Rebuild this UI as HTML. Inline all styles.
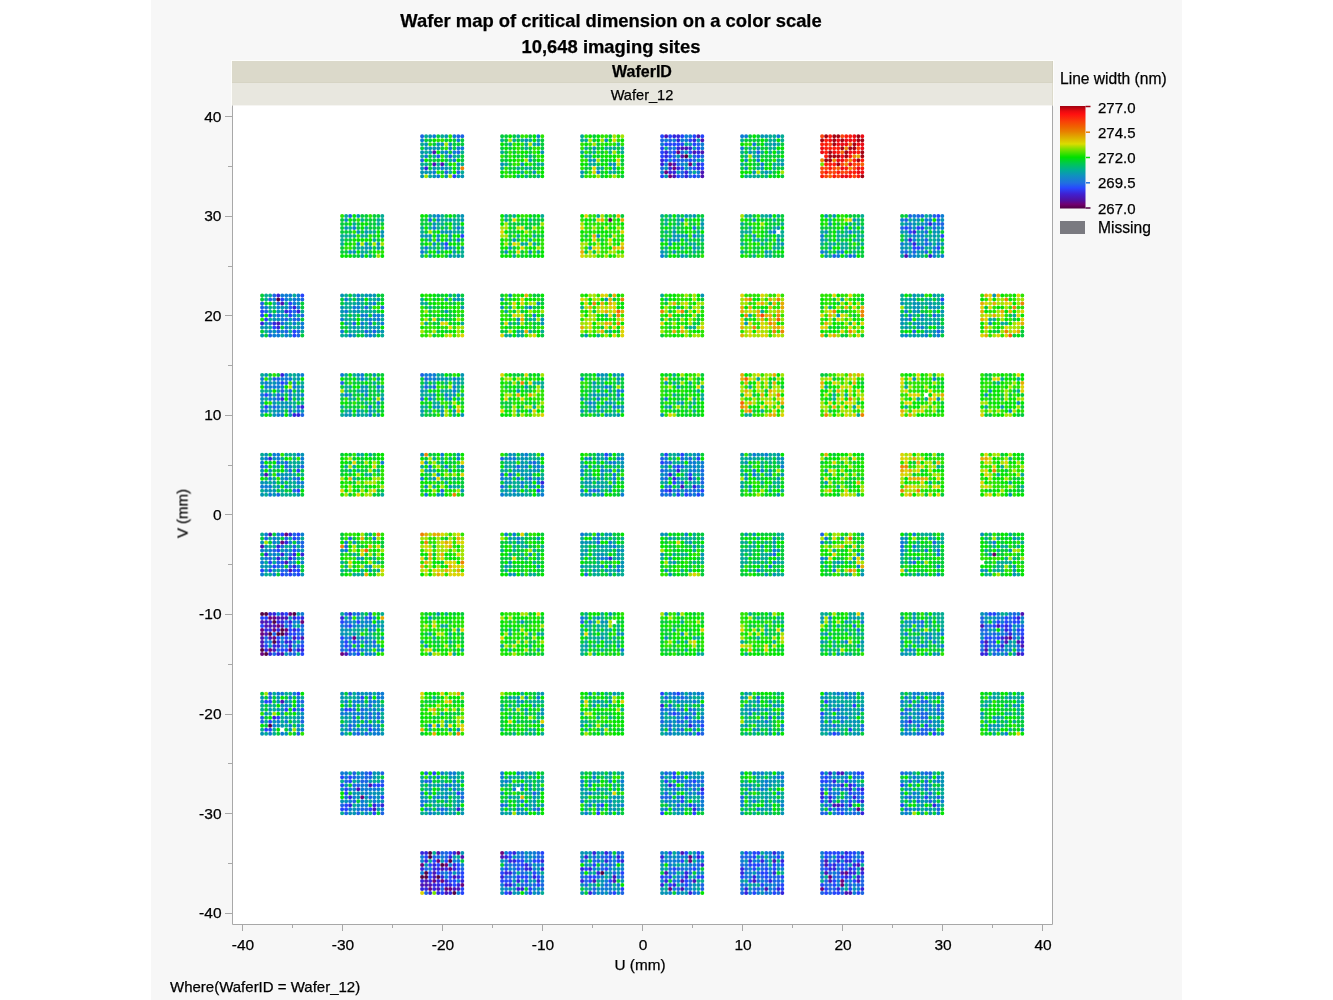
<!DOCTYPE html>
<html><head><meta charset="utf-8"><style>
html,body{margin:0;padding:0;background:#fff;}
body{width:1333px;height:1000px;position:relative;overflow:hidden;font-family:"Liberation Sans",sans-serif;color:#000;-webkit-text-stroke:0.25px #000;}
.panel{position:absolute;left:151px;top:0;width:1031px;height:1000px;background:#f7f7f7;}
.t{position:absolute;white-space:nowrap;will-change:transform;}
.title{left:300px;width:622px;text-align:center;font-weight:bold;font-size:18.4px;}
.hdr{position:absolute;left:232px;width:820.5px;}
.xl{will-change:transform;position:absolute;top:935.5px;width:60px;text-align:center;font-size:15.5px;}
.yl{will-change:transform;position:absolute;left:160px;width:61.5px;text-align:right;font-size:15.5px;}
svg{position:absolute;left:0;top:0;}
</style></head><body>
<div class="panel"></div>
<div class="t title" style="top:10px">Wafer map of critical dimension on a color scale</div>
<div class="t title" style="top:35.8px">10,648 imaging sites</div>
<div style="position:absolute;left:231px;top:59.5px;width:822.5px;height:47px;background:#fdfdfb"></div>
<div class="hdr" style="top:60.5px;height:22px;background:#dbd9ca;box-shadow:inset -1px 0 0 #d3d1c0,inset 0 -1px 0 #d6d4c4"></div>
<div class="hdr" style="top:82.5px;height:23.5px;background:#e8e7df;box-shadow:inset -1px 0 0 #dcdacb,inset 0 -1px 0 #d8d6c8"></div>
<div class="t" style="left:232px;width:820px;top:63.3px;text-align:center;font-weight:bold;font-size:16px">WaferID</div>
<div class="t" style="left:232px;width:820px;top:86.8px;text-align:center;font-size:14.6px">Wafer_12</div>
<svg width="1333" height="1000" viewBox="0 0 1333 1000">
<rect x="232" y="105.5" width="820.5" height="418.5" fill="#fff"/>
<rect x="232" y="105.5" width="820.5" height="818.5" fill="#fff"/>
<path d="M232.5 105.5V924.5H1052.5V105.5" fill="none" stroke="#a8a8a8" stroke-width="1"/>
<path d="M242.5 924v7M232 913.5h-7M292.5 924v4M232 863.5h-4M342.5 924v7M232 813.5h-7M392.5 924v4M232 763.5h-4M442.5 924v7M232 714.5h-7M492.5 924v4M232 664.5h-4M542.5 924v7M232 614.5h-7M592.5 924v4M232 564.5h-4M642.5 924v7M232 514.5h-7M692.5 924v4M232 465.5h-4M742.5 924v7M232 415.5h-7M792.5 924v4M232 365.5h-4M842.5 924v7M232 315.5h-7M892.5 924v4M232 266.5h-4M942.5 924v7M232 216.5h-7M992.5 924v4M232 166.5h-4M1042.5 924v7M232 116.5h-7" stroke="#a8a8a8" stroke-width="1" fill="none"/>
<g stroke-width="4" stroke-linecap="round" fill="none" style="filter:blur(0.5px)">
<path stroke="#1c64e4" d="M422.1 136.2h0M458.3 136.2h0M462.3 136.2h0M458.3 152.2h0M438.2 156.2h0M450.2 156.2h0M422.1 160.2h0M446.2 172.2h0M458.3 172.2h0M662.1 140.2h0M670.1 140.2h0M698.3 144.2h0M670.1 148.2h0M670.1 152.2h0M682.2 152.2h0M674.2 156.2h0M694.3 156.2h0M702.3 156.2h0M678.2 160.2h0M682.2 160.2h0M686.2 160.2h0M694.3 160.2h0M678.2 164.2h0M662.1 168.2h0M690.2 168.2h0M682.2 172.2h0M682.2 176.2h0M690.2 176.2h0M698.3 176.2h0M758.2 152.2h0M350.1 215.9h0M430.1 219.9h0M446.2 247.9h0M834.2 255.9h0M850.2 255.9h0M910.1 215.9h0M918.2 215.9h0M922.2 215.9h0M934.3 215.9h0M906.1 219.9h0M938.3 219.9h0M938.3 223.9h0M942.3 223.9h0M902.1 227.9h0M910.1 227.9h0M934.3 227.9h0M926.2 231.9h0M926.2 239.9h0M926.2 243.9h0M922.2 247.9h0M906.1 251.9h0M914.2 251.9h0M926.2 251.9h0M274.2 295.5h0M270.1 299.5h0M302.3 299.5h0M262.1 303.5h0M278.2 303.5h0M262.1 307.5h0M290.2 307.5h0M266.1 311.5h0M294.3 311.5h0M278.2 315.5h0M302.3 315.5h0M286.2 319.5h0M294.3 319.5h0M298.3 319.5h0M270.1 323.5h0M282.2 323.5h0M278.2 331.5h0M286.2 331.5h0M298.3 331.5h0M270.1 335.5h0M298.3 335.5h0M366.2 307.5h0M382.3 307.5h0M354.2 323.5h0M370.2 323.5h0M366.2 331.5h0M374.3 331.5h0M934.3 315.5h0M910.1 319.5h0M914.2 331.5h0M938.3 331.5h0M274.2 379.1h0M278.2 379.1h0M286.2 383.1h0M282.2 391.1h0M290.2 391.1h0M278.2 395.1h0M278.2 399.1h0M290.2 399.1h0M274.2 407.1h0M298.3 407.1h0M290.2 411.1h0M302.3 415.1h0M342.1 383.1h0M422.1 375.1h0M426.1 379.1h0M426.1 387.1h0M434.2 387.1h0M422.1 399.1h0M278.2 462.8h0M286.2 462.8h0M262.1 466.8h0M286.2 466.8h0M302.3 466.8h0M290.2 470.8h0M298.3 478.8h0M294.3 490.8h0M278.2 494.8h0M442.2 490.8h0M502.1 458.8h0M534.3 462.8h0M518.2 466.8h0M502.1 474.8h0M510.1 474.8h0M530.2 478.8h0M502.1 486.8h0M542.3 486.8h0M594.2 490.8h0M662.1 458.8h0M682.2 458.8h0M690.2 458.8h0M666.1 462.8h0M670.1 462.8h0M674.2 466.8h0M682.2 466.8h0M662.1 470.8h0M702.3 470.8h0M666.1 478.8h0M702.3 478.8h0M682.2 482.8h0M702.3 482.8h0M670.1 486.8h0M698.3 486.8h0M662.1 490.8h0M678.2 490.8h0M686.2 490.8h0M694.3 490.8h0M662.1 494.8h0M670.1 494.8h0M690.2 494.8h0M294.3 534.4h0M266.1 538.4h0M286.2 538.4h0M298.3 538.4h0M302.3 542.4h0M282.2 546.4h0M294.3 546.4h0M302.3 546.4h0M274.2 550.4h0M290.2 554.4h0M270.1 558.4h0M294.3 558.4h0M278.2 562.4h0M278.2 566.4h0M290.2 566.4h0M282.2 570.4h0M286.2 570.4h0M286.2 574.4h0M294.3 574.4h0M350.1 538.4h0M346.1 546.4h0M598.2 542.4h0M586.1 574.4h0M774.3 554.4h0M822.1 534.4h0M934.3 542.4h0M902.1 546.4h0M914.2 562.4h0M286.2 622.1h0M302.3 626.1h0M274.2 634.1h0M298.3 634.1h0M302.3 634.1h0M266.1 638.1h0M266.1 642.1h0M294.3 642.1h0M302.3 642.1h0M282.2 646.1h0M298.3 646.1h0M278.2 650.1h0M294.3 650.1h0M274.2 654.1h0M290.2 654.1h0M294.3 654.1h0M346.1 614.1h0M358.2 614.1h0M370.2 614.1h0M350.1 618.1h0M366.2 618.1h0M346.1 622.1h0M346.1 626.1h0M350.1 638.1h0M362.2 638.1h0M358.2 642.1h0M366.2 642.1h0M374.3 642.1h0M350.1 646.1h0M358.2 646.1h0M342.1 650.1h0M358.2 650.1h0M350.1 654.1h0M582.1 622.1h0M922.2 622.1h0M1014.3 614.1h0M982.1 618.1h0M1010.2 618.1h0M982.1 622.1h0M1010.2 622.1h0M986.1 626.1h0M990.1 626.1h0M1022.3 626.1h0M982.1 630.1h0M986.1 630.1h0M986.1 634.1h0M994.2 634.1h0M1006.2 634.1h0M1018.3 634.1h0M994.2 638.1h0M1014.3 638.1h0M990.1 642.1h0M1002.2 642.1h0M990.1 646.1h0M994.2 646.1h0M1018.3 646.1h0M982.1 650.1h0M1002.2 650.1h0M1018.3 650.1h0M1022.3 650.1h0M994.2 654.1h0M1006.2 654.1h0M270.1 693.7h0M270.1 697.7h0M302.3 701.7h0M262.1 717.7h0M262.1 721.7h0M302.3 721.7h0M298.3 733.7h0M350.1 693.7h0M370.2 697.7h0M370.2 705.7h0M354.2 709.7h0M362.2 709.7h0M370.2 713.7h0M378.3 713.7h0M354.2 717.7h0M362.2 717.7h0M370.2 717.7h0M378.3 717.7h0M350.1 725.7h0M370.2 725.7h0M350.1 729.7h0M358.2 733.7h0M366.2 733.7h0M674.2 693.7h0M666.1 697.7h0M682.2 697.7h0M670.1 705.7h0M662.1 709.7h0M682.2 709.7h0M690.2 709.7h0M670.1 713.7h0M678.2 713.7h0M694.3 713.7h0M662.1 721.7h0M678.2 721.7h0M682.2 721.7h0M690.2 721.7h0M698.3 721.7h0M702.3 721.7h0M670.1 725.7h0M694.3 725.7h0M670.1 729.7h0M682.2 729.7h0M690.2 733.7h0M702.3 733.7h0M758.2 697.7h0M770.2 717.7h0M846.2 693.7h0M834.2 709.7h0M838.2 709.7h0M834.2 725.7h0M862.3 725.7h0M838.2 733.7h0M942.3 693.7h0M910.1 701.7h0M922.2 701.7h0M926.2 701.7h0M918.2 705.7h0M938.3 705.7h0M906.1 709.7h0M910.1 709.7h0M938.3 709.7h0M902.1 713.7h0M922.2 713.7h0M926.2 713.7h0M910.1 717.7h0M922.2 717.7h0M926.2 717.7h0M906.1 721.7h0M930.2 721.7h0M906.1 725.7h0M918.2 725.7h0M922.2 729.7h0M926.2 729.7h0M930.2 729.7h0M918.2 733.7h0M922.2 733.7h0M926.2 733.7h0M942.3 733.7h0M354.2 773.3h0M366.2 773.3h0M382.3 773.3h0M354.2 777.3h0M366.2 777.3h0M370.2 777.3h0M346.1 781.3h0M362.2 781.3h0M366.2 781.3h0M382.3 781.3h0M354.2 785.3h0M358.2 785.3h0M370.2 797.3h0M354.2 801.3h0M342.1 805.3h0M378.3 805.3h0M362.2 809.3h0M366.2 809.3h0M346.1 813.3h0M358.2 813.3h0M382.3 813.3h0M426.1 773.3h0M426.1 781.3h0M430.1 781.3h0M446.2 785.3h0M462.3 797.3h0M422.1 805.3h0M442.2 809.3h0M534.3 793.3h0M502.1 805.3h0M538.3 809.3h0M666.1 773.3h0M662.1 777.3h0M682.2 777.3h0M678.2 781.3h0M690.2 781.3h0M702.3 781.3h0M674.2 785.3h0M686.2 785.3h0M690.2 785.3h0M698.3 785.3h0M674.2 789.3h0M694.3 789.3h0M666.1 793.3h0M698.3 793.3h0M662.1 797.3h0M666.1 797.3h0M670.1 797.3h0M702.3 797.3h0M678.2 805.3h0M694.3 805.3h0M782.3 777.3h0M742.1 797.3h0M854.3 773.3h0M822.1 777.3h0M830.1 777.3h0M854.3 777.3h0M862.3 777.3h0M830.1 781.3h0M830.1 785.3h0M834.2 785.3h0M838.2 785.3h0M842.2 789.3h0M846.2 789.3h0M830.1 793.3h0M854.3 793.3h0M858.3 793.3h0M834.2 797.3h0M858.3 797.3h0M842.2 801.3h0M826.1 805.3h0M842.2 809.3h0M822.1 813.3h0M826.1 813.3h0M838.2 813.3h0M854.3 813.3h0M902.1 773.3h0M926.2 773.3h0M930.2 773.3h0M910.1 781.3h0M926.2 781.3h0M926.2 785.3h0M926.2 789.3h0M930.2 793.3h0M910.1 797.3h0M938.3 797.3h0M918.2 801.3h0M930.2 801.3h0M906.1 809.3h0M938.3 809.3h0M442.2 853.0h0M446.2 853.0h0M434.2 857.0h0M438.2 857.0h0M446.2 857.0h0M426.1 869.0h0M462.3 869.0h0M442.2 873.0h0M458.3 873.0h0M442.2 889.0h0M426.1 893.0h0M522.2 853.0h0M538.3 853.0h0M522.2 857.0h0M538.3 857.0h0M542.3 857.0h0M506.1 865.0h0M514.2 865.0h0M518.2 865.0h0M530.2 865.0h0M522.2 869.0h0M514.2 873.0h0M522.2 873.0h0M506.1 877.0h0M510.1 877.0h0M514.2 885.0h0M522.2 885.0h0M526.2 885.0h0M534.3 885.0h0M542.3 885.0h0M610.2 853.0h0M618.3 853.0h0M622.3 853.0h0M594.2 857.0h0M602.2 857.0h0M606.2 857.0h0M582.1 861.0h0M594.2 861.0h0M598.2 861.0h0M610.2 861.0h0M602.2 865.0h0M610.2 865.0h0M602.2 869.0h0M614.3 873.0h0M582.1 877.0h0M586.1 877.0h0M598.2 877.0h0M622.3 877.0h0M586.1 881.0h0M586.1 885.0h0M606.2 885.0h0M594.2 889.0h0M594.2 893.0h0M610.2 893.0h0M622.3 893.0h0M662.1 861.0h0M698.3 865.0h0M670.1 869.0h0M678.2 869.0h0M682.2 869.0h0M690.2 869.0h0M674.2 873.0h0M690.2 873.0h0M666.1 877.0h0M682.2 877.0h0M674.2 881.0h0M690.2 881.0h0M702.3 885.0h0M678.2 889.0h0M702.3 889.0h0M694.3 893.0h0M778.3 853.0h0M742.1 857.0h0M746.1 857.0h0M750.1 857.0h0M762.2 857.0h0M742.1 865.0h0M762.2 865.0h0M766.2 865.0h0M746.1 869.0h0M762.2 869.0h0M758.2 873.0h0M746.1 877.0h0M762.2 877.0h0M770.2 877.0h0M774.3 877.0h0M778.3 877.0h0M758.2 881.0h0M766.2 881.0h0M774.3 881.0h0M778.3 881.0h0M742.1 885.0h0M778.3 885.0h0M754.2 889.0h0M758.2 889.0h0M774.3 889.0h0M742.1 893.0h0M766.2 893.0h0M778.3 893.0h0M830.1 857.0h0M854.3 857.0h0M862.3 857.0h0M822.1 861.0h0M834.2 861.0h0M822.1 865.0h0M838.2 865.0h0M846.2 865.0h0M822.1 869.0h0M846.2 869.0h0M830.1 873.0h0M838.2 873.0h0M834.2 877.0h0M838.2 877.0h0M862.3 877.0h0M826.1 881.0h0M846.2 881.0h0M862.3 881.0h0M826.1 885.0h0M830.1 885.0h0M850.2 885.0h0M858.3 885.0h0M862.3 885.0h0M830.1 889.0h0M834.2 889.0h0M822.1 893.0h0M830.1 893.0h0M842.2 893.0h0M862.3 893.0h0"/>
<path stroke="#04ac94" d="M426.1 136.2h0M442.2 136.2h0M422.1 144.2h0M426.1 152.2h0M462.3 152.2h0M422.1 156.2h0M434.2 156.2h0M446.2 156.2h0M454.3 156.2h0M458.3 156.2h0M450.2 160.2h0M422.1 164.2h0M426.1 164.2h0M438.2 164.2h0M446.2 164.2h0M462.3 164.2h0M438.2 168.2h0M450.2 168.2h0M458.3 168.2h0M450.2 172.2h0M462.3 172.2h0M430.1 176.2h0M518.2 136.2h0M502.1 140.2h0M514.2 140.2h0M522.2 140.2h0M530.2 140.2h0M538.3 140.2h0M510.1 144.2h0M526.2 144.2h0M534.3 144.2h0M526.2 148.2h0M502.1 152.2h0M530.2 156.2h0M506.1 164.2h0M538.3 164.2h0M542.3 164.2h0M502.1 168.2h0M518.2 168.2h0M526.2 168.2h0M530.2 168.2h0M522.2 172.2h0M518.2 176.2h0M526.2 176.2h0M538.3 176.2h0M582.1 136.2h0M582.1 140.2h0M586.1 140.2h0M618.3 144.2h0M586.1 148.2h0M606.2 148.2h0M610.2 148.2h0M614.3 148.2h0M622.3 148.2h0M582.1 152.2h0M594.2 152.2h0M610.2 152.2h0M622.3 152.2h0M586.1 156.2h0M590.1 156.2h0M590.1 164.2h0M594.2 164.2h0M598.2 168.2h0M602.2 168.2h0M610.2 172.2h0M614.3 172.2h0M582.1 176.2h0M686.2 144.2h0M666.1 148.2h0M690.2 156.2h0M694.3 172.2h0M770.2 136.2h0M774.3 136.2h0M782.3 136.2h0M742.1 140.2h0M770.2 140.2h0M774.3 140.2h0M782.3 140.2h0M766.2 144.2h0M770.2 144.2h0M778.3 144.2h0M750.1 148.2h0M770.2 148.2h0M774.3 148.2h0M742.1 152.2h0M754.2 152.2h0M762.2 152.2h0M770.2 152.2h0M778.3 152.2h0M746.1 156.2h0M754.2 156.2h0M778.3 160.2h0M782.3 160.2h0M742.1 164.2h0M774.3 164.2h0M778.3 164.2h0M758.2 168.2h0M774.3 168.2h0M762.2 172.2h0M770.2 172.2h0M746.1 176.2h0M750.1 176.2h0M754.2 176.2h0M758.2 176.2h0M766.2 176.2h0M346.1 215.9h0M382.3 215.9h0M362.2 219.9h0M378.3 219.9h0M382.3 219.9h0M354.2 223.9h0M378.3 223.9h0M350.1 227.9h0M366.2 227.9h0M370.2 231.9h0M374.3 231.9h0M342.1 235.9h0M346.1 235.9h0M350.1 235.9h0M354.2 235.9h0M362.2 235.9h0M366.2 235.9h0M342.1 239.9h0M374.3 239.9h0M342.1 243.9h0M358.2 247.9h0M362.2 247.9h0M362.2 251.9h0M366.2 251.9h0M370.2 255.9h0M430.1 215.9h0M442.2 215.9h0M458.3 215.9h0M442.2 219.9h0M446.2 219.9h0M454.3 219.9h0M458.3 219.9h0M438.2 223.9h0M442.2 223.9h0M454.3 223.9h0M458.3 223.9h0M422.1 227.9h0M430.1 227.9h0M438.2 227.9h0M446.2 227.9h0M454.3 227.9h0M462.3 227.9h0M422.1 231.9h0M454.3 231.9h0M458.3 231.9h0M462.3 231.9h0M422.1 247.9h0M430.1 247.9h0M434.2 247.9h0M442.2 247.9h0M454.3 247.9h0M426.1 251.9h0M462.3 251.9h0M422.1 255.9h0M430.1 255.9h0M454.3 255.9h0M462.3 255.9h0M506.1 215.9h0M514.2 215.9h0M542.3 215.9h0M506.1 219.9h0M530.2 219.9h0M518.2 235.9h0M534.3 235.9h0M530.2 239.9h0M522.2 243.9h0M526.2 243.9h0M534.3 243.9h0M538.3 251.9h0M514.2 255.9h0M598.2 215.9h0M662.1 215.9h0M670.1 215.9h0M678.2 215.9h0M690.2 215.9h0M666.1 219.9h0M678.2 219.9h0M702.3 219.9h0M666.1 223.9h0M678.2 223.9h0M674.2 227.9h0M702.3 227.9h0M666.1 231.9h0M698.3 231.9h0M698.3 235.9h0M702.3 235.9h0M686.2 239.9h0M702.3 239.9h0M690.2 243.9h0M694.3 243.9h0M666.1 247.9h0M682.2 247.9h0M698.3 247.9h0M666.1 251.9h0M694.3 251.9h0M666.1 255.9h0M686.2 255.9h0M746.1 215.9h0M750.1 215.9h0M762.2 215.9h0M766.2 215.9h0M778.3 215.9h0M774.3 219.9h0M742.1 223.9h0M782.3 223.9h0M750.1 227.9h0M774.3 227.9h0M742.1 231.9h0M746.1 231.9h0M750.1 231.9h0M782.3 231.9h0M742.1 235.9h0M778.3 235.9h0M782.3 235.9h0M754.2 239.9h0M758.2 239.9h0M766.2 239.9h0M742.1 243.9h0M762.2 243.9h0M778.3 243.9h0M774.3 247.9h0M778.3 247.9h0M742.1 251.9h0M770.2 251.9h0M754.2 255.9h0M766.2 255.9h0M770.2 255.9h0M862.3 215.9h0M830.1 219.9h0M858.3 219.9h0M850.2 223.9h0M858.3 223.9h0M854.3 227.9h0M862.3 227.9h0M822.1 231.9h0M838.2 231.9h0M846.2 231.9h0M854.3 231.9h0M858.3 231.9h0M838.2 235.9h0M842.2 235.9h0M846.2 235.9h0M858.3 235.9h0M862.3 235.9h0M826.1 239.9h0M838.2 239.9h0M854.3 239.9h0M858.3 239.9h0M822.1 243.9h0M830.1 243.9h0M834.2 243.9h0M842.2 243.9h0M846.2 243.9h0M862.3 243.9h0M842.2 247.9h0M846.2 247.9h0M858.3 247.9h0M854.3 251.9h0M830.1 255.9h0M846.2 255.9h0M926.2 215.9h0M910.1 219.9h0M902.1 223.9h0M918.2 223.9h0M926.2 227.9h0M930.2 227.9h0M918.2 231.9h0M906.1 235.9h0M926.2 235.9h0M930.2 235.9h0M938.3 235.9h0M918.2 239.9h0M930.2 239.9h0M934.3 239.9h0M934.3 243.9h0M910.1 247.9h0M926.2 247.9h0M930.2 247.9h0M902.1 255.9h0M922.2 255.9h0M938.3 255.9h0M266.1 295.5h0M270.1 295.5h0M294.3 295.5h0M266.1 299.5h0M274.2 303.5h0M286.2 303.5h0M270.1 307.5h0M274.2 307.5h0M270.1 311.5h0M302.3 311.5h0M286.2 315.5h0M298.3 315.5h0M270.1 319.5h0M290.2 323.5h0M298.3 323.5h0M270.1 327.5h0M294.3 327.5h0M266.1 331.5h0M290.2 331.5h0M302.3 331.5h0M282.2 335.5h0M346.1 295.5h0M354.2 295.5h0M362.2 295.5h0M350.1 299.5h0M370.2 299.5h0M374.3 299.5h0M346.1 303.5h0M350.1 303.5h0M354.2 303.5h0M362.2 303.5h0M346.1 307.5h0M350.1 307.5h0M362.2 307.5h0M370.2 307.5h0M350.1 311.5h0M362.2 311.5h0M366.2 311.5h0M370.2 311.5h0M374.3 311.5h0M342.1 315.5h0M346.1 315.5h0M354.2 315.5h0M346.1 319.5h0M350.1 319.5h0M354.2 319.5h0M362.2 319.5h0M382.3 319.5h0M350.1 323.5h0M366.2 323.5h0M378.3 323.5h0M350.1 327.5h0M358.2 327.5h0M366.2 327.5h0M350.1 331.5h0M354.2 331.5h0M358.2 331.5h0M362.2 331.5h0M342.1 335.5h0M346.1 335.5h0M382.3 335.5h0M450.2 295.5h0M422.1 299.5h0M462.3 299.5h0M422.1 303.5h0M426.1 303.5h0M430.1 307.5h0M442.2 319.5h0M426.1 323.5h0M462.3 323.5h0M510.1 307.5h0M526.2 307.5h0M506.1 311.5h0M530.2 319.5h0M534.3 319.5h0M510.1 323.5h0M518.2 323.5h0M518.2 331.5h0M522.2 331.5h0M530.2 331.5h0M542.3 331.5h0M506.1 335.5h0M510.1 335.5h0M518.2 335.5h0M522.2 335.5h0M582.1 307.5h0M606.2 315.5h0M610.2 331.5h0M598.2 335.5h0M662.1 295.5h0M666.1 299.5h0M678.2 307.5h0M690.2 327.5h0M694.3 327.5h0M762.2 311.5h0M750.1 315.5h0M842.2 299.5h0M830.1 307.5h0M902.1 295.5h0M918.2 295.5h0M938.3 295.5h0M942.3 295.5h0M902.1 299.5h0M906.1 299.5h0M926.2 299.5h0M930.2 299.5h0M938.3 299.5h0M906.1 303.5h0M910.1 303.5h0M922.2 303.5h0M926.2 303.5h0M934.3 303.5h0M938.3 303.5h0M906.1 307.5h0M910.1 307.5h0M922.2 307.5h0M934.3 311.5h0M914.2 315.5h0M926.2 315.5h0M942.3 315.5h0M918.2 319.5h0M926.2 319.5h0M930.2 319.5h0M934.3 319.5h0M938.3 319.5h0M906.1 323.5h0M922.2 323.5h0M926.2 323.5h0M934.3 323.5h0M902.1 327.5h0M910.1 327.5h0M926.2 327.5h0M938.3 327.5h0M942.3 327.5h0M930.2 331.5h0M910.1 335.5h0M918.2 335.5h0M1014.3 315.5h0M990.1 319.5h0M994.2 319.5h0M1002.2 323.5h0M1006.2 323.5h0M262.1 375.1h0M290.2 375.1h0M294.3 375.1h0M270.1 379.1h0M294.3 379.1h0M302.3 383.1h0M262.1 391.1h0M266.1 391.1h0M270.1 391.1h0M278.2 391.1h0M286.2 391.1h0M274.2 395.1h0M294.3 395.1h0M266.1 399.1h0M278.2 403.1h0M290.2 403.1h0M294.3 403.1h0M302.3 403.1h0M262.1 407.1h0M294.3 407.1h0M270.1 411.1h0M294.3 411.1h0M262.1 415.1h0M346.1 375.1h0M354.2 375.1h0M358.2 379.1h0M366.2 379.1h0M374.3 383.1h0M346.1 387.1h0M350.1 387.1h0M382.3 387.1h0M346.1 391.1h0M358.2 391.1h0M378.3 391.1h0M342.1 395.1h0M382.3 395.1h0M350.1 399.1h0M354.2 399.1h0M362.2 399.1h0M374.3 399.1h0M366.2 403.1h0M342.1 407.1h0M378.3 407.1h0M346.1 411.1h0M362.2 411.1h0M374.3 411.1h0M342.1 415.1h0M362.2 415.1h0M366.2 415.1h0M438.2 375.1h0M442.2 375.1h0M450.2 379.1h0M462.3 379.1h0M434.2 383.1h0M446.2 383.1h0M454.3 383.1h0M462.3 383.1h0M422.1 387.1h0M458.3 387.1h0M426.1 391.1h0M442.2 391.1h0M446.2 391.1h0M450.2 391.1h0M458.3 391.1h0M422.1 395.1h0M426.1 395.1h0M430.1 395.1h0M450.2 395.1h0M462.3 395.1h0M434.2 399.1h0M446.2 399.1h0M458.3 399.1h0M434.2 403.1h0M438.2 403.1h0M422.1 407.1h0M426.1 407.1h0M442.2 407.1h0M430.1 411.1h0M422.1 415.1h0M454.3 415.1h0M534.3 383.1h0M538.3 383.1h0M542.3 383.1h0M542.3 387.1h0M534.3 407.1h0M518.2 411.1h0M530.2 411.1h0M618.3 375.1h0M602.2 379.1h0M606.2 379.1h0M602.2 383.1h0M618.3 383.1h0M594.2 387.1h0M598.2 387.1h0M602.2 387.1h0M594.2 391.1h0M602.2 391.1h0M590.1 395.1h0M598.2 395.1h0M590.1 399.1h0M610.2 399.1h0M618.3 399.1h0M622.3 399.1h0M586.1 403.1h0M614.3 403.1h0M590.1 407.1h0M602.2 407.1h0M606.2 407.1h0M594.2 411.1h0M614.3 411.1h0M622.3 411.1h0M598.2 415.1h0M610.2 415.1h0M614.3 415.1h0M674.2 375.1h0M674.2 383.1h0M690.2 383.1h0M702.3 387.1h0M698.3 391.1h0M674.2 395.1h0M702.3 395.1h0M694.3 399.1h0M702.3 399.1h0M678.2 403.1h0M694.3 403.1h0M666.1 407.1h0M690.2 407.1h0M694.3 411.1h0M758.2 379.1h0M750.1 387.1h0M762.2 411.1h0M746.1 415.1h0M750.1 415.1h0M826.1 387.1h0M834.2 395.1h0M846.2 395.1h0M834.2 399.1h0M854.3 407.1h0M858.3 415.1h0M906.1 387.1h0M918.2 399.1h0M926.2 399.1h0M906.1 407.1h0M1002.2 379.1h0M1018.3 379.1h0M998.2 383.1h0M1018.3 391.1h0M986.1 407.1h0M262.1 454.8h0M286.2 454.8h0M290.2 454.8h0M294.3 454.8h0M282.2 458.8h0M294.3 458.8h0M290.2 462.8h0M294.3 462.8h0M298.3 462.8h0M274.2 466.8h0M294.3 466.8h0M286.2 470.8h0M270.1 474.8h0M294.3 474.8h0M302.3 474.8h0M274.2 478.8h0M290.2 478.8h0M270.1 482.8h0M290.2 482.8h0M294.3 482.8h0M274.2 486.8h0M290.2 486.8h0M294.3 486.8h0M298.3 486.8h0M262.1 490.8h0M282.2 490.8h0M266.1 494.8h0M282.2 494.8h0M286.2 494.8h0M290.2 494.8h0M294.3 494.8h0M358.2 454.8h0M362.2 454.8h0M370.2 454.8h0M346.1 466.8h0M354.2 466.8h0M350.1 470.8h0M358.2 470.8h0M378.3 470.8h0M366.2 474.8h0M370.2 474.8h0M354.2 478.8h0M382.3 494.8h0M434.2 458.8h0M442.2 458.8h0M450.2 458.8h0M442.2 462.8h0M422.1 466.8h0M458.3 466.8h0M426.1 470.8h0M434.2 470.8h0M430.1 478.8h0M442.2 478.8h0M454.3 478.8h0M446.2 482.8h0M434.2 486.8h0M454.3 486.8h0M458.3 486.8h0M530.2 454.8h0M534.3 454.8h0M518.2 458.8h0M530.2 458.8h0M534.3 458.8h0M538.3 458.8h0M506.1 462.8h0M510.1 462.8h0M514.2 462.8h0M526.2 462.8h0M510.1 466.8h0M502.1 470.8h0M506.1 470.8h0M526.2 470.8h0M542.3 474.8h0M534.3 478.8h0M542.3 478.8h0M514.2 482.8h0M518.2 482.8h0M526.2 482.8h0M514.2 486.8h0M518.2 486.8h0M502.1 490.8h0M510.1 490.8h0M518.2 490.8h0M526.2 490.8h0M526.2 494.8h0M530.2 494.8h0M538.3 494.8h0M602.2 454.8h0M618.3 454.8h0M602.2 458.8h0M582.1 462.8h0M598.2 462.8h0M606.2 462.8h0M618.3 462.8h0M582.1 466.8h0M594.2 466.8h0M614.3 466.8h0M590.1 470.8h0M606.2 470.8h0M590.1 474.8h0M586.1 478.8h0M594.2 478.8h0M610.2 478.8h0M582.1 482.8h0M602.2 482.8h0M606.2 482.8h0M586.1 486.8h0M590.1 486.8h0M594.2 486.8h0M598.2 486.8h0M606.2 486.8h0M602.2 490.8h0M622.3 490.8h0M582.1 494.8h0M598.2 494.8h0M662.1 454.8h0M670.1 454.8h0M674.2 454.8h0M690.2 454.8h0M674.2 458.8h0M694.3 458.8h0M674.2 462.8h0M678.2 462.8h0M662.1 466.8h0M682.2 470.8h0M686.2 470.8h0M694.3 474.8h0M698.3 474.8h0M682.2 478.8h0M686.2 478.8h0M662.1 482.8h0M690.2 482.8h0M698.3 482.8h0M678.2 486.8h0M686.2 486.8h0M690.2 486.8h0M674.2 494.8h0M682.2 494.8h0M750.1 454.8h0M770.2 454.8h0M774.3 454.8h0M742.1 458.8h0M746.1 458.8h0M754.2 458.8h0M758.2 458.8h0M766.2 458.8h0M770.2 458.8h0M742.1 462.8h0M762.2 462.8h0M770.2 462.8h0M778.3 462.8h0M750.1 466.8h0M762.2 466.8h0M742.1 470.8h0M758.2 474.8h0M766.2 474.8h0M758.2 478.8h0M742.1 482.8h0M762.2 482.8h0M774.3 482.8h0M778.3 482.8h0M770.2 486.8h0M778.3 486.8h0M750.1 490.8h0M770.2 490.8h0M782.3 490.8h0M826.1 470.8h0M838.2 486.8h0M858.3 494.8h0M938.3 466.8h0M930.2 482.8h0M1010.2 458.8h0M1002.2 466.8h0M998.2 474.8h0M1022.3 474.8h0M1010.2 482.8h0M1022.3 486.8h0M262.1 534.4h0M270.1 538.4h0M290.2 538.4h0M302.3 538.4h0M270.1 546.4h0M274.2 546.4h0M286.2 546.4h0M290.2 546.4h0M298.3 546.4h0M286.2 558.4h0M298.3 558.4h0M302.3 558.4h0M266.1 562.4h0M274.2 562.4h0M278.2 570.4h0M266.1 574.4h0M270.1 574.4h0M370.2 534.4h0M354.2 554.4h0M374.3 558.4h0M342.1 562.4h0M378.3 562.4h0M346.1 566.4h0M366.2 566.4h0M342.1 570.4h0M350.1 570.4h0M362.2 570.4h0M378.3 570.4h0M354.2 574.4h0M358.2 574.4h0M362.2 574.4h0M526.2 534.4h0M514.2 538.4h0M522.2 538.4h0M510.1 542.4h0M522.2 542.4h0M514.2 546.4h0M522.2 546.4h0M542.3 546.4h0M502.1 550.4h0M514.2 550.4h0M534.3 550.4h0M510.1 554.4h0M522.2 554.4h0M538.3 554.4h0M526.2 558.4h0M538.3 558.4h0M534.3 562.4h0M510.1 566.4h0M506.1 570.4h0M522.2 574.4h0M530.2 574.4h0M534.3 574.4h0M590.1 534.4h0M582.1 538.4h0M602.2 538.4h0M606.2 538.4h0M614.3 538.4h0M622.3 538.4h0M594.2 542.4h0M614.3 542.4h0M582.1 546.4h0M586.1 546.4h0M598.2 546.4h0M606.2 546.4h0M618.3 546.4h0M622.3 546.4h0M582.1 550.4h0M594.2 550.4h0M598.2 550.4h0M602.2 550.4h0M606.2 550.4h0M610.2 550.4h0M586.1 554.4h0M594.2 554.4h0M606.2 554.4h0M622.3 554.4h0M582.1 558.4h0M590.1 558.4h0M614.3 558.4h0M622.3 558.4h0M598.2 562.4h0M586.1 566.4h0M590.1 566.4h0M594.2 566.4h0M598.2 566.4h0M586.1 570.4h0M598.2 570.4h0M610.2 570.4h0M614.3 570.4h0M622.3 570.4h0M594.2 574.4h0M598.2 574.4h0M618.3 574.4h0M622.3 574.4h0M694.3 534.4h0M674.2 538.4h0M682.2 538.4h0M686.2 538.4h0M690.2 538.4h0M694.3 538.4h0M702.3 538.4h0M686.2 542.4h0M702.3 546.4h0M694.3 550.4h0M674.2 554.4h0M682.2 554.4h0M686.2 554.4h0M662.1 558.4h0M702.3 558.4h0M670.1 562.4h0M694.3 562.4h0M702.3 562.4h0M682.2 570.4h0M690.2 570.4h0M778.3 534.4h0M782.3 534.4h0M758.2 538.4h0M782.3 538.4h0M742.1 542.4h0M746.1 542.4h0M754.2 542.4h0M766.2 542.4h0M750.1 546.4h0M754.2 546.4h0M774.3 546.4h0M742.1 550.4h0M746.1 550.4h0M750.1 550.4h0M762.2 550.4h0M742.1 554.4h0M750.1 554.4h0M762.2 554.4h0M766.2 554.4h0M742.1 558.4h0M746.1 558.4h0M762.2 558.4h0M766.2 558.4h0M778.3 558.4h0M742.1 562.4h0M746.1 562.4h0M754.2 562.4h0M758.2 562.4h0M766.2 562.4h0M778.3 562.4h0M782.3 562.4h0M742.1 566.4h0M762.2 566.4h0M750.1 570.4h0M762.2 570.4h0M778.3 570.4h0M778.3 574.4h0M782.3 574.4h0M830.1 542.4h0M834.2 550.4h0M862.3 550.4h0M862.3 558.4h0M822.1 562.4h0M834.2 562.4h0M842.2 562.4h0M850.2 562.4h0M826.1 566.4h0M834.2 566.4h0M862.3 570.4h0M842.2 574.4h0M850.2 574.4h0M906.1 534.4h0M922.2 534.4h0M926.2 534.4h0M930.2 534.4h0M942.3 534.4h0M934.3 538.4h0M942.3 538.4h0M918.2 542.4h0M938.3 542.4h0M942.3 542.4h0M918.2 546.4h0M934.3 546.4h0M938.3 546.4h0M906.1 550.4h0M914.2 550.4h0M918.2 550.4h0M934.3 550.4h0M902.1 558.4h0M910.1 558.4h0M902.1 562.4h0M922.2 562.4h0M906.1 570.4h0M910.1 574.4h0M926.2 574.4h0M990.1 534.4h0M1010.2 534.4h0M986.1 538.4h0M998.2 538.4h0M1018.3 538.4h0M990.1 542.4h0M1022.3 542.4h0M994.2 546.4h0M1002.2 546.4h0M1006.2 546.4h0M1018.3 546.4h0M986.1 550.4h0M998.2 550.4h0M1006.2 558.4h0M1014.3 558.4h0M998.2 562.4h0M1002.2 562.4h0M1006.2 562.4h0M1010.2 562.4h0M998.2 566.4h0M1002.2 566.4h0M994.2 570.4h0M998.2 570.4h0M1002.2 570.4h0M986.1 574.4h0M990.1 574.4h0M1018.3 574.4h0M298.3 626.1h0M298.3 642.1h0M298.3 654.1h0M342.1 614.1h0M362.2 614.1h0M382.3 614.1h0M346.1 618.1h0M362.2 618.1h0M382.3 622.1h0M378.3 626.1h0M354.2 630.1h0M358.2 630.1h0M362.2 630.1h0M382.3 630.1h0M350.1 634.1h0M358.2 634.1h0M370.2 634.1h0M374.3 638.1h0M362.2 642.1h0M370.2 650.1h0M446.2 614.1h0M442.2 626.1h0M446.2 626.1h0M458.3 630.1h0M430.1 634.1h0M450.2 634.1h0M434.2 638.1h0M422.1 642.1h0M450.2 642.1h0M462.3 650.1h0M430.1 654.1h0M454.3 654.1h0M510.1 630.1h0M510.1 634.1h0M530.2 634.1h0M538.3 634.1h0M542.3 634.1h0M502.1 646.1h0M530.2 646.1h0M510.1 650.1h0M538.3 650.1h0M586.1 614.1h0M602.2 614.1h0M594.2 618.1h0M602.2 618.1h0M594.2 622.1h0M586.1 626.1h0M590.1 626.1h0M598.2 626.1h0M602.2 626.1h0M606.2 626.1h0M618.3 626.1h0M582.1 630.1h0M590.1 630.1h0M598.2 630.1h0M606.2 630.1h0M610.2 630.1h0M618.3 630.1h0M582.1 634.1h0M590.1 634.1h0M602.2 634.1h0M606.2 634.1h0M590.1 638.1h0M594.2 638.1h0M598.2 638.1h0M606.2 638.1h0M614.3 638.1h0M586.1 642.1h0M598.2 642.1h0M606.2 642.1h0M610.2 642.1h0M618.3 642.1h0M582.1 646.1h0M594.2 646.1h0M606.2 646.1h0M582.1 650.1h0M586.1 650.1h0M602.2 650.1h0M582.1 654.1h0M594.2 654.1h0M622.3 654.1h0M678.2 614.1h0M682.2 622.1h0M674.2 630.1h0M694.3 638.1h0M698.3 638.1h0M678.2 642.1h0M686.2 642.1h0M686.2 650.1h0M698.3 654.1h0M702.3 654.1h0M750.1 614.1h0M770.2 614.1h0M758.2 618.1h0M778.3 618.1h0M774.3 622.1h0M782.3 622.1h0M766.2 626.1h0M766.2 630.1h0M782.3 630.1h0M766.2 634.1h0M758.2 638.1h0M742.1 642.1h0M774.3 642.1h0M746.1 654.1h0M822.1 614.1h0M826.1 614.1h0M850.2 614.1h0M854.3 614.1h0M850.2 618.1h0M858.3 618.1h0M862.3 618.1h0M822.1 622.1h0M830.1 622.1h0M850.2 622.1h0M830.1 626.1h0M838.2 626.1h0M830.1 630.1h0M846.2 630.1h0M822.1 634.1h0M850.2 634.1h0M858.3 634.1h0M862.3 634.1h0M830.1 638.1h0M826.1 642.1h0M834.2 642.1h0M842.2 642.1h0M834.2 646.1h0M862.3 646.1h0M822.1 650.1h0M830.1 650.1h0M838.2 650.1h0M862.3 650.1h0M830.1 654.1h0M846.2 654.1h0M850.2 654.1h0M926.2 614.1h0M934.3 614.1h0M938.3 614.1h0M942.3 614.1h0M930.2 618.1h0M938.3 618.1h0M942.3 618.1h0M938.3 622.1h0M942.3 622.1h0M906.1 626.1h0M930.2 626.1h0M942.3 626.1h0M902.1 630.1h0M918.2 630.1h0M934.3 630.1h0M902.1 634.1h0M934.3 634.1h0M910.1 638.1h0M914.2 638.1h0M926.2 638.1h0M934.3 638.1h0M938.3 638.1h0M914.2 642.1h0M938.3 642.1h0M902.1 646.1h0M910.1 646.1h0M918.2 646.1h0M938.3 646.1h0M910.1 654.1h0M926.2 654.1h0M1002.2 614.1h0M1006.2 614.1h0M1014.3 642.1h0M990.1 654.1h0M274.2 693.7h0M286.2 693.7h0M290.2 693.7h0M302.3 697.7h0M290.2 701.7h0M262.1 705.7h0M270.1 705.7h0M274.2 705.7h0M302.3 705.7h0M262.1 709.7h0M274.2 709.7h0M270.1 713.7h0M298.3 713.7h0M282.2 717.7h0M290.2 717.7h0M294.3 717.7h0M266.1 721.7h0M282.2 721.7h0M294.3 721.7h0M298.3 721.7h0M286.2 725.7h0M302.3 725.7h0M262.1 729.7h0M274.2 729.7h0M266.1 733.7h0M274.2 733.7h0M354.2 693.7h0M374.3 693.7h0M346.1 697.7h0M350.1 697.7h0M354.2 697.7h0M342.1 701.7h0M366.2 705.7h0M374.3 705.7h0M382.3 705.7h0M378.3 709.7h0M382.3 713.7h0M342.1 717.7h0M350.1 717.7h0M382.3 717.7h0M346.1 721.7h0M346.1 725.7h0M342.1 729.7h0M366.2 729.7h0M382.3 729.7h0M346.1 733.7h0M434.2 697.7h0M442.2 713.7h0M446.2 721.7h0M446.2 725.7h0M430.1 729.7h0M522.2 693.7h0M538.3 693.7h0M514.2 697.7h0M530.2 701.7h0M534.3 701.7h0M538.3 701.7h0M542.3 701.7h0M502.1 705.7h0M510.1 705.7h0M518.2 705.7h0M502.1 709.7h0M514.2 709.7h0M526.2 713.7h0M538.3 713.7h0M510.1 717.7h0M538.3 717.7h0M518.2 721.7h0M534.3 721.7h0M502.1 729.7h0M530.2 729.7h0M534.3 729.7h0M514.2 733.7h0M526.2 733.7h0M534.3 733.7h0M542.3 733.7h0M598.2 693.7h0M606.2 693.7h0M618.3 693.7h0M610.2 697.7h0M582.1 701.7h0M594.2 701.7h0M602.2 701.7h0M602.2 705.7h0M622.3 709.7h0M582.1 713.7h0M598.2 717.7h0M610.2 717.7h0M582.1 721.7h0M586.1 721.7h0M590.1 725.7h0M606.2 725.7h0M586.1 729.7h0M602.2 729.7h0M602.2 733.7h0M666.1 693.7h0M686.2 693.7h0M662.1 697.7h0M694.3 697.7h0M698.3 697.7h0M662.1 701.7h0M666.1 701.7h0M674.2 701.7h0M674.2 705.7h0M690.2 705.7h0M678.2 709.7h0M698.3 709.7h0M702.3 709.7h0M666.1 713.7h0M666.1 717.7h0M670.1 717.7h0M674.2 717.7h0M694.3 717.7h0M686.2 721.7h0M674.2 729.7h0M662.1 733.7h0M694.3 733.7h0M750.1 693.7h0M778.3 693.7h0M746.1 697.7h0M750.1 701.7h0M754.2 701.7h0M778.3 701.7h0M750.1 705.7h0M758.2 705.7h0M782.3 705.7h0M742.1 709.7h0M762.2 709.7h0M770.2 709.7h0M742.1 713.7h0M746.1 713.7h0M758.2 713.7h0M770.2 713.7h0M774.3 713.7h0M746.1 717.7h0M782.3 717.7h0M746.1 721.7h0M750.1 721.7h0M754.2 721.7h0M762.2 721.7h0M770.2 721.7h0M742.1 725.7h0M758.2 725.7h0M762.2 725.7h0M766.2 725.7h0M770.2 725.7h0M782.3 729.7h0M746.1 733.7h0M754.2 733.7h0M762.2 733.7h0M830.1 693.7h0M830.1 697.7h0M834.2 697.7h0M838.2 697.7h0M842.2 697.7h0M862.3 697.7h0M838.2 701.7h0M842.2 701.7h0M846.2 701.7h0M850.2 701.7h0M858.3 701.7h0M862.3 701.7h0M834.2 705.7h0M846.2 705.7h0M850.2 705.7h0M826.1 709.7h0M854.3 709.7h0M858.3 709.7h0M830.1 713.7h0M846.2 713.7h0M854.3 713.7h0M826.1 717.7h0M850.2 717.7h0M854.3 717.7h0M862.3 717.7h0M846.2 721.7h0M842.2 725.7h0M846.2 725.7h0M850.2 725.7h0M858.3 725.7h0M830.1 729.7h0M834.2 729.7h0M838.2 729.7h0M842.2 729.7h0M854.3 729.7h0M858.3 729.7h0M822.1 733.7h0M826.1 733.7h0M842.2 733.7h0M850.2 733.7h0M902.1 693.7h0M910.1 693.7h0M922.2 693.7h0M910.1 697.7h0M930.2 697.7h0M906.1 701.7h0M918.2 701.7h0M930.2 701.7h0M906.1 705.7h0M934.3 705.7h0M914.2 709.7h0M926.2 709.7h0M942.3 709.7h0M910.1 713.7h0M902.1 717.7h0M914.2 717.7h0M934.3 717.7h0M914.2 725.7h0M930.2 725.7h0M942.3 725.7h0M938.3 733.7h0M994.2 693.7h0M998.2 693.7h0M1010.2 693.7h0M1018.3 693.7h0M990.1 697.7h0M998.2 697.7h0M1006.2 697.7h0M1014.3 697.7h0M1018.3 697.7h0M986.1 701.7h0M990.1 701.7h0M1018.3 701.7h0M1022.3 701.7h0M982.1 705.7h0M1018.3 709.7h0M1006.2 713.7h0M1010.2 713.7h0M1018.3 713.7h0M982.1 717.7h0M1002.2 717.7h0M1022.3 717.7h0M986.1 721.7h0M998.2 721.7h0M1006.2 721.7h0M1014.3 721.7h0M982.1 725.7h0M1002.2 725.7h0M994.2 729.7h0M998.2 729.7h0M1010.2 729.7h0M994.2 733.7h0M1002.2 733.7h0M350.1 773.3h0M358.2 773.3h0M378.3 777.3h0M342.1 781.3h0M354.2 781.3h0M374.3 781.3h0M378.3 781.3h0M382.3 789.3h0M370.2 801.3h0M354.2 805.3h0M342.1 813.3h0M362.2 813.3h0M370.2 813.3h0M446.2 773.3h0M458.3 773.3h0M462.3 773.3h0M422.1 777.3h0M458.3 777.3h0M442.2 781.3h0M422.1 785.3h0M434.2 785.3h0M426.1 789.3h0M458.3 789.3h0M462.3 789.3h0M438.2 793.3h0M442.2 793.3h0M454.3 793.3h0M426.1 797.3h0M454.3 797.3h0M458.3 797.3h0M430.1 801.3h0M454.3 801.3h0M434.2 805.3h0M438.2 805.3h0M442.2 805.3h0M454.3 805.3h0M450.2 809.3h0M454.3 809.3h0M462.3 809.3h0M422.1 813.3h0M426.1 813.3h0M438.2 813.3h0M450.2 813.3h0M526.2 773.3h0M534.3 773.3h0M514.2 777.3h0M518.2 777.3h0M526.2 777.3h0M534.3 777.3h0M542.3 777.3h0M526.2 781.3h0M530.2 781.3h0M538.3 781.3h0M542.3 781.3h0M506.1 785.3h0M514.2 785.3h0M518.2 785.3h0M538.3 785.3h0M538.3 789.3h0M526.2 793.3h0M530.2 793.3h0M514.2 797.3h0M518.2 797.3h0M538.3 797.3h0M506.1 801.3h0M518.2 801.3h0M530.2 801.3h0M518.2 805.3h0M530.2 805.3h0M502.1 809.3h0M510.1 809.3h0M530.2 809.3h0M506.1 813.3h0M538.3 813.3h0M582.1 773.3h0M598.2 773.3h0M602.2 773.3h0M618.3 773.3h0M606.2 777.3h0M610.2 777.3h0M622.3 777.3h0M594.2 781.3h0M618.3 781.3h0M614.3 785.3h0M586.1 789.3h0M602.2 789.3h0M606.2 789.3h0M614.3 789.3h0M582.1 793.3h0M594.2 793.3h0M598.2 793.3h0M606.2 793.3h0M610.2 793.3h0M582.1 797.3h0M586.1 797.3h0M610.2 797.3h0M622.3 797.3h0M590.1 801.3h0M598.2 801.3h0M602.2 801.3h0M606.2 801.3h0M614.3 801.3h0M618.3 801.3h0M622.3 801.3h0M586.1 805.3h0M614.3 805.3h0M586.1 809.3h0M602.2 809.3h0M618.3 809.3h0M582.1 813.3h0M590.1 813.3h0M698.3 773.3h0M666.1 777.3h0M662.1 781.3h0M670.1 781.3h0M662.1 785.3h0M662.1 789.3h0M690.2 789.3h0M698.3 789.3h0M662.1 793.3h0M670.1 793.3h0M686.2 793.3h0M686.2 797.3h0M694.3 797.3h0M698.3 797.3h0M662.1 801.3h0M686.2 801.3h0M694.3 801.3h0M698.3 801.3h0M674.2 805.3h0M682.2 805.3h0M674.2 813.3h0M766.2 773.3h0M762.2 777.3h0M770.2 777.3h0M746.1 781.3h0M758.2 781.3h0M778.3 781.3h0M754.2 785.3h0M774.3 785.3h0M778.3 785.3h0M754.2 789.3h0M774.3 789.3h0M762.2 793.3h0M766.2 793.3h0M770.2 793.3h0M782.3 793.3h0M754.2 797.3h0M758.2 797.3h0M762.2 797.3h0M770.2 797.3h0M774.3 797.3h0M782.3 797.3h0M750.1 801.3h0M758.2 801.3h0M774.3 801.3h0M750.1 805.3h0M770.2 805.3h0M746.1 809.3h0M766.2 809.3h0M782.3 809.3h0M754.2 813.3h0M762.2 813.3h0M770.2 813.3h0M838.2 781.3h0M858.3 781.3h0M826.1 789.3h0M834.2 789.3h0M854.3 789.3h0M846.2 793.3h0M838.2 797.3h0M822.1 805.3h0M850.2 809.3h0M862.3 809.3h0M914.2 773.3h0M934.3 773.3h0M910.1 777.3h0M926.2 777.3h0M906.1 781.3h0M914.2 781.3h0M914.2 785.3h0M918.2 789.3h0M922.2 789.3h0M930.2 789.3h0M934.3 789.3h0M938.3 789.3h0M942.3 789.3h0M910.1 793.3h0M926.2 793.3h0M934.3 793.3h0M942.3 793.3h0M902.1 797.3h0M922.2 797.3h0M902.1 801.3h0M906.1 805.3h0M918.2 805.3h0M942.3 805.3h0M922.2 809.3h0M934.3 809.3h0M434.2 853.0h0M458.3 857.0h0M430.1 861.0h0M518.2 873.0h0M542.3 873.0h0M518.2 885.0h0M542.3 893.0h0M594.2 873.0h0M606.2 877.0h0M598.2 881.0h0M590.1 885.0h0M614.3 885.0h0M586.1 889.0h0M674.2 853.0h0M690.2 853.0h0M686.2 861.0h0M694.3 861.0h0M678.2 865.0h0M666.1 869.0h0M678.2 873.0h0M674.2 877.0h0M690.2 877.0h0M698.3 881.0h0M702.3 881.0h0M666.1 885.0h0M678.2 885.0h0M666.1 889.0h0M698.3 889.0h0M762.2 853.0h0M758.2 857.0h0M766.2 857.0h0M770.2 861.0h0M778.3 861.0h0M770.2 865.0h0M782.3 873.0h0M746.1 881.0h0M750.1 885.0h0M758.2 885.0h0M862.3 865.0h0M858.3 873.0h0M826.1 877.0h0M854.3 877.0h0M822.1 881.0h0M846.2 889.0h0"/>
<path stroke="#0494b4" d="M430.1 136.2h0M446.2 136.2h0M426.1 144.2h0M438.2 144.2h0M442.2 144.2h0M450.2 144.2h0M426.1 148.2h0M430.1 148.2h0M434.2 148.2h0M438.2 148.2h0M422.1 152.2h0M430.1 152.2h0M442.2 152.2h0M458.3 164.2h0M422.1 168.2h0M434.2 168.2h0M446.2 168.2h0M422.1 172.2h0M426.1 172.2h0M430.1 172.2h0M422.1 176.2h0M434.2 176.2h0M446.2 176.2h0M458.3 176.2h0M462.3 176.2h0M526.2 140.2h0M538.3 144.2h0M542.3 152.2h0M530.2 160.2h0M502.1 164.2h0M522.2 164.2h0M534.3 172.2h0M606.2 140.2h0M594.2 148.2h0M590.1 160.2h0M594.2 160.2h0M610.2 164.2h0M614.3 164.2h0M614.3 168.2h0M582.1 172.2h0M698.3 140.2h0M690.2 144.2h0M694.3 148.2h0M686.2 152.2h0M678.2 156.2h0M698.3 160.2h0M702.3 160.2h0M686.2 164.2h0M694.3 164.2h0M666.1 168.2h0M686.2 168.2h0M678.2 172.2h0M666.1 176.2h0M762.2 136.2h0M766.2 136.2h0M774.3 144.2h0M758.2 148.2h0M750.1 152.2h0M758.2 156.2h0M746.1 160.2h0M782.3 164.2h0M746.1 168.2h0M762.2 168.2h0M754.2 172.2h0M766.2 172.2h0M358.2 215.9h0M346.1 219.9h0M346.1 227.9h0M358.2 231.9h0M366.2 231.9h0M382.3 231.9h0M382.3 235.9h0M358.2 243.9h0M366.2 243.9h0M378.3 243.9h0M366.2 247.9h0M370.2 247.9h0M378.3 247.9h0M350.1 251.9h0M354.2 251.9h0M362.2 255.9h0M434.2 215.9h0M462.3 215.9h0M450.2 219.9h0M462.3 219.9h0M434.2 223.9h0M442.2 231.9h0M446.2 231.9h0M450.2 231.9h0M422.1 235.9h0M426.1 235.9h0M430.1 235.9h0M438.2 235.9h0M450.2 235.9h0M430.1 239.9h0M450.2 239.9h0M434.2 243.9h0M442.2 243.9h0M450.2 247.9h0M462.3 247.9h0M438.2 251.9h0M454.3 251.9h0M450.2 255.9h0M458.3 255.9h0M514.2 239.9h0M510.1 247.9h0M506.1 251.9h0M530.2 251.9h0M598.2 235.9h0M590.1 247.9h0M686.2 215.9h0M694.3 215.9h0M702.3 223.9h0M674.2 231.9h0M674.2 235.9h0M678.2 235.9h0M682.2 235.9h0M686.2 235.9h0M662.1 239.9h0M670.1 239.9h0M674.2 239.9h0M678.2 239.9h0M670.1 243.9h0M694.3 247.9h0M662.1 251.9h0M674.2 251.9h0M682.2 255.9h0M770.2 215.9h0M754.2 219.9h0M778.3 227.9h0M770.2 231.9h0M754.2 235.9h0M778.3 239.9h0M782.3 243.9h0M766.2 251.9h0M826.1 215.9h0M834.2 215.9h0M854.3 219.9h0M830.1 223.9h0M846.2 227.9h0M826.1 231.9h0M822.1 239.9h0M830.1 247.9h0M826.1 251.9h0M838.2 251.9h0M826.1 255.9h0M930.2 215.9h0M914.2 219.9h0M918.2 219.9h0M942.3 219.9h0M906.1 223.9h0M914.2 223.9h0M922.2 223.9h0M914.2 227.9h0M938.3 227.9h0M902.1 231.9h0M906.1 231.9h0M922.2 231.9h0M934.3 231.9h0M938.3 231.9h0M910.1 235.9h0M918.2 235.9h0M934.3 235.9h0M906.1 239.9h0M922.2 239.9h0M938.3 239.9h0M906.1 243.9h0M918.2 243.9h0M922.2 243.9h0M942.3 243.9h0M902.1 247.9h0M906.1 247.9h0M910.1 251.9h0M918.2 251.9h0M922.2 251.9h0M938.3 251.9h0M918.2 255.9h0M290.2 299.5h0M298.3 303.5h0M282.2 307.5h0M286.2 307.5h0M278.2 311.5h0M282.2 311.5h0M274.2 315.5h0M274.2 319.5h0M278.2 319.5h0M290.2 319.5h0M266.1 323.5h0M286.2 323.5h0M262.1 327.5h0M266.1 327.5h0M290.2 327.5h0M298.3 327.5h0M274.2 331.5h0M262.1 335.5h0M290.2 335.5h0M342.1 295.5h0M366.2 295.5h0M370.2 295.5h0M374.3 295.5h0M358.2 299.5h0M362.2 299.5h0M378.3 299.5h0M358.2 303.5h0M370.2 303.5h0M342.1 307.5h0M342.1 311.5h0M354.2 311.5h0M358.2 311.5h0M382.3 315.5h0M366.2 319.5h0M374.3 319.5h0M346.1 323.5h0M354.2 327.5h0M362.2 327.5h0M370.2 327.5h0M374.3 327.5h0M378.3 327.5h0M370.2 331.5h0M378.3 331.5h0M382.3 331.5h0M354.2 335.5h0M366.2 335.5h0M374.3 335.5h0M458.3 295.5h0M446.2 299.5h0M454.3 299.5h0M458.3 299.5h0M462.3 307.5h0M446.2 311.5h0M510.1 295.5h0M502.1 299.5h0M538.3 303.5h0M502.1 307.5h0M518.2 319.5h0M542.3 319.5h0M542.3 323.5h0M606.2 299.5h0M586.1 335.5h0M702.3 295.5h0M746.1 323.5h0M838.2 315.5h0M914.2 295.5h0M922.2 295.5h0M934.3 295.5h0M910.1 299.5h0M914.2 299.5h0M902.1 303.5h0M914.2 303.5h0M918.2 303.5h0M930.2 303.5h0M942.3 303.5h0M914.2 307.5h0M918.2 307.5h0M930.2 307.5h0M934.3 307.5h0M938.3 307.5h0M914.2 311.5h0M918.2 311.5h0M942.3 311.5h0M902.1 315.5h0M938.3 315.5h0M902.1 319.5h0M906.1 319.5h0M922.2 319.5h0M902.1 323.5h0M914.2 323.5h0M918.2 323.5h0M930.2 323.5h0M938.3 323.5h0M906.1 327.5h0M918.2 327.5h0M926.2 331.5h0M934.3 331.5h0M942.3 331.5h0M902.1 335.5h0M914.2 335.5h0M922.2 335.5h0M934.3 335.5h0M994.2 295.5h0M990.1 323.5h0M266.1 375.1h0M298.3 375.1h0M298.3 379.1h0M262.1 383.1h0M270.1 383.1h0M274.2 383.1h0M298.3 387.1h0M302.3 387.1h0M298.3 391.1h0M282.2 395.1h0M298.3 395.1h0M262.1 399.1h0M298.3 399.1h0M262.1 403.1h0M274.2 403.1h0M282.2 403.1h0M286.2 403.1h0M270.1 407.1h0M282.2 407.1h0M286.2 407.1h0M274.2 411.1h0M278.2 411.1h0M282.2 411.1h0M302.3 411.1h0M274.2 415.1h0M290.2 415.1h0M358.2 375.1h0M374.3 375.1h0M378.3 379.1h0M362.2 387.1h0M366.2 387.1h0M362.2 391.1h0M366.2 391.1h0M350.1 395.1h0M382.3 399.1h0M350.1 411.1h0M358.2 411.1h0M370.2 411.1h0M346.1 415.1h0M350.1 415.1h0M358.2 415.1h0M378.3 415.1h0M462.3 375.1h0M438.2 379.1h0M442.2 379.1h0M446.2 379.1h0M458.3 379.1h0M426.1 383.1h0M458.3 383.1h0M430.1 387.1h0M422.1 391.1h0M434.2 395.1h0M454.3 395.1h0M434.2 407.1h0M438.2 407.1h0M450.2 407.1h0M422.1 411.1h0M442.2 411.1h0M454.3 411.1h0M442.2 415.1h0M462.3 415.1h0M526.2 387.1h0M518.2 391.1h0M598.2 375.1h0M602.2 375.1h0M606.2 375.1h0M614.3 375.1h0M618.3 379.1h0M594.2 383.1h0M610.2 387.1h0M610.2 391.1h0M594.2 395.1h0M602.2 395.1h0M606.2 395.1h0M582.1 399.1h0M594.2 403.1h0M606.2 403.1h0M610.2 403.1h0M594.2 407.1h0M618.3 407.1h0M622.3 407.1h0M582.1 411.1h0M590.1 411.1h0M602.2 411.1h0M606.2 415.1h0M618.3 415.1h0M666.1 383.1h0M678.2 387.1h0M682.2 403.1h0M670.1 407.1h0M662.1 415.1h0M914.2 379.1h0M938.3 399.1h0M990.1 391.1h0M986.1 395.1h0M1018.3 403.1h0M1002.2 407.1h0M1010.2 411.1h0M266.1 454.8h0M302.3 454.8h0M262.1 458.8h0M274.2 458.8h0M282.2 462.8h0M302.3 462.8h0M278.2 466.8h0M290.2 466.8h0M298.3 466.8h0M262.1 470.8h0M270.1 470.8h0M262.1 474.8h0M282.2 474.8h0M286.2 474.8h0M290.2 474.8h0M282.2 478.8h0M262.1 482.8h0M266.1 482.8h0M274.2 482.8h0M282.2 482.8h0M278.2 486.8h0M302.3 486.8h0M266.1 490.8h0M270.1 490.8h0M274.2 490.8h0M262.1 494.8h0M274.2 494.8h0M298.3 494.8h0M422.1 454.8h0M458.3 454.8h0M426.1 462.8h0M462.3 466.8h0M430.1 470.8h0M450.2 470.8h0M438.2 474.8h0M434.2 478.8h0M426.1 486.8h0M450.2 486.8h0M462.3 490.8h0M438.2 494.8h0M442.2 494.8h0M510.1 454.8h0M514.2 454.8h0M522.2 454.8h0M506.1 458.8h0M522.2 458.8h0M526.2 458.8h0M522.2 462.8h0M538.3 462.8h0M506.1 466.8h0M514.2 466.8h0M522.2 466.8h0M534.3 466.8h0M542.3 466.8h0M514.2 470.8h0M518.2 470.8h0M522.2 470.8h0M530.2 470.8h0M534.3 470.8h0M538.3 470.8h0M514.2 474.8h0M522.2 474.8h0M526.2 474.8h0M530.2 474.8h0M506.1 478.8h0M510.1 478.8h0M526.2 478.8h0M506.1 482.8h0M510.1 482.8h0M530.2 482.8h0M506.1 486.8h0M530.2 486.8h0M534.3 486.8h0M506.1 490.8h0M542.3 490.8h0M506.1 494.8h0M510.1 494.8h0M514.2 494.8h0M518.2 494.8h0M522.2 494.8h0M598.2 454.8h0M610.2 454.8h0M622.3 454.8h0M586.1 458.8h0M598.2 458.8h0M622.3 462.8h0M602.2 466.8h0M622.3 466.8h0M618.3 470.8h0M582.1 474.8h0M602.2 474.8h0M590.1 478.8h0M602.2 478.8h0M622.3 478.8h0M586.1 482.8h0M590.1 482.8h0M598.2 482.8h0M614.3 482.8h0M602.2 486.8h0M610.2 486.8h0M610.2 490.8h0M586.1 494.8h0M590.1 494.8h0M678.2 454.8h0M686.2 454.8h0M694.3 454.8h0M686.2 458.8h0M682.2 462.8h0M698.3 462.8h0M686.2 466.8h0M690.2 466.8h0M698.3 466.8h0M670.1 470.8h0M674.2 470.8h0M698.3 470.8h0M662.1 474.8h0M674.2 474.8h0M686.2 474.8h0M666.1 482.8h0M678.2 482.8h0M694.3 482.8h0M702.3 486.8h0M682.2 490.8h0M742.1 454.8h0M758.2 454.8h0M762.2 454.8h0M778.3 454.8h0M750.1 458.8h0M778.3 458.8h0M782.3 458.8h0M746.1 462.8h0M782.3 462.8h0M770.2 470.8h0M746.1 474.8h0M770.2 474.8h0M782.3 474.8h0M746.1 478.8h0M778.3 478.8h0M742.1 486.8h0M750.1 486.8h0M778.3 494.8h0M826.1 482.8h0M1010.2 494.8h0M278.2 538.4h0M262.1 542.4h0M278.2 542.4h0M266.1 546.4h0M266.1 550.4h0M282.2 550.4h0M290.2 550.4h0M302.3 550.4h0M270.1 554.4h0M278.2 554.4h0M286.2 554.4h0M262.1 558.4h0M274.2 558.4h0M282.2 558.4h0M294.3 562.4h0M262.1 566.4h0M266.1 566.4h0M270.1 566.4h0M266.1 570.4h0M274.2 570.4h0M302.3 574.4h0M354.2 542.4h0M342.1 550.4h0M358.2 558.4h0M362.2 558.4h0M370.2 566.4h0M370.2 570.4h0M510.1 538.4h0M538.3 538.4h0M518.2 542.4h0M526.2 546.4h0M530.2 554.4h0M510.1 562.4h0M506.1 566.4h0M538.3 566.4h0M510.1 574.4h0M514.2 574.4h0M586.1 534.4h0M606.2 534.4h0M610.2 534.4h0M594.2 538.4h0M582.1 542.4h0M586.1 542.4h0M590.1 542.4h0M602.2 546.4h0M610.2 546.4h0M586.1 550.4h0M618.3 550.4h0M622.3 550.4h0M582.1 554.4h0M598.2 554.4h0M602.2 554.4h0M618.3 554.4h0M598.2 558.4h0M618.3 558.4h0M622.3 562.4h0M582.1 566.4h0M622.3 566.4h0M594.2 570.4h0M606.2 570.4h0M610.2 574.4h0M662.1 534.4h0M666.1 534.4h0M670.1 538.4h0M690.2 542.4h0M694.3 546.4h0M662.1 554.4h0M702.3 554.4h0M670.1 558.4h0M674.2 562.4h0M666.1 570.4h0M670.1 574.4h0M746.1 534.4h0M754.2 534.4h0M774.3 538.4h0M774.3 542.4h0M762.2 546.4h0M778.3 550.4h0M770.2 554.4h0M766.2 574.4h0M774.3 574.4h0M862.3 534.4h0M842.2 538.4h0M858.3 554.4h0M826.1 558.4h0M854.3 558.4h0M838.2 562.4h0M862.3 574.4h0M902.1 538.4h0M906.1 538.4h0M930.2 538.4h0M906.1 542.4h0M902.1 554.4h0M918.2 558.4h0M910.1 562.4h0M918.2 574.4h0M982.1 534.4h0M1014.3 538.4h0M1010.2 550.4h0M990.1 554.4h0M1014.3 566.4h0M982.1 570.4h0M986.1 570.4h0M1014.3 570.4h0M1014.3 574.4h0M298.3 614.1h0M290.2 618.1h0M294.3 626.1h0M270.1 646.1h0M294.3 646.1h0M286.2 654.1h0M358.2 618.1h0M374.3 618.1h0M354.2 622.1h0M362.2 622.1h0M378.3 622.1h0M358.2 626.1h0M366.2 626.1h0M370.2 626.1h0M382.3 626.1h0M342.1 630.1h0M346.1 630.1h0M350.1 630.1h0M374.3 630.1h0M342.1 634.1h0M346.1 634.1h0M354.2 634.1h0M358.2 638.1h0M366.2 638.1h0M370.2 638.1h0M382.3 638.1h0M350.1 642.1h0M370.2 642.1h0M366.2 646.1h0M370.2 646.1h0M378.3 646.1h0M366.2 650.1h0M378.3 650.1h0M374.3 654.1h0M438.2 614.1h0M430.1 618.1h0M426.1 646.1h0M522.2 622.1h0M610.2 614.1h0M586.1 618.1h0M598.2 618.1h0M602.2 622.1h0M606.2 622.1h0M618.3 634.1h0M622.3 634.1h0M602.2 638.1h0M586.1 646.1h0M618.3 646.1h0M666.1 614.1h0M682.2 634.1h0M666.1 638.1h0M862.3 614.1h0M822.1 618.1h0M854.3 618.1h0M846.2 622.1h0M826.1 634.1h0M822.1 642.1h0M862.3 642.1h0M858.3 646.1h0M838.2 654.1h0M914.2 614.1h0M902.1 618.1h0M914.2 618.1h0M906.1 622.1h0M910.1 622.1h0M918.2 622.1h0M930.2 622.1h0M902.1 626.1h0M910.1 626.1h0M918.2 626.1h0M914.2 630.1h0M942.3 630.1h0M922.2 634.1h0M926.2 634.1h0M930.2 634.1h0M938.3 634.1h0M918.2 638.1h0M902.1 642.1h0M918.2 642.1h0M926.2 642.1h0M926.2 646.1h0M906.1 650.1h0M914.2 650.1h0M902.1 654.1h0M906.1 654.1h0M914.2 654.1h0M934.3 654.1h0M938.3 654.1h0M982.1 614.1h0M986.1 618.1h0M990.1 618.1h0M994.2 618.1h0M986.1 622.1h0M1022.3 622.1h0M1014.3 626.1h0M990.1 630.1h0M994.2 630.1h0M1014.3 630.1h0M982.1 638.1h0M1018.3 638.1h0M1010.2 642.1h0M1006.2 646.1h0M1010.2 646.1h0M1014.3 646.1h0M990.1 650.1h0M1006.2 650.1h0M1002.2 654.1h0M1014.3 654.1h0M262.1 697.7h0M278.2 697.7h0M262.1 701.7h0M278.2 701.7h0M286.2 701.7h0M282.2 705.7h0M290.2 705.7h0M270.1 709.7h0M278.2 709.7h0M282.2 709.7h0M298.3 709.7h0M266.1 713.7h0M282.2 713.7h0M302.3 713.7h0M286.2 717.7h0M298.3 717.7h0M274.2 721.7h0M278.2 725.7h0M282.2 725.7h0M290.2 729.7h0M298.3 729.7h0M262.1 733.7h0M286.2 733.7h0M342.1 693.7h0M362.2 693.7h0M366.2 693.7h0M342.1 697.7h0M358.2 697.7h0M378.3 701.7h0M346.1 705.7h0M362.2 705.7h0M378.3 705.7h0M342.1 709.7h0M370.2 709.7h0M350.1 713.7h0M366.2 713.7h0M374.3 713.7h0M346.1 717.7h0M366.2 717.7h0M374.3 717.7h0M350.1 721.7h0M358.2 721.7h0M374.3 721.7h0M374.3 725.7h0M346.1 729.7h0M354.2 729.7h0M362.2 729.7h0M362.2 733.7h0M370.2 733.7h0M382.3 733.7h0M438.2 725.7h0M450.2 729.7h0M458.3 729.7h0M542.3 693.7h0M510.1 697.7h0M518.2 697.7h0M526.2 697.7h0M518.2 701.7h0M522.2 701.7h0M534.3 705.7h0M526.2 709.7h0M542.3 709.7h0M542.3 713.7h0M542.3 725.7h0M590.1 693.7h0M614.3 693.7h0M598.2 701.7h0M610.2 701.7h0M594.2 705.7h0M606.2 705.7h0M582.1 725.7h0M694.3 693.7h0M670.1 697.7h0M678.2 697.7h0M690.2 697.7h0M702.3 697.7h0M682.2 701.7h0M686.2 701.7h0M690.2 701.7h0M698.3 701.7h0M682.2 705.7h0M682.2 713.7h0M686.2 713.7h0M690.2 713.7h0M702.3 713.7h0M682.2 717.7h0M666.1 721.7h0M674.2 721.7h0M662.1 725.7h0M666.1 725.7h0M674.2 725.7h0M678.2 725.7h0M682.2 725.7h0M686.2 725.7h0M698.3 725.7h0M662.1 729.7h0M666.1 733.7h0M674.2 733.7h0M678.2 733.7h0M682.2 733.7h0M686.2 733.7h0M746.1 693.7h0M742.1 697.7h0M770.2 701.7h0M746.1 705.7h0M774.3 705.7h0M778.3 705.7h0M746.1 709.7h0M750.1 709.7h0M758.2 709.7h0M766.2 709.7h0M762.2 717.7h0M778.3 717.7h0M758.2 721.7h0M746.1 725.7h0M754.2 729.7h0M758.2 729.7h0M770.2 729.7h0M770.2 733.7h0M778.3 733.7h0M834.2 693.7h0M842.2 693.7h0M850.2 693.7h0M822.1 697.7h0M826.1 697.7h0M850.2 697.7h0M854.3 697.7h0M830.1 701.7h0M834.2 701.7h0M854.3 701.7h0M822.1 705.7h0M830.1 705.7h0M838.2 705.7h0M862.3 705.7h0M830.1 709.7h0M842.2 709.7h0M846.2 709.7h0M850.2 709.7h0M826.1 713.7h0M838.2 713.7h0M842.2 713.7h0M850.2 713.7h0M858.3 713.7h0M830.1 717.7h0M834.2 717.7h0M850.2 721.7h0M854.3 721.7h0M858.3 721.7h0M822.1 725.7h0M826.1 725.7h0M830.1 725.7h0M838.2 725.7h0M854.3 725.7h0M822.1 729.7h0M826.1 729.7h0M854.3 733.7h0M858.3 733.7h0M926.2 693.7h0M930.2 693.7h0M934.3 697.7h0M942.3 697.7h0M902.1 705.7h0M914.2 705.7h0M922.2 705.7h0M926.2 705.7h0M942.3 705.7h0M918.2 709.7h0M934.3 709.7h0M914.2 713.7h0M930.2 713.7h0M934.3 713.7h0M906.1 717.7h0M918.2 717.7h0M922.2 721.7h0M926.2 721.7h0M934.3 721.7h0M938.3 721.7h0M902.1 725.7h0M910.1 725.7h0M934.3 725.7h0M938.3 725.7h0M910.1 729.7h0M918.2 729.7h0M902.1 733.7h0M914.2 733.7h0M994.2 697.7h0M1010.2 697.7h0M986.1 705.7h0M1006.2 705.7h0M1014.3 705.7h0M1018.3 705.7h0M982.1 713.7h0M994.2 717.7h0M998.2 717.7h0M990.1 725.7h0M994.2 725.7h0M998.2 725.7h0M990.1 729.7h0M1022.3 729.7h0M374.3 773.3h0M378.3 773.3h0M374.3 777.3h0M358.2 781.3h0M370.2 781.3h0M346.1 785.3h0M342.1 789.3h0M354.2 793.3h0M358.2 793.3h0M362.2 793.3h0M370.2 793.3h0M374.3 793.3h0M378.3 793.3h0M382.3 793.3h0M358.2 797.3h0M366.2 797.3h0M378.3 797.3h0M342.1 801.3h0M346.1 801.3h0M366.2 801.3h0M378.3 801.3h0M382.3 801.3h0M358.2 805.3h0M354.2 809.3h0M378.3 809.3h0M350.1 813.3h0M354.2 813.3h0M430.1 777.3h0M450.2 777.3h0M454.3 777.3h0M422.1 781.3h0M462.3 781.3h0M430.1 785.3h0M438.2 785.3h0M442.2 785.3h0M454.3 785.3h0M458.3 785.3h0M430.1 789.3h0M442.2 789.3h0M446.2 789.3h0M430.1 793.3h0M446.2 793.3h0M450.2 793.3h0M422.1 797.3h0M434.2 797.3h0M442.2 797.3h0M434.2 801.3h0M446.2 801.3h0M458.3 801.3h0M462.3 801.3h0M458.3 805.3h0M430.1 809.3h0M434.2 813.3h0M446.2 813.3h0M454.3 813.3h0M462.3 813.3h0M522.2 773.3h0M530.2 773.3h0M510.1 777.3h0M502.1 781.3h0M510.1 781.3h0M502.1 785.3h0M530.2 785.3h0M530.2 789.3h0M542.3 789.3h0M502.1 793.3h0M538.3 793.3h0M510.1 797.3h0M534.3 797.3h0M534.3 801.3h0M534.3 805.3h0M542.3 805.3h0M522.2 809.3h0M502.1 813.3h0M510.1 813.3h0M518.2 813.3h0M522.2 813.3h0M526.2 813.3h0M594.2 773.3h0M610.2 773.3h0M622.3 773.3h0M590.1 781.3h0M598.2 781.3h0M582.1 785.3h0M622.3 785.3h0M582.1 789.3h0M598.2 789.3h0M622.3 789.3h0M586.1 793.3h0M614.3 797.3h0M618.3 797.3h0M594.2 801.3h0M610.2 805.3h0M618.3 805.3h0M610.2 809.3h0M614.3 809.3h0M610.2 813.3h0M618.3 813.3h0M662.1 773.3h0M682.2 773.3h0M694.3 773.3h0M702.3 773.3h0M670.1 777.3h0M690.2 777.3h0M694.3 777.3h0M698.3 777.3h0M666.1 785.3h0M702.3 785.3h0M666.1 789.3h0M670.1 789.3h0M682.2 789.3h0M694.3 793.3h0M690.2 797.3h0M670.1 801.3h0M678.2 801.3h0M670.1 805.3h0M686.2 805.3h0M698.3 805.3h0M662.1 809.3h0M678.2 809.3h0M702.3 809.3h0M678.2 813.3h0M682.2 813.3h0M742.1 773.3h0M758.2 773.3h0M770.2 773.3h0M778.3 773.3h0M782.3 773.3h0M758.2 777.3h0M774.3 777.3h0M762.2 781.3h0M770.2 781.3h0M774.3 781.3h0M782.3 781.3h0M742.1 785.3h0M746.1 785.3h0M750.1 785.3h0M762.2 785.3h0M770.2 785.3h0M758.2 789.3h0M766.2 789.3h0M746.1 793.3h0M750.1 797.3h0M766.2 797.3h0M766.2 801.3h0M778.3 801.3h0M782.3 801.3h0M766.2 805.3h0M762.2 809.3h0M770.2 809.3h0M742.1 813.3h0M782.3 813.3h0M826.1 773.3h0M834.2 773.3h0M846.2 773.3h0M834.2 777.3h0M842.2 777.3h0M842.2 781.3h0M850.2 781.3h0M858.3 785.3h0M862.3 785.3h0M838.2 789.3h0M826.1 801.3h0M834.2 801.3h0M846.2 801.3h0M854.3 801.3h0M830.1 805.3h0M862.3 805.3h0M822.1 809.3h0M834.2 809.3h0M942.3 773.3h0M918.2 777.3h0M922.2 777.3h0M942.3 777.3h0M902.1 781.3h0M934.3 781.3h0M942.3 781.3h0M906.1 785.3h0M922.2 785.3h0M930.2 785.3h0M942.3 785.3h0M906.1 789.3h0M910.1 789.3h0M902.1 793.3h0M918.2 793.3h0M914.2 797.3h0M930.2 797.3h0M934.3 797.3h0M942.3 797.3h0M910.1 801.3h0M922.2 801.3h0M926.2 801.3h0M934.3 801.3h0M922.2 805.3h0M914.2 809.3h0M926.2 809.3h0M930.2 809.3h0M902.1 813.3h0M910.1 813.3h0M922.2 813.3h0M930.2 813.3h0M462.3 853.0h0M454.3 857.0h0M442.2 861.0h0M426.1 865.0h0M454.3 873.0h0M526.2 853.0h0M514.2 857.0h0M530.2 857.0h0M502.1 861.0h0M526.2 861.0h0M534.3 865.0h0M538.3 869.0h0M530.2 873.0h0M514.2 881.0h0M522.2 881.0h0M530.2 881.0h0M534.3 881.0h0M502.1 889.0h0M510.1 889.0h0M514.2 889.0h0M538.3 889.0h0M502.1 893.0h0M514.2 893.0h0M518.2 893.0h0M526.2 893.0h0M534.3 893.0h0M582.1 853.0h0M586.1 853.0h0M590.1 853.0h0M598.2 853.0h0M602.2 853.0h0M582.1 857.0h0M590.1 857.0h0M598.2 857.0h0M614.3 857.0h0M586.1 861.0h0M602.2 861.0h0M586.1 865.0h0M590.1 865.0h0M606.2 865.0h0M622.3 865.0h0M598.2 869.0h0M614.3 869.0h0M618.3 869.0h0M590.1 873.0h0M606.2 873.0h0M610.2 873.0h0M618.3 873.0h0M610.2 877.0h0M602.2 881.0h0M622.3 881.0h0M582.1 885.0h0M594.2 885.0h0M602.2 885.0h0M590.1 889.0h0M598.2 889.0h0M614.3 889.0h0M618.3 889.0h0M582.1 893.0h0M598.2 893.0h0M606.2 893.0h0M618.3 893.0h0M666.1 853.0h0M694.3 853.0h0M702.3 853.0h0M666.1 857.0h0M674.2 857.0h0M702.3 861.0h0M662.1 865.0h0M674.2 865.0h0M682.2 865.0h0M686.2 865.0h0M662.1 869.0h0M682.2 873.0h0M702.3 873.0h0M694.3 877.0h0M694.3 885.0h0M698.3 885.0h0M662.1 889.0h0M694.3 889.0h0M662.1 893.0h0M666.1 893.0h0M682.2 893.0h0M686.2 893.0h0M742.1 853.0h0M782.3 857.0h0M746.1 861.0h0M758.2 869.0h0M778.3 869.0h0M754.2 873.0h0M742.1 881.0h0M754.2 885.0h0M750.1 889.0h0M762.2 893.0h0M822.1 857.0h0M834.2 857.0h0M850.2 865.0h0M858.3 869.0h0M822.1 873.0h0M846.2 885.0h0M854.3 889.0h0"/>
<path stroke="#0c7cd4" d="M434.2 136.2h0M454.3 136.2h0M422.1 140.2h0M458.3 140.2h0M450.2 148.2h0M458.3 148.2h0M462.3 148.2h0M446.2 152.2h0M454.3 152.2h0M426.1 156.2h0M454.3 160.2h0M442.2 168.2h0M434.2 172.2h0M438.2 176.2h0M538.3 136.2h0M598.2 172.2h0M686.2 136.2h0M690.2 136.2h0M666.1 140.2h0M674.2 140.2h0M682.2 140.2h0M686.2 140.2h0M662.1 144.2h0M702.3 144.2h0M674.2 148.2h0M702.3 148.2h0M670.1 160.2h0M666.1 164.2h0M682.2 164.2h0M662.1 172.2h0M690.2 172.2h0M698.3 172.2h0M742.1 136.2h0M746.1 136.2h0M778.3 136.2h0M754.2 144.2h0M742.1 148.2h0M758.2 160.2h0M762.2 164.2h0M354.2 227.9h0M438.2 215.9h0M438.2 219.9h0M434.2 227.9h0M458.3 227.9h0M438.2 239.9h0M458.3 239.9h0M426.1 247.9h0M422.1 251.9h0M682.2 219.9h0M694.3 227.9h0M694.3 235.9h0M662.1 255.9h0M774.3 231.9h0M850.2 231.9h0M822.1 235.9h0M822.1 251.9h0M842.2 251.9h0M838.2 255.9h0M854.3 255.9h0M914.2 215.9h0M942.3 215.9h0M902.1 219.9h0M926.2 219.9h0M930.2 219.9h0M910.1 223.9h0M926.2 223.9h0M934.3 223.9h0M942.3 227.9h0M914.2 235.9h0M922.2 235.9h0M914.2 239.9h0M902.1 243.9h0M910.1 243.9h0M930.2 243.9h0M938.3 243.9h0M934.3 247.9h0M902.1 251.9h0M934.3 251.9h0M910.1 255.9h0M914.2 255.9h0M934.3 255.9h0M942.3 255.9h0M282.2 295.5h0M286.2 295.5h0M290.2 295.5h0M298.3 295.5h0M274.2 299.5h0M286.2 299.5h0M294.3 299.5h0M298.3 299.5h0M294.3 303.5h0M266.1 307.5h0M278.2 307.5h0M298.3 307.5h0M282.2 315.5h0M294.3 315.5h0M282.2 319.5h0M294.3 323.5h0M302.3 323.5h0M286.2 327.5h0M302.3 327.5h0M270.1 331.5h0M282.2 331.5h0M274.2 335.5h0M278.2 335.5h0M286.2 335.5h0M358.2 295.5h0M346.1 299.5h0M374.3 303.5h0M354.2 307.5h0M358.2 307.5h0M346.1 311.5h0M362.2 315.5h0M366.2 315.5h0M374.3 315.5h0M378.3 315.5h0M342.1 319.5h0M370.2 319.5h0M378.3 319.5h0M362.2 323.5h0M382.3 323.5h0M342.1 331.5h0M350.1 335.5h0M370.2 335.5h0M530.2 307.5h0M534.3 315.5h0M906.1 311.5h0M910.1 315.5h0M922.2 315.5h0M922.2 327.5h0M906.1 335.5h0M926.2 335.5h0M938.3 335.5h0M286.2 375.1h0M302.3 375.1h0M262.1 379.1h0M282.2 379.1h0M286.2 379.1h0M290.2 379.1h0M266.1 383.1h0M278.2 383.1h0M294.3 383.1h0M266.1 387.1h0M270.1 387.1h0M274.2 387.1h0M278.2 387.1h0M282.2 387.1h0M294.3 387.1h0M262.1 395.1h0M270.1 395.1h0M290.2 395.1h0M302.3 395.1h0M270.1 399.1h0M274.2 399.1h0M278.2 407.1h0M290.2 407.1h0M262.1 411.1h0M266.1 411.1h0M298.3 411.1h0M278.2 415.1h0M282.2 415.1h0M342.1 375.1h0M362.2 375.1h0M362.2 379.1h0M378.3 387.1h0M346.1 395.1h0M366.2 395.1h0M378.3 403.1h0M370.2 407.1h0M370.2 415.1h0M426.1 375.1h0M430.1 375.1h0M434.2 375.1h0M430.1 379.1h0M434.2 379.1h0M454.3 379.1h0M454.3 387.1h0M454.3 391.1h0M446.2 395.1h0M430.1 399.1h0M450.2 399.1h0M622.3 375.1h0M582.1 379.1h0M606.2 387.1h0M618.3 391.1h0M622.3 391.1h0M618.3 395.1h0M598.2 399.1h0M590.1 403.1h0M614.3 407.1h0M666.1 399.1h0M934.3 379.1h0M274.2 454.8h0M278.2 454.8h0M298.3 454.8h0M266.1 458.8h0M278.2 458.8h0M302.3 458.8h0M262.1 462.8h0M266.1 466.8h0M278.2 474.8h0M270.1 478.8h0M286.2 478.8h0M294.3 478.8h0M298.3 482.8h0M302.3 482.8h0M262.1 486.8h0M266.1 486.8h0M270.1 486.8h0M286.2 486.8h0M270.1 494.8h0M382.3 462.8h0M442.2 454.8h0M458.3 458.8h0M430.1 466.8h0M446.2 466.8h0M422.1 478.8h0M426.1 494.8h0M526.2 454.8h0M542.3 454.8h0M510.1 458.8h0M514.2 458.8h0M530.2 462.8h0M526.2 466.8h0M538.3 466.8h0M502.1 478.8h0M518.2 478.8h0M538.3 478.8h0M522.2 482.8h0M538.3 482.8h0M522.2 486.8h0M514.2 490.8h0M502.1 494.8h0M542.3 494.8h0M590.1 458.8h0M606.2 458.8h0M618.3 458.8h0M622.3 458.8h0M610.2 462.8h0M614.3 462.8h0M586.1 466.8h0M582.1 470.8h0M602.2 470.8h0M610.2 470.8h0M614.3 474.8h0M614.3 478.8h0M582.1 490.8h0M590.1 490.8h0M598.2 490.8h0M602.2 494.8h0M622.3 494.8h0M698.3 454.8h0M666.1 458.8h0M690.2 462.8h0M694.3 462.8h0M702.3 462.8h0M666.1 466.8h0M694.3 466.8h0M702.3 466.8h0M666.1 470.8h0M690.2 470.8h0M694.3 470.8h0M666.1 474.8h0M702.3 474.8h0M662.1 478.8h0M678.2 478.8h0M694.3 478.8h0M666.1 486.8h0M674.2 490.8h0M690.2 490.8h0M698.3 490.8h0M666.1 494.8h0M694.3 494.8h0M702.3 494.8h0M754.2 454.8h0M766.2 454.8h0M782.3 466.8h0M754.2 470.8h0M762.2 470.8h0M754.2 474.8h0M266.1 534.4h0M278.2 534.4h0M302.3 534.4h0M274.2 538.4h0M274.2 542.4h0M290.2 542.4h0M298.3 542.4h0M262.1 550.4h0M270.1 550.4h0M286.2 550.4h0M298.3 550.4h0M274.2 554.4h0M266.1 558.4h0M262.1 562.4h0M290.2 562.4h0M302.3 562.4h0M282.2 566.4h0M298.3 566.4h0M262.1 574.4h0M274.2 574.4h0M374.3 538.4h0M346.1 542.4h0M346.1 550.4h0M506.1 534.4h0M514.2 534.4h0M518.2 538.4h0M582.1 534.4h0M598.2 534.4h0M598.2 538.4h0M610.2 542.4h0M614.3 546.4h0M602.2 558.4h0M606.2 558.4h0M602.2 566.4h0M610.2 566.4h0M618.3 566.4h0M618.3 570.4h0M686.2 534.4h0M774.3 550.4h0M774.3 562.4h0M770.2 566.4h0M758.2 570.4h0M826.1 538.4h0M822.1 542.4h0M822.1 558.4h0M858.3 566.4h0M834.2 570.4h0M914.2 534.4h0M902.1 542.4h0M914.2 546.4h0M902.1 550.4h0M926.2 550.4h0M938.3 550.4h0M938.3 554.4h0M938.3 566.4h0M938.3 574.4h0M994.2 542.4h0M278.2 614.1h0M302.3 614.1h0M294.3 622.1h0M298.3 622.1h0M286.2 626.1h0M302.3 630.1h0M282.2 638.1h0M290.2 638.1h0M270.1 642.1h0M282.2 642.1h0M286.2 646.1h0M354.2 614.1h0M350.1 622.1h0M366.2 622.1h0M370.2 622.1h0M342.1 626.1h0M354.2 626.1h0M362.2 626.1h0M374.3 626.1h0M370.2 630.1h0M346.1 638.1h0M342.1 642.1h0M342.1 646.1h0M374.3 646.1h0M346.1 650.1h0M362.2 650.1h0M382.3 650.1h0M354.2 654.1h0M366.2 654.1h0M370.2 654.1h0M582.1 618.1h0M590.1 622.1h0M622.3 650.1h0M830.1 618.1h0M862.3 622.1h0M854.3 626.1h0M858.3 630.1h0M846.2 642.1h0M914.2 622.1h0M922.2 626.1h0M906.1 634.1h0M942.3 634.1h0M930.2 638.1h0M934.3 642.1h0M922.2 646.1h0M942.3 646.1h0M910.1 650.1h0M986.1 614.1h0M998.2 614.1h0M1010.2 614.1h0M1018.3 614.1h0M998.2 618.1h0M1002.2 618.1h0M1022.3 618.1h0M994.2 622.1h0M1002.2 622.1h0M1018.3 626.1h0M1002.2 630.1h0M982.1 634.1h0M990.1 634.1h0M998.2 634.1h0M1002.2 634.1h0M1014.3 634.1h0M982.1 646.1h0M998.2 646.1h0M994.2 650.1h0M1010.2 650.1h0M998.2 654.1h0M278.2 693.7h0M282.2 693.7h0M294.3 693.7h0M290.2 697.7h0M298.3 697.7h0M298.3 701.7h0M286.2 705.7h0M298.3 705.7h0M302.3 717.7h0M278.2 721.7h0M286.2 721.7h0M274.2 725.7h0M290.2 725.7h0M298.3 725.7h0M302.3 729.7h0M270.1 733.7h0M282.2 733.7h0M358.2 693.7h0M370.2 693.7h0M378.3 693.7h0M382.3 693.7h0M378.3 697.7h0M382.3 697.7h0M346.1 701.7h0M354.2 701.7h0M358.2 701.7h0M362.2 701.7h0M370.2 701.7h0M374.3 701.7h0M354.2 705.7h0M366.2 709.7h0M374.3 709.7h0M382.3 709.7h0M342.1 713.7h0M346.1 713.7h0M354.2 713.7h0M358.2 713.7h0M362.2 713.7h0M354.2 721.7h0M366.2 721.7h0M382.3 721.7h0M342.1 725.7h0M354.2 725.7h0M362.2 725.7h0M366.2 725.7h0M378.3 725.7h0M358.2 729.7h0M374.3 729.7h0M378.3 729.7h0M342.1 733.7h0M354.2 733.7h0M374.3 733.7h0M378.3 733.7h0M430.1 725.7h0M538.3 697.7h0M670.1 693.7h0M682.2 693.7h0M690.2 693.7h0M698.3 693.7h0M702.3 693.7h0M674.2 697.7h0M686.2 697.7h0M678.2 701.7h0M694.3 701.7h0M702.3 705.7h0M666.1 709.7h0M670.1 709.7h0M674.2 709.7h0M694.3 709.7h0M662.1 713.7h0M662.1 717.7h0M678.2 717.7h0M690.2 717.7h0M702.3 717.7h0M670.1 721.7h0M694.3 721.7h0M678.2 729.7h0M694.3 729.7h0M702.3 729.7h0M670.1 733.7h0M758.2 701.7h0M754.2 709.7h0M750.1 713.7h0M782.3 713.7h0M766.2 721.7h0M782.3 725.7h0M826.1 693.7h0M838.2 693.7h0M854.3 693.7h0M862.3 693.7h0M846.2 697.7h0M842.2 705.7h0M862.3 709.7h0M822.1 717.7h0M838.2 717.7h0M842.2 717.7h0M846.2 717.7h0M822.1 721.7h0M830.1 721.7h0M842.2 721.7h0M862.3 729.7h0M830.1 733.7h0M914.2 693.7h0M918.2 693.7h0M934.3 693.7h0M938.3 693.7h0M906.1 697.7h0M914.2 697.7h0M922.2 697.7h0M902.1 701.7h0M942.3 701.7h0M930.2 705.7h0M922.2 709.7h0M930.2 709.7h0M906.1 713.7h0M918.2 713.7h0M938.3 713.7h0M942.3 713.7h0M942.3 717.7h0M902.1 721.7h0M914.2 721.7h0M918.2 721.7h0M906.1 729.7h0M934.3 729.7h0M906.1 733.7h0M910.1 733.7h0M1022.3 697.7h0M1006.2 733.7h0M342.1 773.3h0M346.1 773.3h0M362.2 773.3h0M346.1 777.3h0M358.2 777.3h0M362.2 777.3h0M362.2 785.3h0M366.2 785.3h0M350.1 789.3h0M354.2 789.3h0M362.2 789.3h0M366.2 789.3h0M370.2 789.3h0M374.3 789.3h0M378.3 789.3h0M366.2 793.3h0M346.1 797.3h0M354.2 797.3h0M374.3 797.3h0M350.1 801.3h0M362.2 801.3h0M374.3 801.3h0M362.2 805.3h0M366.2 805.3h0M350.1 809.3h0M358.2 809.3h0M382.3 809.3h0M366.2 813.3h0M442.2 773.3h0M450.2 773.3h0M454.3 773.3h0M438.2 777.3h0M454.3 781.3h0M450.2 785.3h0M454.3 789.3h0M422.1 793.3h0M462.3 793.3h0M438.2 797.3h0M446.2 797.3h0M422.1 801.3h0M426.1 801.3h0M426.1 809.3h0M438.2 809.3h0M446.2 809.3h0M430.1 813.3h0M442.2 813.3h0M502.1 773.3h0M518.2 773.3h0M502.1 777.3h0M522.2 777.3h0M506.1 781.3h0M522.2 785.3h0M514.2 789.3h0M522.2 789.3h0M522.2 801.3h0M506.1 805.3h0M526.2 805.3h0M518.2 809.3h0M534.3 809.3h0M594.2 777.3h0M582.1 781.3h0M610.2 781.3h0M622.3 781.3h0M590.1 785.3h0M590.1 793.3h0M582.1 801.3h0M610.2 801.3h0M590.1 805.3h0M598.2 805.3h0M622.3 805.3h0M598.2 809.3h0M586.1 813.3h0M670.1 773.3h0M686.2 773.3h0M690.2 773.3h0M678.2 777.3h0M702.3 777.3h0M682.2 781.3h0M686.2 781.3h0M698.3 781.3h0M694.3 785.3h0M678.2 789.3h0M686.2 789.3h0M674.2 793.3h0M690.2 793.3h0M678.2 797.3h0M666.1 801.3h0M674.2 801.3h0M702.3 801.3h0M702.3 805.3h0M666.1 809.3h0M674.2 809.3h0M682.2 809.3h0M698.3 809.3h0M754.2 773.3h0M762.2 773.3h0M778.3 777.3h0M766.2 781.3h0M766.2 785.3h0M782.3 785.3h0M750.1 789.3h0M762.2 789.3h0M778.3 793.3h0M742.1 801.3h0M754.2 801.3h0M742.1 805.3h0M782.3 805.3h0M758.2 809.3h0M850.2 773.3h0M838.2 777.3h0M846.2 777.3h0M858.3 777.3h0M854.3 781.3h0M822.1 785.3h0M826.1 785.3h0M834.2 793.3h0M838.2 793.3h0M826.1 797.3h0M846.2 797.3h0M850.2 797.3h0M862.3 797.3h0M846.2 805.3h0M846.2 809.3h0M854.3 809.3h0M834.2 813.3h0M846.2 813.3h0M850.2 813.3h0M858.3 813.3h0M906.1 773.3h0M910.1 773.3h0M922.2 773.3h0M914.2 777.3h0M930.2 777.3h0M938.3 777.3h0M918.2 781.3h0M938.3 781.3h0M914.2 793.3h0M906.1 797.3h0M918.2 797.3h0M942.3 801.3h0M938.3 805.3h0M910.1 809.3h0M918.2 809.3h0M906.1 813.3h0M938.3 813.3h0M422.1 857.0h0M442.2 857.0h0M422.1 861.0h0M454.3 861.0h0M458.3 861.0h0M450.2 865.0h0M462.3 865.0h0M430.1 869.0h0M422.1 873.0h0M446.2 873.0h0M446.2 877.0h0M458.3 881.0h0M458.3 893.0h0M506.1 853.0h0M518.2 853.0h0M530.2 853.0h0M534.3 853.0h0M518.2 857.0h0M526.2 857.0h0M534.3 857.0h0M506.1 861.0h0M530.2 861.0h0M510.1 865.0h0M538.3 865.0h0M542.3 865.0h0M502.1 869.0h0M510.1 869.0h0M514.2 869.0h0M534.3 869.0h0M526.2 873.0h0M538.3 873.0h0M514.2 877.0h0M530.2 877.0h0M542.3 877.0h0M542.3 881.0h0M502.1 885.0h0M530.2 885.0h0M506.1 889.0h0M534.3 889.0h0M542.3 889.0h0M538.3 893.0h0M622.3 857.0h0M614.3 861.0h0M614.3 865.0h0M594.2 869.0h0M610.2 869.0h0M622.3 869.0h0M582.1 873.0h0M602.2 877.0h0M618.3 877.0h0M606.2 881.0h0M610.2 885.0h0M618.3 885.0h0M602.2 889.0h0M606.2 889.0h0M610.2 889.0h0M602.2 893.0h0M662.1 853.0h0M678.2 853.0h0M670.1 857.0h0M678.2 857.0h0M682.2 857.0h0M686.2 857.0h0M694.3 857.0h0M666.1 861.0h0M670.1 861.0h0M674.2 861.0h0M678.2 861.0h0M698.3 861.0h0M670.1 865.0h0M690.2 865.0h0M694.3 865.0h0M686.2 869.0h0M698.3 869.0h0M670.1 873.0h0M698.3 873.0h0M678.2 877.0h0M662.1 881.0h0M678.2 881.0h0M682.2 885.0h0M690.2 885.0h0M674.2 889.0h0M686.2 889.0h0M690.2 889.0h0M670.1 893.0h0M678.2 893.0h0M698.3 893.0h0M750.1 853.0h0M766.2 853.0h0M770.2 853.0h0M782.3 853.0h0M770.2 857.0h0M774.3 857.0h0M742.1 861.0h0M754.2 861.0h0M758.2 861.0h0M766.2 861.0h0M746.1 865.0h0M778.3 865.0h0M750.1 869.0h0M770.2 869.0h0M782.3 869.0h0M746.1 873.0h0M750.1 873.0h0M770.2 873.0h0M750.1 877.0h0M758.2 877.0h0M762.2 881.0h0M782.3 881.0h0M746.1 885.0h0M766.2 885.0h0M770.2 885.0h0M774.3 885.0h0M742.1 889.0h0M762.2 889.0h0M770.2 889.0h0M750.1 893.0h0M758.2 893.0h0M770.2 893.0h0M822.1 853.0h0M842.2 853.0h0M858.3 853.0h0M858.3 857.0h0M830.1 861.0h0M842.2 861.0h0M854.3 861.0h0M838.2 869.0h0M834.2 873.0h0M822.1 877.0h0M838.2 881.0h0M850.2 881.0h0M838.2 885.0h0M854.3 885.0h0M842.2 889.0h0M858.3 889.0h0M854.3 893.0h0"/>
<path stroke="#04cc3c" d="M438.2 136.2h0M426.1 140.2h0M430.1 140.2h0M446.2 140.2h0M454.3 140.2h0M462.3 140.2h0M434.2 144.2h0M454.3 144.2h0M458.3 144.2h0M462.3 144.2h0M422.1 148.2h0M442.2 148.2h0M454.3 148.2h0M450.2 152.2h0M430.1 156.2h0M462.3 156.2h0M430.1 160.2h0M434.2 160.2h0M438.2 160.2h0M446.2 160.2h0M462.3 160.2h0M430.1 164.2h0M430.1 168.2h0M442.2 172.2h0M502.1 136.2h0M506.1 136.2h0M514.2 136.2h0M530.2 136.2h0M506.1 140.2h0M518.2 140.2h0M542.3 140.2h0M506.1 144.2h0M542.3 144.2h0M502.1 148.2h0M510.1 148.2h0M522.2 148.2h0M530.2 148.2h0M542.3 148.2h0M506.1 152.2h0M514.2 152.2h0M530.2 152.2h0M506.1 156.2h0M518.2 156.2h0M526.2 156.2h0M534.3 156.2h0M502.1 160.2h0M506.1 160.2h0M534.3 160.2h0M510.1 164.2h0M534.3 164.2h0M510.1 168.2h0M514.2 168.2h0M522.2 168.2h0M534.3 168.2h0M538.3 168.2h0M510.1 172.2h0M530.2 172.2h0M502.1 176.2h0M530.2 176.2h0M534.3 176.2h0M594.2 136.2h0M610.2 136.2h0M594.2 140.2h0M598.2 144.2h0M590.1 148.2h0M598.2 148.2h0M618.3 148.2h0M590.1 152.2h0M602.2 152.2h0M618.3 152.2h0M598.2 156.2h0M602.2 160.2h0M610.2 160.2h0M622.3 160.2h0M598.2 164.2h0M622.3 164.2h0M586.1 168.2h0M590.1 168.2h0M586.1 172.2h0M602.2 172.2h0M618.3 172.2h0M602.2 176.2h0M622.3 176.2h0M750.1 136.2h0M758.2 136.2h0M746.1 140.2h0M750.1 140.2h0M754.2 140.2h0M758.2 140.2h0M766.2 140.2h0M758.2 144.2h0M782.3 144.2h0M746.1 148.2h0M754.2 148.2h0M762.2 148.2h0M766.2 148.2h0M746.1 152.2h0M782.3 152.2h0M742.1 156.2h0M762.2 156.2h0M766.2 156.2h0M770.2 156.2h0M774.3 156.2h0M778.3 156.2h0M754.2 160.2h0M766.2 160.2h0M770.2 160.2h0M746.1 164.2h0M754.2 164.2h0M758.2 164.2h0M766.2 164.2h0M742.1 168.2h0M754.2 168.2h0M778.3 168.2h0M782.3 168.2h0M774.3 172.2h0M762.2 176.2h0M774.3 176.2h0M782.3 176.2h0M362.2 215.9h0M366.2 215.9h0M374.3 215.9h0M378.3 215.9h0M342.1 219.9h0M354.2 219.9h0M366.2 219.9h0M370.2 219.9h0M374.3 219.9h0M342.1 223.9h0M346.1 223.9h0M358.2 223.9h0M370.2 223.9h0M374.3 223.9h0M382.3 223.9h0M342.1 227.9h0M358.2 227.9h0M370.2 227.9h0M374.3 227.9h0M378.3 227.9h0M342.1 231.9h0M346.1 231.9h0M350.1 231.9h0M362.2 231.9h0M374.3 235.9h0M346.1 239.9h0M350.1 239.9h0M378.3 239.9h0M370.2 243.9h0M342.1 247.9h0M354.2 247.9h0M374.3 247.9h0M382.3 247.9h0M342.1 251.9h0M346.1 251.9h0M370.2 251.9h0M354.2 255.9h0M358.2 255.9h0M374.3 255.9h0M446.2 215.9h0M454.3 215.9h0M422.1 219.9h0M426.1 219.9h0M434.2 219.9h0M422.1 223.9h0M426.1 223.9h0M430.1 223.9h0M446.2 223.9h0M442.2 227.9h0M426.1 231.9h0M434.2 231.9h0M426.1 239.9h0M446.2 239.9h0M454.3 239.9h0M462.3 239.9h0M422.1 243.9h0M438.2 243.9h0M458.3 243.9h0M438.2 247.9h0M442.2 251.9h0M458.3 251.9h0M434.2 255.9h0M446.2 255.9h0M510.1 215.9h0M534.3 215.9h0M510.1 219.9h0M522.2 219.9h0M534.3 219.9h0M538.3 219.9h0M542.3 219.9h0M510.1 223.9h0M514.2 223.9h0M518.2 223.9h0M522.2 223.9h0M530.2 223.9h0M534.3 223.9h0M538.3 223.9h0M514.2 227.9h0M526.2 227.9h0M530.2 227.9h0M510.1 231.9h0M514.2 231.9h0M534.3 231.9h0M510.1 235.9h0M538.3 235.9h0M542.3 235.9h0M510.1 239.9h0M518.2 239.9h0M510.1 243.9h0M538.3 243.9h0M514.2 247.9h0M502.1 251.9h0M514.2 251.9h0M522.2 251.9h0M522.2 255.9h0M530.2 255.9h0M606.2 215.9h0M614.3 215.9h0M622.3 215.9h0M594.2 219.9h0M586.1 235.9h0M610.2 235.9h0M602.2 239.9h0M586.1 251.9h0M594.2 251.9h0M666.1 215.9h0M682.2 215.9h0M698.3 215.9h0M702.3 215.9h0M662.1 219.9h0M670.1 219.9h0M674.2 219.9h0M690.2 219.9h0M662.1 223.9h0M674.2 223.9h0M682.2 223.9h0M690.2 223.9h0M694.3 223.9h0M662.1 227.9h0M670.1 227.9h0M678.2 227.9h0M682.2 227.9h0M698.3 227.9h0M662.1 231.9h0M670.1 231.9h0M678.2 231.9h0M682.2 231.9h0M694.3 231.9h0M662.1 235.9h0M666.1 235.9h0M670.1 235.9h0M666.1 239.9h0M690.2 239.9h0M694.3 239.9h0M698.3 239.9h0M678.2 243.9h0M686.2 243.9h0M698.3 243.9h0M702.3 243.9h0M662.1 247.9h0M686.2 247.9h0M702.3 247.9h0M670.1 251.9h0M678.2 251.9h0M682.2 251.9h0M690.2 251.9h0M698.3 251.9h0M702.3 251.9h0M678.2 255.9h0M690.2 255.9h0M694.3 255.9h0M698.3 255.9h0M754.2 215.9h0M782.3 215.9h0M750.1 219.9h0M762.2 219.9h0M766.2 219.9h0M770.2 219.9h0M778.3 219.9h0M782.3 219.9h0M746.1 223.9h0M770.2 223.9h0M774.3 223.9h0M778.3 223.9h0M742.1 227.9h0M746.1 227.9h0M754.2 227.9h0M766.2 227.9h0M770.2 227.9h0M766.2 231.9h0M750.1 235.9h0M766.2 235.9h0M770.2 235.9h0M742.1 239.9h0M762.2 239.9h0M770.2 239.9h0M782.3 239.9h0M746.1 243.9h0M766.2 243.9h0M774.3 243.9h0M746.1 247.9h0M754.2 247.9h0M758.2 247.9h0M766.2 247.9h0M782.3 247.9h0M746.1 251.9h0M754.2 251.9h0M758.2 251.9h0M774.3 251.9h0M750.1 255.9h0M774.3 255.9h0M778.3 255.9h0M782.3 255.9h0M830.1 215.9h0M850.2 215.9h0M854.3 215.9h0M858.3 215.9h0M862.3 219.9h0M838.2 223.9h0M854.3 223.9h0M862.3 223.9h0M822.1 227.9h0M826.1 227.9h0M830.1 227.9h0M834.2 227.9h0M830.1 231.9h0M842.2 231.9h0M862.3 231.9h0M826.1 235.9h0M830.1 235.9h0M850.2 235.9h0M830.1 239.9h0M842.2 239.9h0M846.2 239.9h0M862.3 239.9h0M826.1 243.9h0M838.2 243.9h0M850.2 243.9h0M858.3 243.9h0M822.1 247.9h0M826.1 247.9h0M850.2 247.9h0M854.3 247.9h0M830.1 251.9h0M834.2 251.9h0M850.2 251.9h0M858.3 251.9h0M862.3 251.9h0M862.3 255.9h0M902.1 215.9h0M906.1 215.9h0M922.2 219.9h0M930.2 231.9h0M942.3 231.9h0M902.1 235.9h0M902.1 239.9h0M942.3 239.9h0M942.3 247.9h0M930.2 251.9h0M942.3 251.9h0M926.2 255.9h0M262.1 295.5h0M262.1 299.5h0M266.1 303.5h0M302.3 303.5h0M302.3 307.5h0M274.2 311.5h0M302.3 319.5h0M282.2 327.5h0M262.1 331.5h0M266.1 335.5h0M302.3 335.5h0M350.1 295.5h0M378.3 295.5h0M382.3 295.5h0M342.1 299.5h0M354.2 299.5h0M382.3 299.5h0M342.1 303.5h0M366.2 303.5h0M378.3 303.5h0M378.3 311.5h0M350.1 315.5h0M358.2 315.5h0M370.2 315.5h0M374.3 323.5h0M342.1 327.5h0M346.1 327.5h0M346.1 331.5h0M358.2 335.5h0M362.2 335.5h0M378.3 335.5h0M438.2 295.5h0M442.2 295.5h0M454.3 295.5h0M462.3 295.5h0M434.2 299.5h0M450.2 303.5h0M454.3 303.5h0M462.3 303.5h0M426.1 307.5h0M434.2 307.5h0M438.2 307.5h0M430.1 311.5h0M442.2 311.5h0M450.2 311.5h0M434.2 315.5h0M450.2 315.5h0M454.3 315.5h0M462.3 315.5h0M430.1 319.5h0M438.2 319.5h0M446.2 319.5h0M450.2 319.5h0M434.2 323.5h0M438.2 323.5h0M454.3 323.5h0M438.2 331.5h0M446.2 331.5h0M434.2 335.5h0M502.1 295.5h0M534.3 295.5h0M538.3 295.5h0M510.1 299.5h0M542.3 299.5h0M506.1 303.5h0M542.3 303.5h0M534.3 307.5h0M538.3 307.5h0M514.2 311.5h0M522.2 311.5h0M510.1 315.5h0M526.2 315.5h0M542.3 315.5h0M526.2 319.5h0M502.1 323.5h0M514.2 323.5h0M526.2 323.5h0M534.3 323.5h0M538.3 323.5h0M510.1 327.5h0M534.3 327.5h0M502.1 331.5h0M506.1 331.5h0M534.3 331.5h0M542.3 335.5h0M610.2 295.5h0M614.3 299.5h0M594.2 311.5h0M614.3 315.5h0M602.2 327.5h0M606.2 331.5h0M618.3 331.5h0M582.1 335.5h0M702.3 299.5h0M666.1 303.5h0M690.2 307.5h0M702.3 307.5h0M670.1 311.5h0M686.2 311.5h0M682.2 315.5h0M698.3 315.5h0M662.1 319.5h0M670.1 319.5h0M678.2 319.5h0M698.3 319.5h0M694.3 323.5h0M698.3 323.5h0M670.1 327.5h0M686.2 327.5h0M662.1 335.5h0M770.2 303.5h0M746.1 319.5h0M862.3 295.5h0M834.2 299.5h0M858.3 299.5h0M838.2 303.5h0M862.3 303.5h0M822.1 307.5h0M842.2 311.5h0M846.2 311.5h0M854.3 315.5h0M834.2 319.5h0M850.2 323.5h0M830.1 327.5h0M838.2 327.5h0M826.1 335.5h0M842.2 335.5h0M846.2 335.5h0M862.3 335.5h0M910.1 295.5h0M918.2 299.5h0M922.2 299.5h0M934.3 299.5h0M926.2 307.5h0M942.3 307.5h0M902.1 311.5h0M910.1 311.5h0M922.2 311.5h0M926.2 311.5h0M906.1 315.5h0M918.2 315.5h0M930.2 315.5h0M942.3 319.5h0M910.1 323.5h0M942.3 323.5h0M914.2 327.5h0M902.1 331.5h0M922.2 331.5h0M930.2 335.5h0M942.3 335.5h0M986.1 307.5h0M1010.2 315.5h0M1014.3 319.5h0M994.2 331.5h0M998.2 331.5h0M1022.3 331.5h0M1014.3 335.5h0M1022.3 335.5h0M270.1 375.1h0M278.2 375.1h0M298.3 383.1h0M294.3 391.1h0M302.3 391.1h0M286.2 395.1h0M294.3 399.1h0M302.3 399.1h0M298.3 403.1h0M286.2 411.1h0M270.1 415.1h0M366.2 375.1h0M370.2 375.1h0M378.3 375.1h0M382.3 375.1h0M346.1 379.1h0M350.1 379.1h0M370.2 379.1h0M346.1 383.1h0M354.2 383.1h0M358.2 383.1h0M362.2 383.1h0M370.2 383.1h0M378.3 383.1h0M342.1 387.1h0M370.2 387.1h0M374.3 387.1h0M350.1 391.1h0M354.2 391.1h0M370.2 391.1h0M374.3 391.1h0M382.3 391.1h0M354.2 395.1h0M358.2 395.1h0M362.2 395.1h0M370.2 395.1h0M374.3 395.1h0M378.3 395.1h0M342.1 399.1h0M366.2 399.1h0M350.1 403.1h0M358.2 403.1h0M362.2 403.1h0M370.2 403.1h0M374.3 403.1h0M382.3 403.1h0M346.1 407.1h0M350.1 407.1h0M354.2 407.1h0M358.2 407.1h0M366.2 407.1h0M374.3 407.1h0M342.1 411.1h0M366.2 411.1h0M378.3 411.1h0M382.3 411.1h0M354.2 415.1h0M374.3 415.1h0M450.2 375.1h0M422.1 379.1h0M422.1 383.1h0M430.1 383.1h0M442.2 383.1h0M446.2 387.1h0M462.3 387.1h0M434.2 391.1h0M442.2 395.1h0M426.1 403.1h0M450.2 403.1h0M462.3 403.1h0M426.1 411.1h0M438.2 411.1h0M426.1 415.1h0M430.1 415.1h0M434.2 415.1h0M514.2 375.1h0M518.2 375.1h0M522.2 375.1h0M530.2 375.1h0M538.3 375.1h0M510.1 383.1h0M518.2 383.1h0M526.2 383.1h0M506.1 387.1h0M518.2 387.1h0M530.2 387.1h0M534.3 387.1h0M510.1 391.1h0M526.2 391.1h0M530.2 391.1h0M510.1 399.1h0M502.1 403.1h0M506.1 403.1h0M510.1 403.1h0M526.2 403.1h0M534.3 403.1h0M506.1 407.1h0M510.1 407.1h0M522.2 407.1h0M518.2 415.1h0M582.1 375.1h0M586.1 375.1h0M590.1 375.1h0M590.1 379.1h0M598.2 379.1h0M610.2 379.1h0M622.3 379.1h0M590.1 383.1h0M598.2 383.1h0M614.3 383.1h0M622.3 383.1h0M582.1 387.1h0M590.1 387.1h0M614.3 387.1h0M622.3 387.1h0M586.1 391.1h0M590.1 391.1h0M614.3 391.1h0M582.1 395.1h0M610.2 395.1h0M614.3 395.1h0M586.1 399.1h0M594.2 399.1h0M602.2 399.1h0M614.3 399.1h0M598.2 403.1h0M622.3 403.1h0M582.1 407.1h0M586.1 407.1h0M610.2 407.1h0M586.1 411.1h0M598.2 411.1h0M606.2 411.1h0M610.2 411.1h0M582.1 415.1h0M586.1 415.1h0M594.2 415.1h0M666.1 375.1h0M702.3 375.1h0M670.1 379.1h0M678.2 379.1h0M682.2 379.1h0M698.3 379.1h0M678.2 383.1h0M698.3 383.1h0M682.2 387.1h0M690.2 387.1h0M666.1 391.1h0M694.3 391.1h0M678.2 395.1h0M686.2 395.1h0M662.1 399.1h0M678.2 399.1h0M682.2 399.1h0M662.1 403.1h0M674.2 403.1h0M690.2 403.1h0M682.2 407.1h0M698.3 407.1h0M674.2 411.1h0M678.2 411.1h0M686.2 411.1h0M678.2 415.1h0M686.2 415.1h0M694.3 415.1h0M698.3 415.1h0M774.3 379.1h0M770.2 383.1h0M770.2 387.1h0M782.3 387.1h0M766.2 391.1h0M742.1 395.1h0M754.2 395.1h0M782.3 407.1h0M754.2 411.1h0M822.1 375.1h0M826.1 375.1h0M834.2 379.1h0M862.3 383.1h0M834.2 391.1h0M830.1 399.1h0M858.3 403.1h0M830.1 411.1h0M934.3 375.1h0M938.3 379.1h0M906.1 383.1h0M942.3 383.1h0M938.3 387.1h0M942.3 403.1h0M938.3 411.1h0M986.1 375.1h0M990.1 375.1h0M1010.2 375.1h0M990.1 379.1h0M994.2 383.1h0M1014.3 391.1h0M1002.2 395.1h0M1010.2 395.1h0M1022.3 395.1h0M990.1 399.1h0M1002.2 399.1h0M1022.3 407.1h0M986.1 415.1h0M990.1 415.1h0M1018.3 415.1h0M1022.3 415.1h0M270.1 454.8h0M270.1 462.8h0M274.2 470.8h0M278.2 470.8h0M294.3 470.8h0M302.3 470.8h0M298.3 474.8h0M266.1 478.8h0M278.2 482.8h0M286.2 482.8h0M278.2 490.8h0M286.2 490.8h0M290.2 490.8h0M302.3 494.8h0M342.1 454.8h0M350.1 454.8h0M374.3 454.8h0M354.2 458.8h0M362.2 458.8h0M374.3 458.8h0M350.1 462.8h0M358.2 462.8h0M362.2 462.8h0M366.2 466.8h0M378.3 466.8h0M342.1 470.8h0M346.1 470.8h0M362.2 470.8h0M366.2 470.8h0M374.3 470.8h0M342.1 474.8h0M350.1 474.8h0M378.3 474.8h0M358.2 478.8h0M354.2 482.8h0M366.2 486.8h0M358.2 490.8h0M378.3 490.8h0M382.3 490.8h0M350.1 494.8h0M374.3 494.8h0M378.3 494.8h0M430.1 454.8h0M434.2 454.8h0M454.3 454.8h0M426.1 458.8h0M438.2 462.8h0M450.2 462.8h0M454.3 462.8h0M442.2 466.8h0M450.2 466.8h0M442.2 470.8h0M458.3 470.8h0M462.3 470.8h0M426.1 474.8h0M430.1 474.8h0M446.2 478.8h0M450.2 478.8h0M458.3 478.8h0M462.3 478.8h0M438.2 482.8h0M454.3 482.8h0M462.3 482.8h0M462.3 486.8h0M422.1 490.8h0M462.3 494.8h0M506.1 454.8h0M518.2 454.8h0M502.1 462.8h0M530.2 466.8h0M510.1 470.8h0M542.3 470.8h0M534.3 474.8h0M514.2 478.8h0M522.2 478.8h0M502.1 482.8h0M510.1 486.8h0M526.2 486.8h0M530.2 490.8h0M590.1 454.8h0M594.2 454.8h0M594.2 458.8h0M614.3 458.8h0M590.1 462.8h0M598.2 466.8h0M606.2 466.8h0M610.2 466.8h0M618.3 466.8h0M586.1 470.8h0M622.3 470.8h0M586.1 474.8h0M606.2 474.8h0M610.2 474.8h0M618.3 474.8h0M598.2 478.8h0M606.2 478.8h0M594.2 482.8h0M622.3 482.8h0M582.1 486.8h0M614.3 486.8h0M606.2 490.8h0M618.3 490.8h0M594.2 494.8h0M614.3 494.8h0M618.3 494.8h0M702.3 454.8h0M670.1 458.8h0M670.1 466.8h0M682.2 474.8h0M670.1 478.8h0M698.3 478.8h0M686.2 482.8h0M674.2 486.8h0M762.2 458.8h0M774.3 458.8h0M754.2 462.8h0M766.2 462.8h0M774.3 462.8h0M742.1 466.8h0M746.1 466.8h0M770.2 466.8h0M774.3 466.8h0M778.3 466.8h0M750.1 470.8h0M766.2 470.8h0M774.3 470.8h0M782.3 470.8h0M742.1 474.8h0M778.3 474.8h0M762.2 478.8h0M770.2 478.8h0M774.3 478.8h0M746.1 482.8h0M782.3 482.8h0M746.1 486.8h0M762.2 486.8h0M774.3 486.8h0M742.1 490.8h0M742.1 494.8h0M766.2 494.8h0M774.3 494.8h0M834.2 454.8h0M862.3 454.8h0M826.1 458.8h0M850.2 458.8h0M822.1 462.8h0M842.2 462.8h0M854.3 462.8h0M834.2 466.8h0M838.2 466.8h0M850.2 470.8h0M830.1 474.8h0M842.2 474.8h0M858.3 474.8h0M822.1 478.8h0M850.2 478.8h0M854.3 478.8h0M862.3 478.8h0M822.1 482.8h0M834.2 482.8h0M846.2 482.8h0M850.2 482.8h0M822.1 486.8h0M850.2 486.8h0M822.1 494.8h0M838.2 494.8h0M930.2 454.8h0M938.3 454.8h0M942.3 454.8h0M914.2 462.8h0M934.3 462.8h0M942.3 466.8h0M922.2 470.8h0M914.2 474.8h0M938.3 482.8h0M926.2 494.8h0M942.3 494.8h0M1002.2 454.8h0M1022.3 454.8h0M1022.3 458.8h0M1006.2 470.8h0M1014.3 478.8h0M1018.3 478.8h0M1018.3 486.8h0M990.1 490.8h0M1010.2 490.8h0M1018.3 490.8h0M1022.3 490.8h0M274.2 534.4h0M262.1 538.4h0M282.2 538.4h0M270.1 542.4h0M294.3 542.4h0M262.1 554.4h0M286.2 566.4h0M302.3 566.4h0M302.3 570.4h0M278.2 574.4h0M342.1 534.4h0M366.2 534.4h0M342.1 538.4h0M354.2 538.4h0M366.2 538.4h0M358.2 542.4h0M374.3 542.4h0M382.3 542.4h0M358.2 546.4h0M362.2 546.4h0M382.3 546.4h0M342.1 554.4h0M350.1 554.4h0M358.2 554.4h0M366.2 554.4h0M374.3 554.4h0M370.2 558.4h0M346.1 562.4h0M362.2 562.4h0M374.3 562.4h0M382.3 562.4h0M354.2 566.4h0M346.1 570.4h0M374.3 570.4h0M342.1 574.4h0M374.3 574.4h0M446.2 538.4h0M434.2 546.4h0M434.2 554.4h0M426.1 558.4h0M442.2 562.4h0M510.1 534.4h0M518.2 534.4h0M542.3 534.4h0M526.2 538.4h0M530.2 538.4h0M534.3 538.4h0M502.1 542.4h0M506.1 542.4h0M514.2 542.4h0M526.2 542.4h0M538.3 542.4h0M502.1 546.4h0M518.2 546.4h0M530.2 546.4h0M534.3 546.4h0M518.2 550.4h0M522.2 550.4h0M538.3 550.4h0M542.3 550.4h0M514.2 554.4h0M518.2 554.4h0M502.1 558.4h0M506.1 558.4h0M510.1 558.4h0M518.2 558.4h0M522.2 558.4h0M502.1 562.4h0M526.2 562.4h0M538.3 562.4h0M542.3 562.4h0M502.1 566.4h0M514.2 566.4h0M518.2 566.4h0M522.2 566.4h0M502.1 570.4h0M522.2 570.4h0M530.2 570.4h0M538.3 570.4h0M542.3 570.4h0M538.3 574.4h0M602.2 534.4h0M614.3 534.4h0M618.3 534.4h0M610.2 538.4h0M618.3 538.4h0M622.3 542.4h0M590.1 546.4h0M594.2 546.4h0M590.1 550.4h0M614.3 550.4h0M614.3 554.4h0M594.2 558.4h0M586.1 562.4h0M590.1 562.4h0M594.2 562.4h0M606.2 562.4h0M610.2 562.4h0M614.3 566.4h0M582.1 570.4h0M590.1 570.4h0M602.2 570.4h0M590.1 574.4h0M602.2 574.4h0M606.2 574.4h0M614.3 574.4h0M674.2 534.4h0M682.2 534.4h0M698.3 534.4h0M702.3 534.4h0M666.1 538.4h0M678.2 538.4h0M698.3 538.4h0M666.1 542.4h0M694.3 542.4h0M698.3 542.4h0M670.1 546.4h0M674.2 546.4h0M686.2 546.4h0M690.2 546.4h0M698.3 546.4h0M674.2 550.4h0M682.2 550.4h0M702.3 550.4h0M666.1 554.4h0M678.2 554.4h0M682.2 558.4h0M698.3 558.4h0M678.2 562.4h0M690.2 562.4h0M698.3 562.4h0M662.1 566.4h0M670.1 566.4h0M690.2 566.4h0M698.3 566.4h0M670.1 570.4h0M702.3 570.4h0M674.2 574.4h0M682.2 574.4h0M686.2 574.4h0M702.3 574.4h0M742.1 534.4h0M750.1 534.4h0M762.2 534.4h0M766.2 534.4h0M770.2 534.4h0M774.3 534.4h0M742.1 538.4h0M750.1 538.4h0M778.3 538.4h0M762.2 542.4h0M770.2 542.4h0M742.1 546.4h0M746.1 546.4h0M770.2 546.4h0M782.3 546.4h0M754.2 550.4h0M758.2 550.4h0M770.2 550.4h0M782.3 550.4h0M746.1 554.4h0M754.2 554.4h0M782.3 554.4h0M754.2 558.4h0M758.2 558.4h0M782.3 558.4h0M750.1 562.4h0M762.2 562.4h0M750.1 566.4h0M774.3 566.4h0M778.3 566.4h0M782.3 566.4h0M742.1 570.4h0M754.2 570.4h0M766.2 570.4h0M770.2 570.4h0M774.3 570.4h0M742.1 574.4h0M746.1 574.4h0M758.2 574.4h0M762.2 574.4h0M770.2 574.4h0M830.1 534.4h0M846.2 534.4h0M858.3 534.4h0M830.1 538.4h0M854.3 538.4h0M862.3 538.4h0M826.1 542.4h0M858.3 542.4h0M862.3 542.4h0M850.2 546.4h0M858.3 546.4h0M842.2 550.4h0M854.3 550.4h0M838.2 558.4h0M842.2 558.4h0M854.3 562.4h0M838.2 566.4h0M826.1 570.4h0M842.2 570.4h0M826.1 574.4h0M830.1 574.4h0M846.2 574.4h0M918.2 534.4h0M934.3 534.4h0M918.2 538.4h0M922.2 538.4h0M914.2 542.4h0M926.2 542.4h0M906.1 546.4h0M922.2 546.4h0M926.2 546.4h0M930.2 546.4h0M922.2 550.4h0M942.3 550.4h0M906.1 554.4h0M926.2 554.4h0M934.3 554.4h0M942.3 554.4h0M906.1 558.4h0M914.2 558.4h0M926.2 558.4h0M930.2 558.4h0M942.3 558.4h0M906.1 562.4h0M934.3 562.4h0M938.3 562.4h0M942.3 562.4h0M902.1 566.4h0M910.1 566.4h0M926.2 566.4h0M934.3 566.4h0M942.3 566.4h0M918.2 570.4h0M922.2 570.4h0M938.3 570.4h0M906.1 574.4h0M914.2 574.4h0M922.2 574.4h0M934.3 574.4h0M942.3 574.4h0M986.1 534.4h0M998.2 534.4h0M1014.3 534.4h0M1022.3 534.4h0M990.1 538.4h0M1006.2 538.4h0M986.1 542.4h0M1002.2 542.4h0M1014.3 542.4h0M990.1 546.4h0M1014.3 546.4h0M990.1 550.4h0M1002.2 550.4h0M1006.2 550.4h0M986.1 554.4h0M998.2 554.4h0M1002.2 554.4h0M1018.3 554.4h0M1018.3 558.4h0M986.1 562.4h0M990.1 562.4h0M1022.3 562.4h0M994.2 566.4h0M1010.2 566.4h0M1002.2 574.4h0M366.2 614.1h0M378.3 614.1h0M366.2 630.1h0M366.2 634.1h0M374.3 634.1h0M378.3 634.1h0M378.3 638.1h0M354.2 646.1h0M362.2 654.1h0M426.1 614.1h0M434.2 614.1h0M454.3 614.1h0M462.3 614.1h0M434.2 618.1h0M438.2 618.1h0M430.1 622.1h0M450.2 622.1h0M450.2 630.1h0M426.1 634.1h0M458.3 634.1h0M462.3 634.1h0M450.2 638.1h0M462.3 638.1h0M434.2 642.1h0M438.2 642.1h0M454.3 642.1h0M462.3 642.1h0M438.2 646.1h0M450.2 646.1h0M434.2 650.1h0M454.3 650.1h0M530.2 614.1h0M542.3 618.1h0M510.1 622.1h0M518.2 622.1h0M526.2 622.1h0M530.2 622.1h0M542.3 622.1h0M526.2 626.1h0M502.1 630.1h0M518.2 630.1h0M542.3 630.1h0M526.2 638.1h0M530.2 638.1h0M510.1 642.1h0M514.2 642.1h0M522.2 642.1h0M530.2 642.1h0M534.3 642.1h0M530.2 650.1h0M526.2 654.1h0M530.2 654.1h0M534.3 654.1h0M542.3 654.1h0M582.1 614.1h0M614.3 614.1h0M606.2 618.1h0M610.2 618.1h0M586.1 622.1h0M618.3 622.1h0M622.3 622.1h0M594.2 626.1h0M614.3 626.1h0M594.2 630.1h0M602.2 630.1h0M622.3 630.1h0M594.2 634.1h0M586.1 638.1h0M610.2 638.1h0M618.3 638.1h0M582.1 642.1h0M594.2 642.1h0M614.3 642.1h0M622.3 642.1h0M590.1 646.1h0M610.2 646.1h0M594.2 650.1h0M598.2 650.1h0M606.2 650.1h0M610.2 650.1h0M618.3 650.1h0M586.1 654.1h0M606.2 654.1h0M614.3 654.1h0M694.3 614.1h0M702.3 614.1h0M682.2 618.1h0M662.1 622.1h0M666.1 622.1h0M702.3 622.1h0M674.2 626.1h0M678.2 626.1h0M662.1 630.1h0M666.1 630.1h0M690.2 630.1h0M666.1 634.1h0M670.1 634.1h0M690.2 634.1h0M670.1 638.1h0M662.1 642.1h0M674.2 646.1h0M698.3 646.1h0M662.1 650.1h0M666.1 650.1h0M670.1 650.1h0M674.2 650.1h0M678.2 650.1h0M698.3 650.1h0M666.1 654.1h0M678.2 654.1h0M682.2 654.1h0M754.2 614.1h0M762.2 614.1h0M754.2 618.1h0M762.2 618.1h0M766.2 618.1h0M770.2 618.1h0M782.3 618.1h0M762.2 622.1h0M778.3 622.1h0M750.1 626.1h0M754.2 626.1h0M774.3 626.1h0M758.2 630.1h0M770.2 630.1h0M774.3 630.1h0M770.2 634.1h0M774.3 634.1h0M778.3 634.1h0M754.2 638.1h0M770.2 638.1h0M746.1 642.1h0M770.2 646.1h0M758.2 650.1h0M778.3 650.1h0M782.3 650.1h0M762.2 654.1h0M830.1 614.1h0M838.2 614.1h0M854.3 622.1h0M842.2 626.1h0M846.2 626.1h0M862.3 626.1h0M826.1 630.1h0M842.2 630.1h0M850.2 630.1h0M854.3 630.1h0M862.3 630.1h0M834.2 634.1h0M838.2 634.1h0M842.2 634.1h0M854.3 634.1h0M854.3 638.1h0M858.3 638.1h0M862.3 638.1h0M854.3 642.1h0M822.1 646.1h0M826.1 646.1h0M838.2 646.1h0M842.2 646.1h0M846.2 646.1h0M850.2 646.1h0M854.3 646.1h0M826.1 650.1h0M834.2 650.1h0M850.2 650.1h0M854.3 650.1h0M822.1 654.1h0M842.2 654.1h0M854.3 654.1h0M858.3 654.1h0M902.1 614.1h0M910.1 614.1h0M918.2 614.1h0M910.1 618.1h0M918.2 618.1h0M926.2 618.1h0M934.3 618.1h0M902.1 622.1h0M926.2 622.1h0M926.2 626.1h0M934.3 626.1h0M938.3 626.1h0M906.1 630.1h0M922.2 630.1h0M930.2 630.1h0M910.1 634.1h0M914.2 634.1h0M918.2 634.1h0M902.1 638.1h0M906.1 638.1h0M922.2 638.1h0M922.2 642.1h0M930.2 642.1h0M942.3 642.1h0M930.2 646.1h0M934.3 646.1h0M902.1 650.1h0M930.2 650.1h0M934.3 650.1h0M938.3 650.1h0M942.3 650.1h0M990.1 622.1h0M1014.3 650.1h0M1010.2 654.1h0M262.1 693.7h0M266.1 697.7h0M274.2 697.7h0M286.2 697.7h0M294.3 697.7h0M274.2 701.7h0M266.1 705.7h0M266.1 709.7h0M290.2 713.7h0M266.1 717.7h0M290.2 721.7h0M266.1 725.7h0M294.3 725.7h0M286.2 729.7h0M278.2 733.7h0M294.3 733.7h0M346.1 693.7h0M366.2 697.7h0M350.1 701.7h0M366.2 701.7h0M382.3 701.7h0M350.1 705.7h0M358.2 705.7h0M358.2 709.7h0M358.2 717.7h0M342.1 721.7h0M362.2 721.7h0M370.2 721.7h0M378.3 721.7h0M358.2 725.7h0M382.3 725.7h0M350.1 733.7h0M462.3 693.7h0M438.2 697.7h0M426.1 701.7h0M430.1 701.7h0M434.2 701.7h0M454.3 701.7h0M462.3 701.7h0M422.1 705.7h0M458.3 709.7h0M450.2 713.7h0M454.3 713.7h0M458.3 713.7h0M434.2 717.7h0M438.2 717.7h0M450.2 717.7h0M450.2 721.7h0M454.3 721.7h0M462.3 721.7h0M426.1 725.7h0M442.2 729.7h0M422.1 733.7h0M454.3 733.7h0M530.2 693.7h0M534.3 693.7h0M506.1 697.7h0M534.3 697.7h0M502.1 701.7h0M506.1 701.7h0M510.1 701.7h0M514.2 701.7h0M526.2 701.7h0M514.2 705.7h0M538.3 705.7h0M542.3 705.7h0M506.1 709.7h0M522.2 709.7h0M534.3 709.7h0M510.1 713.7h0M514.2 713.7h0M518.2 713.7h0M530.2 713.7h0M534.3 713.7h0M502.1 717.7h0M518.2 717.7h0M526.2 717.7h0M542.3 717.7h0M502.1 721.7h0M522.2 721.7h0M526.2 721.7h0M530.2 721.7h0M538.3 721.7h0M502.1 725.7h0M510.1 725.7h0M514.2 725.7h0M526.2 725.7h0M514.2 729.7h0M526.2 729.7h0M506.1 733.7h0M510.1 733.7h0M522.2 733.7h0M530.2 733.7h0M610.2 693.7h0M622.3 693.7h0M586.1 697.7h0M594.2 697.7h0M606.2 697.7h0M590.1 701.7h0M606.2 701.7h0M590.1 705.7h0M614.3 705.7h0M590.1 709.7h0M598.2 713.7h0M602.2 713.7h0M606.2 713.7h0M610.2 713.7h0M586.1 717.7h0M614.3 717.7h0M622.3 717.7h0M590.1 721.7h0M594.2 721.7h0M594.2 725.7h0M602.2 725.7h0M610.2 725.7h0M598.2 729.7h0M610.2 729.7h0M618.3 729.7h0M622.3 729.7h0M582.1 733.7h0M594.2 733.7h0M670.1 701.7h0M666.1 705.7h0M678.2 705.7h0M686.2 705.7h0M694.3 705.7h0M698.3 705.7h0M698.3 713.7h0M698.3 717.7h0M666.1 729.7h0M686.2 729.7h0M690.2 729.7h0M698.3 729.7h0M742.1 693.7h0M758.2 693.7h0M774.3 693.7h0M782.3 693.7h0M754.2 697.7h0M762.2 697.7h0M766.2 697.7h0M770.2 697.7h0M778.3 697.7h0M742.1 701.7h0M766.2 701.7h0M774.3 701.7h0M754.2 705.7h0M762.2 705.7h0M770.2 705.7h0M782.3 709.7h0M754.2 713.7h0M762.2 713.7h0M778.3 713.7h0M750.1 717.7h0M754.2 717.7h0M766.2 717.7h0M774.3 721.7h0M750.1 725.7h0M774.3 725.7h0M742.1 729.7h0M762.2 729.7h0M766.2 729.7h0M774.3 729.7h0M778.3 729.7h0M742.1 733.7h0M750.1 733.7h0M758.2 733.7h0M766.2 733.7h0M858.3 693.7h0M858.3 697.7h0M822.1 701.7h0M826.1 705.7h0M858.3 705.7h0M822.1 709.7h0M862.3 713.7h0M826.1 721.7h0M834.2 721.7h0M838.2 721.7h0M862.3 721.7h0M846.2 729.7h0M846.2 733.7h0M862.3 733.7h0M906.1 693.7h0M902.1 697.7h0M918.2 697.7h0M938.3 697.7h0M914.2 701.7h0M934.3 701.7h0M910.1 705.7h0M902.1 709.7h0M930.2 717.7h0M938.3 717.7h0M942.3 721.7h0M922.2 725.7h0M902.1 729.7h0M914.2 729.7h0M938.3 729.7h0M942.3 729.7h0M930.2 733.7h0M986.1 693.7h0M1022.3 693.7h0M982.1 697.7h0M1002.2 697.7h0M982.1 701.7h0M998.2 701.7h0M1002.2 701.7h0M1006.2 701.7h0M1010.2 701.7h0M990.1 705.7h0M998.2 705.7h0M1010.2 705.7h0M986.1 709.7h0M1002.2 709.7h0M1006.2 709.7h0M1010.2 709.7h0M1022.3 709.7h0M986.1 713.7h0M998.2 713.7h0M1014.3 713.7h0M1022.3 713.7h0M986.1 717.7h0M1018.3 717.7h0M1002.2 721.7h0M1018.3 721.7h0M1022.3 721.7h0M1006.2 725.7h0M1018.3 725.7h0M1022.3 725.7h0M1014.3 729.7h0M986.1 733.7h0M382.3 777.3h0M350.1 785.3h0M350.1 793.3h0M358.2 801.3h0M370.2 805.3h0M378.3 813.3h0M434.2 777.3h0M442.2 777.3h0M446.2 777.3h0M462.3 777.3h0M434.2 781.3h0M438.2 781.3h0M446.2 781.3h0M450.2 781.3h0M458.3 781.3h0M426.1 785.3h0M422.1 789.3h0M438.2 789.3h0M450.2 789.3h0M450.2 797.3h0M438.2 801.3h0M442.2 801.3h0M450.2 801.3h0M426.1 805.3h0M430.1 805.3h0M446.2 805.3h0M450.2 805.3h0M434.2 809.3h0M458.3 813.3h0M542.3 773.3h0M506.1 777.3h0M530.2 777.3h0M518.2 781.3h0M534.3 781.3h0M510.1 785.3h0M526.2 785.3h0M534.3 785.3h0M506.1 789.3h0M510.1 789.3h0M534.3 789.3h0M510.1 793.3h0M518.2 793.3h0M522.2 793.3h0M502.1 797.3h0M506.1 797.3h0M526.2 797.3h0M530.2 797.3h0M502.1 801.3h0M514.2 801.3h0M538.3 801.3h0M510.1 805.3h0M538.3 805.3h0M514.2 809.3h0M586.1 773.3h0M590.1 773.3h0M606.2 773.3h0M614.3 773.3h0M582.1 777.3h0M590.1 777.3h0M598.2 777.3h0M602.2 777.3h0M586.1 781.3h0M606.2 781.3h0M598.2 785.3h0M606.2 785.3h0M618.3 785.3h0M590.1 789.3h0M602.2 793.3h0M618.3 793.3h0M594.2 797.3h0M598.2 797.3h0M602.2 797.3h0M586.1 801.3h0M594.2 805.3h0M590.1 809.3h0M622.3 809.3h0M606.2 813.3h0M622.3 813.3h0M674.2 781.3h0M682.2 785.3h0M678.2 793.3h0M674.2 797.3h0M662.1 805.3h0M666.1 805.3h0M686.2 809.3h0M690.2 809.3h0M670.1 813.3h0M690.2 813.3h0M698.3 813.3h0M702.3 813.3h0M750.1 773.3h0M742.1 777.3h0M754.2 777.3h0M766.2 777.3h0M742.1 781.3h0M754.2 781.3h0M758.2 785.3h0M742.1 789.3h0M746.1 789.3h0M770.2 789.3h0M742.1 793.3h0M750.1 793.3h0M758.2 793.3h0M746.1 797.3h0M778.3 797.3h0M762.2 801.3h0M770.2 801.3h0M746.1 805.3h0M754.2 805.3h0M778.3 805.3h0M742.1 809.3h0M750.1 809.3h0M754.2 809.3h0M778.3 809.3h0M746.1 813.3h0M750.1 813.3h0M758.2 813.3h0M766.2 813.3h0M774.3 813.3h0M778.3 813.3h0M862.3 781.3h0M846.2 785.3h0M842.2 793.3h0M842.2 797.3h0M838.2 801.3h0M854.3 805.3h0M826.1 809.3h0M830.1 813.3h0M918.2 773.3h0M938.3 773.3h0M902.1 777.3h0M922.2 781.3h0M930.2 781.3h0M934.3 785.3h0M938.3 785.3h0M902.1 789.3h0M914.2 789.3h0M922.2 793.3h0M906.1 801.3h0M914.2 801.3h0M938.3 801.3h0M930.2 805.3h0M902.1 809.3h0M942.3 809.3h0M934.3 813.3h0M462.3 861.0h0M502.1 865.0h0M526.2 889.0h0M614.3 853.0h0M590.1 861.0h0M598.2 865.0h0M618.3 881.0h0M598.2 885.0h0M582.1 889.0h0M586.1 893.0h0M702.3 869.0h0M662.1 873.0h0M694.3 873.0h0M670.1 881.0h0M674.2 893.0h0M778.3 873.0h0"/>
<path stroke="#2ce404" d="M450.2 136.2h0M438.2 140.2h0M442.2 140.2h0M430.1 144.2h0M446.2 148.2h0M442.2 156.2h0M454.3 164.2h0M438.2 172.2h0M442.2 176.2h0M522.2 136.2h0M526.2 136.2h0M542.3 136.2h0M514.2 144.2h0M522.2 144.2h0M518.2 148.2h0M534.3 148.2h0M538.3 148.2h0M510.1 152.2h0M518.2 152.2h0M534.3 152.2h0M502.1 156.2h0M510.1 156.2h0M538.3 156.2h0M518.2 160.2h0M542.3 160.2h0M514.2 164.2h0M518.2 164.2h0M530.2 164.2h0M506.1 168.2h0M506.1 172.2h0M526.2 172.2h0M538.3 172.2h0M506.1 176.2h0M510.1 176.2h0M586.1 136.2h0M602.2 136.2h0M606.2 136.2h0M618.3 136.2h0M618.3 140.2h0M582.1 144.2h0M590.1 144.2h0M602.2 144.2h0M610.2 144.2h0M614.3 144.2h0M622.3 144.2h0M582.1 148.2h0M586.1 152.2h0M598.2 152.2h0M606.2 152.2h0M618.3 156.2h0M582.1 160.2h0M586.1 160.2h0M582.1 168.2h0M606.2 168.2h0M622.3 168.2h0M590.1 172.2h0M586.1 176.2h0M590.1 176.2h0M594.2 176.2h0M610.2 176.2h0M618.3 176.2h0M746.1 144.2h0M750.1 144.2h0M750.1 160.2h0M774.3 160.2h0M750.1 168.2h0M342.1 215.9h0M370.2 215.9h0M358.2 219.9h0M382.3 227.9h0M354.2 231.9h0M358.2 235.9h0M370.2 235.9h0M382.3 239.9h0M354.2 243.9h0M346.1 247.9h0M350.1 247.9h0M378.3 251.9h0M382.3 251.9h0M450.2 227.9h0M446.2 235.9h0M434.2 239.9h0M430.1 243.9h0M462.3 243.9h0M426.1 255.9h0M442.2 255.9h0M522.2 215.9h0M526.2 215.9h0M502.1 219.9h0M518.2 219.9h0M538.3 227.9h0M542.3 227.9h0M530.2 231.9h0M538.3 231.9h0M514.2 235.9h0M522.2 235.9h0M530.2 235.9h0M506.1 239.9h0M522.2 239.9h0M526.2 239.9h0M534.3 239.9h0M542.3 239.9h0M542.3 243.9h0M518.2 247.9h0M526.2 247.9h0M542.3 247.9h0M526.2 251.9h0M534.3 251.9h0M518.2 255.9h0M590.1 215.9h0M594.2 215.9h0M610.2 215.9h0M582.1 219.9h0M606.2 219.9h0M614.3 219.9h0M590.1 223.9h0M594.2 223.9h0M598.2 223.9h0M602.2 223.9h0M610.2 223.9h0M614.3 223.9h0M618.3 223.9h0M586.1 227.9h0M590.1 227.9h0M598.2 227.9h0M622.3 227.9h0M586.1 231.9h0M594.2 231.9h0M610.2 231.9h0M614.3 231.9h0M618.3 231.9h0M582.1 235.9h0M590.1 235.9h0M602.2 235.9h0M618.3 235.9h0M622.3 235.9h0M586.1 239.9h0M598.2 239.9h0M606.2 239.9h0M618.3 239.9h0M622.3 239.9h0M594.2 243.9h0M606.2 243.9h0M614.3 243.9h0M586.1 247.9h0M602.2 247.9h0M606.2 247.9h0M602.2 251.9h0M606.2 251.9h0M618.3 251.9h0M622.3 251.9h0M598.2 255.9h0M602.2 255.9h0M614.3 255.9h0M686.2 219.9h0M698.3 223.9h0M690.2 231.9h0M690.2 235.9h0M702.3 255.9h0M758.2 215.9h0M742.1 219.9h0M754.2 223.9h0M762.2 227.9h0M754.2 231.9h0M758.2 231.9h0M746.1 235.9h0M758.2 235.9h0M774.3 239.9h0M750.1 243.9h0M758.2 243.9h0M770.2 243.9h0M742.1 247.9h0M750.1 247.9h0M770.2 247.9h0M762.2 251.9h0M746.1 255.9h0M758.2 255.9h0M762.2 255.9h0M842.2 215.9h0M838.2 219.9h0M842.2 219.9h0M826.1 223.9h0M842.2 223.9h0M854.3 243.9h0M822.1 255.9h0M262.1 319.5h0M374.3 307.5h0M378.3 307.5h0M426.1 295.5h0M430.1 299.5h0M442.2 299.5h0M450.2 299.5h0M438.2 303.5h0M446.2 303.5h0M458.3 303.5h0M422.1 307.5h0M450.2 307.5h0M458.3 307.5h0M422.1 311.5h0M434.2 311.5h0M438.2 311.5h0M458.3 311.5h0M462.3 311.5h0M422.1 315.5h0M458.3 315.5h0M422.1 319.5h0M462.3 319.5h0M430.1 323.5h0M426.1 327.5h0M430.1 327.5h0M434.2 327.5h0M442.2 327.5h0M446.2 327.5h0M454.3 327.5h0M426.1 331.5h0M430.1 331.5h0M462.3 331.5h0M422.1 335.5h0M426.1 335.5h0M438.2 335.5h0M454.3 335.5h0M506.1 295.5h0M514.2 295.5h0M518.2 295.5h0M530.2 295.5h0M506.1 299.5h0M518.2 299.5h0M538.3 299.5h0M510.1 303.5h0M526.2 303.5h0M506.1 307.5h0M522.2 307.5h0M502.1 311.5h0M510.1 311.5h0M534.3 311.5h0M538.3 311.5h0M502.1 315.5h0M506.1 315.5h0M530.2 315.5h0M506.1 319.5h0M514.2 319.5h0M530.2 323.5h0M502.1 327.5h0M514.2 327.5h0M530.2 327.5h0M538.3 327.5h0M542.3 327.5h0M526.2 335.5h0M582.1 295.5h0M598.2 295.5h0M622.3 295.5h0M618.3 299.5h0M606.2 303.5h0M618.3 303.5h0M594.2 307.5h0M582.1 311.5h0M622.3 315.5h0M582.1 319.5h0M610.2 319.5h0M614.3 323.5h0M594.2 327.5h0M598.2 327.5h0M610.2 327.5h0M586.1 331.5h0M594.2 331.5h0M590.1 335.5h0M602.2 335.5h0M618.3 335.5h0M666.1 295.5h0M678.2 295.5h0M682.2 295.5h0M690.2 295.5h0M678.2 299.5h0M682.2 299.5h0M686.2 299.5h0M662.1 303.5h0M678.2 303.5h0M690.2 303.5h0M670.1 307.5h0M674.2 311.5h0M702.3 311.5h0M662.1 315.5h0M674.2 319.5h0M694.3 319.5h0M702.3 319.5h0M670.1 323.5h0M682.2 323.5h0M662.1 327.5h0M666.1 327.5h0M674.2 327.5h0M666.1 331.5h0M670.1 331.5h0M678.2 331.5h0M690.2 331.5h0M702.3 331.5h0M666.1 335.5h0M670.1 335.5h0M678.2 335.5h0M690.2 335.5h0M702.3 335.5h0M746.1 295.5h0M750.1 295.5h0M754.2 295.5h0M758.2 295.5h0M770.2 295.5h0M774.3 295.5h0M782.3 295.5h0M766.2 299.5h0M750.1 303.5h0M754.2 303.5h0M778.3 303.5h0M758.2 307.5h0M774.3 307.5h0M778.3 307.5h0M766.2 311.5h0M754.2 315.5h0M774.3 315.5h0M782.3 315.5h0M750.1 319.5h0M766.2 319.5h0M754.2 323.5h0M758.2 323.5h0M782.3 323.5h0M758.2 327.5h0M742.1 331.5h0M770.2 331.5h0M778.3 331.5h0M770.2 335.5h0M822.1 295.5h0M826.1 295.5h0M830.1 295.5h0M842.2 295.5h0M846.2 295.5h0M854.3 295.5h0M858.3 295.5h0M826.1 299.5h0M830.1 299.5h0M850.2 299.5h0M826.1 303.5h0M830.1 303.5h0M842.2 307.5h0M850.2 307.5h0M858.3 307.5h0M822.1 311.5h0M850.2 311.5h0M854.3 311.5h0M826.1 315.5h0M850.2 315.5h0M858.3 315.5h0M822.1 319.5h0M846.2 319.5h0M858.3 319.5h0M862.3 319.5h0M822.1 323.5h0M838.2 323.5h0M842.2 327.5h0M846.2 327.5h0M854.3 327.5h0M826.1 331.5h0M838.2 331.5h0M846.2 331.5h0M858.3 331.5h0M854.3 335.5h0M926.2 295.5h0M930.2 311.5h0M982.1 295.5h0M1006.2 295.5h0M1010.2 295.5h0M1022.3 295.5h0M986.1 299.5h0M1014.3 299.5h0M994.2 307.5h0M1010.2 307.5h0M1018.3 307.5h0M1022.3 307.5h0M990.1 311.5h0M994.2 311.5h0M1006.2 315.5h0M998.2 319.5h0M1010.2 319.5h0M998.2 323.5h0M994.2 327.5h0M1002.2 327.5h0M1022.3 327.5h0M982.1 331.5h0M990.1 335.5h0M1002.2 335.5h0M274.2 375.1h0M266.1 379.1h0M290.2 383.1h0M270.1 403.1h0M374.3 379.1h0M350.1 383.1h0M382.3 383.1h0M346.1 399.1h0M358.2 399.1h0M354.2 403.1h0M362.2 407.1h0M454.3 375.1h0M450.2 383.1h0M438.2 387.1h0M442.2 387.1h0M462.3 391.1h0M458.3 395.1h0M438.2 399.1h0M462.3 399.1h0M442.2 403.1h0M446.2 403.1h0M446.2 407.1h0M462.3 407.1h0M434.2 411.1h0M438.2 415.1h0M450.2 415.1h0M506.1 375.1h0M502.1 379.1h0M522.2 379.1h0M526.2 379.1h0M534.3 379.1h0M506.1 383.1h0M502.1 387.1h0M502.1 391.1h0M506.1 391.1h0M534.3 391.1h0M542.3 391.1h0M514.2 395.1h0M526.2 395.1h0M538.3 395.1h0M542.3 395.1h0M518.2 399.1h0M526.2 399.1h0M534.3 399.1h0M538.3 399.1h0M542.3 399.1h0M514.2 403.1h0M522.2 403.1h0M538.3 403.1h0M502.1 407.1h0M542.3 407.1h0M542.3 411.1h0M526.2 415.1h0M530.2 415.1h0M594.2 379.1h0M614.3 379.1h0M582.1 383.1h0M586.1 383.1h0M586.1 387.1h0M606.2 399.1h0M618.3 411.1h0M590.1 415.1h0M602.2 415.1h0M690.2 375.1h0M694.3 375.1h0M662.1 379.1h0M694.3 379.1h0M662.1 383.1h0M694.3 383.1h0M662.1 387.1h0M666.1 387.1h0M662.1 391.1h0M682.2 391.1h0M662.1 395.1h0M670.1 395.1h0M690.2 395.1h0M698.3 399.1h0M666.1 403.1h0M686.2 403.1h0M674.2 407.1h0M686.2 407.1h0M662.1 411.1h0M690.2 411.1h0M666.1 415.1h0M750.1 375.1h0M762.2 375.1h0M782.3 379.1h0M742.1 383.1h0M762.2 383.1h0M746.1 387.1h0M754.2 387.1h0M762.2 387.1h0M746.1 399.1h0M750.1 399.1h0M758.2 399.1h0M774.3 399.1h0M758.2 403.1h0M778.3 403.1h0M766.2 407.1h0M774.3 407.1h0M742.1 411.1h0M766.2 411.1h0M770.2 411.1h0M742.1 415.1h0M754.2 415.1h0M758.2 415.1h0M762.2 415.1h0M778.3 415.1h0M830.1 375.1h0M834.2 375.1h0M846.2 375.1h0M838.2 379.1h0M842.2 379.1h0M858.3 379.1h0M862.3 379.1h0M842.2 383.1h0M838.2 387.1h0M854.3 391.1h0M862.3 391.1h0M838.2 395.1h0M822.1 399.1h0M858.3 399.1h0M842.2 403.1h0M830.1 407.1h0M838.2 407.1h0M862.3 407.1h0M822.1 411.1h0M838.2 411.1h0M854.3 411.1h0M858.3 411.1h0M822.1 415.1h0M842.2 415.1h0M902.1 375.1h0M914.2 375.1h0M926.2 375.1h0M906.1 379.1h0M926.2 379.1h0M930.2 379.1h0M910.1 383.1h0M914.2 383.1h0M918.2 383.1h0M922.2 383.1h0M926.2 383.1h0M938.3 383.1h0M914.2 387.1h0M918.2 387.1h0M910.1 391.1h0M914.2 391.1h0M918.2 391.1h0M926.2 391.1h0M934.3 391.1h0M938.3 391.1h0M942.3 391.1h0M902.1 395.1h0M906.1 395.1h0M922.2 395.1h0M906.1 399.1h0M922.2 399.1h0M902.1 403.1h0M926.2 403.1h0M938.3 403.1h0M910.1 407.1h0M930.2 407.1h0M938.3 407.1h0M910.1 411.1h0M926.2 411.1h0M930.2 411.1h0M906.1 415.1h0M926.2 415.1h0M930.2 415.1h0M938.3 415.1h0M942.3 415.1h0M982.1 375.1h0M994.2 375.1h0M998.2 375.1h0M1006.2 375.1h0M1014.3 375.1h0M986.1 383.1h0M990.1 383.1h0M1006.2 383.1h0M1010.2 383.1h0M982.1 387.1h0M986.1 387.1h0M1002.2 387.1h0M1014.3 387.1h0M1018.3 387.1h0M986.1 391.1h0M1002.2 391.1h0M1010.2 391.1h0M1014.3 395.1h0M986.1 399.1h0M994.2 399.1h0M998.2 399.1h0M1002.2 403.1h0M990.1 407.1h0M994.2 407.1h0M986.1 411.1h0M994.2 411.1h0M1002.2 411.1h0M1022.3 411.1h0M994.2 415.1h0M282.2 454.8h0M290.2 458.8h0M298.3 458.8h0M274.2 474.8h0M278.2 478.8h0M354.2 454.8h0M346.1 458.8h0M378.3 462.8h0M382.3 470.8h0M374.3 474.8h0M382.3 474.8h0M366.2 478.8h0M382.3 478.8h0M346.1 482.8h0M362.2 482.8h0M378.3 482.8h0M342.1 486.8h0M362.2 486.8h0M378.3 486.8h0M342.1 494.8h0M354.2 494.8h0M362.2 494.8h0M446.2 454.8h0M438.2 458.8h0M446.2 458.8h0M462.3 458.8h0M430.1 462.8h0M458.3 462.8h0M434.2 466.8h0M454.3 466.8h0M446.2 470.8h0M450.2 474.8h0M434.2 482.8h0M442.2 482.8h0M422.1 486.8h0M446.2 490.8h0M454.3 490.8h0M422.1 494.8h0M434.2 494.8h0M450.2 494.8h0M458.3 494.8h0M502.1 454.8h0M538.3 454.8h0M518.2 462.8h0M518.2 474.8h0M586.1 454.8h0M614.3 470.8h0M622.3 474.8h0M618.3 478.8h0M610.2 482.8h0M678.2 458.8h0M746.1 454.8h0M758.2 462.8h0M754.2 466.8h0M762.2 474.8h0M774.3 474.8h0M782.3 478.8h0M754.2 482.8h0M758.2 482.8h0M766.2 486.8h0M746.1 490.8h0M754.2 490.8h0M746.1 494.8h0M754.2 494.8h0M762.2 494.8h0M782.3 494.8h0M822.1 454.8h0M858.3 458.8h0M830.1 462.8h0M838.2 462.8h0M850.2 462.8h0M862.3 462.8h0M822.1 466.8h0M826.1 466.8h0M842.2 466.8h0M854.3 466.8h0M822.1 470.8h0M854.3 470.8h0M858.3 470.8h0M862.3 470.8h0M822.1 474.8h0M862.3 474.8h0M846.2 478.8h0M858.3 478.8h0M838.2 482.8h0M842.2 482.8h0M862.3 482.8h0M830.1 486.8h0M834.2 486.8h0M846.2 486.8h0M822.1 490.8h0M842.2 490.8h0M854.3 490.8h0M826.1 494.8h0M862.3 494.8h0M922.2 454.8h0M930.2 458.8h0M934.3 458.8h0M938.3 458.8h0M942.3 458.8h0M902.1 462.8h0M942.3 462.8h0M910.1 466.8h0M914.2 466.8h0M926.2 466.8h0M918.2 474.8h0M930.2 474.8h0M942.3 474.8h0M930.2 478.8h0M910.1 482.8h0M914.2 482.8h0M918.2 482.8h0M934.3 482.8h0M942.3 482.8h0M902.1 486.8h0M930.2 486.8h0M922.2 490.8h0M930.2 490.8h0M934.3 490.8h0M942.3 490.8h0M902.1 494.8h0M982.1 454.8h0M990.1 454.8h0M998.2 458.8h0M1002.2 458.8h0M1014.3 458.8h0M982.1 462.8h0M994.2 462.8h0M982.1 466.8h0M986.1 466.8h0M990.1 466.8h0M1010.2 466.8h0M1014.3 466.8h0M1018.3 466.8h0M998.2 470.8h0M1010.2 470.8h0M1018.3 470.8h0M1022.3 470.8h0M994.2 474.8h0M1010.2 474.8h0M982.1 478.8h0M1010.2 478.8h0M1022.3 478.8h0M990.1 482.8h0M994.2 482.8h0M998.2 482.8h0M994.2 486.8h0M998.2 486.8h0M1002.2 486.8h0M1006.2 486.8h0M1014.3 486.8h0M982.1 490.8h0M1002.2 494.8h0M1014.3 494.8h0M346.1 534.4h0M350.1 534.4h0M354.2 534.4h0M374.3 534.4h0M382.3 534.4h0M346.1 538.4h0M358.2 538.4h0M370.2 538.4h0M350.1 542.4h0M362.2 542.4h0M366.2 542.4h0M370.2 542.4h0M374.3 546.4h0M350.1 550.4h0M370.2 550.4h0M378.3 550.4h0M346.1 554.4h0M346.1 558.4h0M350.1 558.4h0M354.2 558.4h0M366.2 558.4h0M378.3 558.4h0M382.3 558.4h0M342.1 566.4h0M358.2 566.4h0M382.3 566.4h0M350.1 574.4h0M450.2 534.4h0M462.3 534.4h0M430.1 538.4h0M434.2 538.4h0M442.2 538.4h0M454.3 538.4h0M422.1 542.4h0M430.1 542.4h0M434.2 542.4h0M454.3 542.4h0M454.3 546.4h0M422.1 550.4h0M434.2 550.4h0M450.2 550.4h0M458.3 550.4h0M454.3 554.4h0M446.2 558.4h0M458.3 558.4h0M422.1 562.4h0M426.1 566.4h0M430.1 570.4h0M462.3 570.4h0M446.2 574.4h0M502.1 534.4h0M530.2 534.4h0M534.3 534.4h0M506.1 538.4h0M530.2 542.4h0M510.1 546.4h0M538.3 546.4h0M526.2 550.4h0M526.2 554.4h0M534.3 554.4h0M530.2 558.4h0M542.3 558.4h0M526.2 570.4h0M526.2 574.4h0M594.2 534.4h0M602.2 562.4h0M614.3 562.4h0M670.1 542.4h0M678.2 546.4h0M670.1 550.4h0M698.3 550.4h0M694.3 554.4h0M698.3 554.4h0M686.2 562.4h0M666.1 566.4h0M678.2 566.4h0M694.3 566.4h0M702.3 566.4h0M678.2 570.4h0M662.1 574.4h0M666.1 574.4h0M770.2 538.4h0M766.2 550.4h0M746.1 566.4h0M750.1 574.4h0M842.2 534.4h0M854.3 534.4h0M838.2 538.4h0M858.3 538.4h0M838.2 542.4h0M842.2 542.4h0M854.3 542.4h0M822.1 546.4h0M830.1 546.4h0M838.2 550.4h0M822.1 554.4h0M838.2 554.4h0M850.2 554.4h0M862.3 554.4h0M846.2 558.4h0M830.1 562.4h0M854.3 566.4h0M834.2 574.4h0M838.2 574.4h0M858.3 574.4h0M938.3 534.4h0M926.2 538.4h0M930.2 542.4h0M922.2 554.4h0M930.2 554.4h0M938.3 558.4h0M906.1 566.4h0M930.2 570.4h0M994.2 534.4h0M1018.3 542.4h0M1010.2 546.4h0M982.1 554.4h0M1006.2 554.4h0M1014.3 554.4h0M982.1 558.4h0M986.1 558.4h0M994.2 558.4h0M998.2 558.4h0M994.2 562.4h0M1018.3 562.4h0M1018.3 566.4h0M1022.3 566.4h0M1006.2 570.4h0M1010.2 570.4h0M994.2 574.4h0M374.3 614.1h0M354.2 618.1h0M362.2 634.1h0M378.3 642.1h0M382.3 642.1h0M374.3 650.1h0M382.3 654.1h0M422.1 614.1h0M458.3 618.1h0M422.1 622.1h0M442.2 622.1h0M446.2 622.1h0M454.3 622.1h0M462.3 622.1h0M422.1 626.1h0M438.2 626.1h0M450.2 626.1h0M458.3 626.1h0M462.3 626.1h0M422.1 630.1h0M426.1 630.1h0M434.2 630.1h0M438.2 630.1h0M442.2 630.1h0M422.1 638.1h0M430.1 638.1h0M442.2 638.1h0M446.2 638.1h0M458.3 638.1h0M442.2 642.1h0M422.1 646.1h0M422.1 650.1h0M450.2 650.1h0M426.1 654.1h0M442.2 654.1h0M462.3 654.1h0M506.1 614.1h0M510.1 614.1h0M514.2 614.1h0M530.2 618.1h0M538.3 618.1h0M506.1 622.1h0M514.2 622.1h0M522.2 626.1h0M530.2 626.1h0M534.3 626.1h0M538.3 626.1h0M538.3 630.1h0M514.2 634.1h0M518.2 634.1h0M534.3 634.1h0M514.2 638.1h0M522.2 638.1h0M502.1 642.1h0M538.3 642.1h0M510.1 646.1h0M538.3 646.1h0M534.3 650.1h0M542.3 650.1h0M502.1 654.1h0M510.1 654.1h0M518.2 654.1h0M522.2 654.1h0M538.3 654.1h0M622.3 614.1h0M614.3 618.1h0M614.3 634.1h0M602.2 654.1h0M610.2 654.1h0M618.3 654.1h0M670.1 614.1h0M674.2 614.1h0M698.3 614.1h0M662.1 618.1h0M674.2 618.1h0M686.2 618.1h0M702.3 618.1h0M686.2 622.1h0M690.2 622.1h0M670.1 626.1h0M690.2 626.1h0M678.2 630.1h0M678.2 634.1h0M694.3 634.1h0M702.3 634.1h0M666.1 642.1h0M702.3 642.1h0M666.1 646.1h0M670.1 646.1h0M678.2 646.1h0M690.2 646.1h0M702.3 646.1h0M674.2 654.1h0M742.1 614.1h0M746.1 614.1h0M778.3 614.1h0M742.1 618.1h0M742.1 622.1h0M746.1 622.1h0M766.2 622.1h0M770.2 622.1h0M746.1 626.1h0M758.2 626.1h0M762.2 626.1h0M770.2 626.1h0M746.1 630.1h0M742.1 634.1h0M746.1 638.1h0M762.2 638.1h0M766.2 638.1h0M750.1 642.1h0M754.2 642.1h0M778.3 642.1h0M758.2 646.1h0M762.2 646.1h0M746.1 650.1h0M766.2 654.1h0M846.2 614.1h0M858.3 622.1h0M858.3 626.1h0M850.2 638.1h0M834.2 654.1h0M862.3 654.1h0M922.2 614.1h0M906.1 618.1h0M914.2 626.1h0M926.2 650.1h0M918.2 654.1h0M942.3 654.1h0M262.1 713.7h0M286.2 713.7h0M290.2 733.7h0M302.3 733.7h0M438.2 693.7h0M426.1 697.7h0M422.1 701.7h0M442.2 701.7h0M426.1 705.7h0M442.2 705.7h0M450.2 705.7h0M458.3 705.7h0M422.1 709.7h0M438.2 709.7h0M442.2 709.7h0M450.2 709.7h0M426.1 713.7h0M438.2 713.7h0M462.3 713.7h0M446.2 717.7h0M454.3 717.7h0M426.1 721.7h0M430.1 721.7h0M438.2 721.7h0M422.1 725.7h0M434.2 729.7h0M446.2 729.7h0M430.1 733.7h0M442.2 733.7h0M462.3 733.7h0M506.1 693.7h0M510.1 693.7h0M530.2 697.7h0M510.1 709.7h0M538.3 709.7h0M502.1 713.7h0M522.2 713.7h0M534.3 717.7h0M518.2 725.7h0M522.2 725.7h0M530.2 725.7h0M542.3 729.7h0M518.2 733.7h0M594.2 693.7h0M582.1 697.7h0M598.2 697.7h0M618.3 697.7h0M598.2 705.7h0M606.2 709.7h0M622.3 713.7h0M590.1 717.7h0M594.2 717.7h0M602.2 717.7h0M606.2 717.7h0M598.2 721.7h0M602.2 721.7h0M610.2 721.7h0M618.3 725.7h0M594.2 729.7h0M590.1 733.7h0M606.2 733.7h0M610.2 733.7h0M754.2 693.7h0M746.1 701.7h0M742.1 705.7h0M778.3 709.7h0M742.1 717.7h0M758.2 717.7h0M778.3 721.7h0M754.2 725.7h0M778.3 725.7h0M750.1 729.7h0M986.1 697.7h0M994.2 701.7h0M982.1 721.7h0M1014.3 725.7h0M982.1 733.7h0M998.2 733.7h0M1010.2 733.7h0M1014.3 733.7h0M426.1 777.3h0M514.2 781.3h0M542.3 785.3h0M502.1 789.3h0M514.2 793.3h0M614.3 777.3h0M618.3 777.3h0M602.2 785.3h0M622.3 793.3h0M590.1 797.3h0M606.2 797.3h0M582.1 805.3h0M594.2 809.3h0M594.2 813.3h0M602.2 813.3h0M678.2 773.3h0M750.1 777.3h0M782.3 789.3h0M754.2 793.3h0M746.1 801.3h0M826.1 793.3h0M926.2 813.3h0"/>
<path stroke="#04e404" d="M434.2 140.2h0M450.2 140.2h0M438.2 152.2h0M426.1 160.2h0M442.2 160.2h0M458.3 160.2h0M450.2 164.2h0M454.3 168.2h0M454.3 172.2h0M510.1 136.2h0M534.3 136.2h0M534.3 140.2h0M502.1 144.2h0M518.2 144.2h0M506.1 148.2h0M514.2 148.2h0M522.2 152.2h0M526.2 152.2h0M538.3 152.2h0M514.2 156.2h0M522.2 156.2h0M542.3 156.2h0M510.1 160.2h0M514.2 160.2h0M522.2 160.2h0M538.3 160.2h0M526.2 164.2h0M542.3 168.2h0M502.1 172.2h0M514.2 172.2h0M518.2 172.2h0M542.3 172.2h0M514.2 176.2h0M522.2 176.2h0M542.3 176.2h0M590.1 136.2h0M598.2 136.2h0M598.2 140.2h0M610.2 140.2h0M622.3 140.2h0M586.1 144.2h0M606.2 144.2h0M602.2 148.2h0M582.1 156.2h0M594.2 156.2h0M602.2 156.2h0M606.2 156.2h0M610.2 156.2h0M614.3 156.2h0M622.3 156.2h0M606.2 160.2h0M614.3 160.2h0M582.1 164.2h0M586.1 164.2h0M602.2 164.2h0M606.2 164.2h0M610.2 168.2h0M618.3 168.2h0M606.2 172.2h0M622.3 172.2h0M606.2 176.2h0M754.2 136.2h0M762.2 140.2h0M778.3 140.2h0M742.1 144.2h0M762.2 144.2h0M778.3 148.2h0M782.3 148.2h0M766.2 152.2h0M774.3 152.2h0M782.3 156.2h0M742.1 160.2h0M762.2 160.2h0M750.1 164.2h0M770.2 164.2h0M766.2 168.2h0M770.2 168.2h0M742.1 172.2h0M746.1 172.2h0M750.1 172.2h0M778.3 172.2h0M742.1 176.2h0M770.2 176.2h0M778.3 176.2h0M354.2 215.9h0M350.1 219.9h0M350.1 223.9h0M362.2 223.9h0M366.2 223.9h0M362.2 227.9h0M378.3 231.9h0M378.3 235.9h0M354.2 239.9h0M358.2 239.9h0M362.2 239.9h0M366.2 239.9h0M370.2 239.9h0M346.1 243.9h0M350.1 243.9h0M358.2 251.9h0M374.3 251.9h0M342.1 255.9h0M346.1 255.9h0M350.1 255.9h0M366.2 255.9h0M382.3 255.9h0M422.1 215.9h0M426.1 215.9h0M450.2 215.9h0M450.2 223.9h0M462.3 223.9h0M426.1 227.9h0M438.2 231.9h0M434.2 235.9h0M442.2 235.9h0M454.3 235.9h0M458.3 235.9h0M422.1 239.9h0M442.2 239.9h0M426.1 243.9h0M450.2 243.9h0M454.3 243.9h0M458.3 247.9h0M430.1 251.9h0M434.2 251.9h0M446.2 251.9h0M450.2 251.9h0M438.2 255.9h0M502.1 215.9h0M518.2 215.9h0M530.2 215.9h0M538.3 215.9h0M526.2 219.9h0M502.1 223.9h0M526.2 223.9h0M510.1 227.9h0M506.1 231.9h0M518.2 231.9h0M522.2 231.9h0M542.3 231.9h0M526.2 235.9h0M502.1 239.9h0M538.3 239.9h0M502.1 243.9h0M502.1 247.9h0M506.1 247.9h0M530.2 247.9h0M534.3 247.9h0M510.1 251.9h0M542.3 251.9h0M502.1 255.9h0M506.1 255.9h0M510.1 255.9h0M526.2 255.9h0M534.3 255.9h0M538.3 255.9h0M542.3 255.9h0M582.1 215.9h0M586.1 219.9h0M590.1 219.9h0M618.3 219.9h0M586.1 223.9h0M606.2 223.9h0M622.3 223.9h0M602.2 227.9h0M610.2 227.9h0M614.3 227.9h0M582.1 231.9h0M590.1 231.9h0M598.2 231.9h0M602.2 231.9h0M606.2 231.9h0M606.2 235.9h0M582.1 239.9h0M590.1 239.9h0M614.3 239.9h0M590.1 243.9h0M602.2 243.9h0M618.3 243.9h0M610.2 247.9h0M610.2 255.9h0M674.2 215.9h0M694.3 219.9h0M698.3 219.9h0M670.1 223.9h0M666.1 227.9h0M686.2 227.9h0M690.2 227.9h0M686.2 231.9h0M702.3 231.9h0M682.2 239.9h0M662.1 243.9h0M666.1 243.9h0M674.2 243.9h0M682.2 243.9h0M670.1 247.9h0M674.2 247.9h0M678.2 247.9h0M690.2 247.9h0M686.2 251.9h0M670.1 255.9h0M674.2 255.9h0M774.3 215.9h0M746.1 219.9h0M758.2 219.9h0M750.1 223.9h0M758.2 223.9h0M766.2 223.9h0M758.2 227.9h0M782.3 227.9h0M762.2 231.9h0M762.2 235.9h0M774.3 235.9h0M746.1 239.9h0M750.1 239.9h0M754.2 243.9h0M762.2 247.9h0M750.1 251.9h0M778.3 251.9h0M782.3 251.9h0M742.1 255.9h0M822.1 215.9h0M838.2 215.9h0M846.2 215.9h0M822.1 219.9h0M826.1 219.9h0M834.2 219.9h0M822.1 223.9h0M834.2 223.9h0M846.2 223.9h0M838.2 227.9h0M842.2 227.9h0M850.2 227.9h0M858.3 227.9h0M834.2 231.9h0M834.2 235.9h0M854.3 235.9h0M834.2 239.9h0M850.2 239.9h0M834.2 247.9h0M838.2 247.9h0M862.3 247.9h0M846.2 251.9h0M842.2 255.9h0M858.3 255.9h0M934.3 219.9h0M270.1 303.5h0M266.1 315.5h0M366.2 299.5h0M382.3 303.5h0M382.3 311.5h0M358.2 319.5h0M342.1 323.5h0M358.2 323.5h0M382.3 327.5h0M422.1 295.5h0M430.1 295.5h0M434.2 295.5h0M446.2 295.5h0M426.1 299.5h0M438.2 299.5h0M430.1 303.5h0M434.2 303.5h0M442.2 303.5h0M442.2 307.5h0M446.2 307.5h0M454.3 307.5h0M454.3 311.5h0M426.1 315.5h0M430.1 315.5h0M438.2 315.5h0M442.2 315.5h0M446.2 315.5h0M454.3 319.5h0M450.2 323.5h0M458.3 323.5h0M422.1 327.5h0M438.2 327.5h0M442.2 331.5h0M450.2 331.5h0M454.3 331.5h0M442.2 335.5h0M522.2 295.5h0M542.3 295.5h0M514.2 299.5h0M526.2 299.5h0M530.2 299.5h0M534.3 299.5h0M502.1 303.5h0M518.2 303.5h0M518.2 307.5h0M542.3 307.5h0M526.2 311.5h0M538.3 315.5h0M502.1 319.5h0M510.1 319.5h0M506.1 327.5h0M518.2 327.5h0M522.2 327.5h0M526.2 327.5h0M514.2 331.5h0M538.3 331.5h0M514.2 335.5h0M538.3 335.5h0M586.1 295.5h0M618.3 295.5h0M590.1 299.5h0M602.2 299.5h0M582.1 303.5h0M590.1 303.5h0M598.2 303.5h0M622.3 303.5h0M618.3 307.5h0M622.3 307.5h0M586.1 311.5h0M586.1 315.5h0M598.2 315.5h0M602.2 315.5h0M598.2 319.5h0M602.2 319.5h0M606.2 319.5h0M614.3 319.5h0M594.2 323.5h0M622.3 323.5h0M618.3 327.5h0M614.3 331.5h0M594.2 335.5h0M610.2 335.5h0M670.1 295.5h0M674.2 295.5h0M698.3 295.5h0M662.1 299.5h0M670.1 299.5h0M674.2 299.5h0M690.2 299.5h0M698.3 299.5h0M694.3 303.5h0M662.1 307.5h0M674.2 307.5h0M682.2 307.5h0M694.3 311.5h0M666.1 315.5h0M674.2 315.5h0M678.2 315.5h0M686.2 315.5h0M690.2 315.5h0M702.3 315.5h0M686.2 319.5h0M666.1 323.5h0M678.2 323.5h0M686.2 323.5h0M678.2 327.5h0M694.3 331.5h0M698.3 331.5h0M674.2 335.5h0M682.2 335.5h0M754.2 299.5h0M758.2 299.5h0M746.1 307.5h0M754.2 307.5h0M762.2 307.5h0M766.2 307.5h0M742.1 315.5h0M754.2 319.5h0M778.3 323.5h0M754.2 331.5h0M838.2 295.5h0M822.1 299.5h0M854.3 299.5h0M862.3 299.5h0M822.1 303.5h0M834.2 303.5h0M846.2 303.5h0M854.3 303.5h0M834.2 307.5h0M838.2 311.5h0M826.1 319.5h0M854.3 319.5h0M834.2 323.5h0M842.2 323.5h0M858.3 323.5h0M834.2 327.5h0M862.3 327.5h0M822.1 331.5h0M830.1 331.5h0M834.2 331.5h0M906.1 295.5h0M930.2 295.5h0M938.3 311.5h0M914.2 319.5h0M930.2 327.5h0M934.3 327.5h0M906.1 331.5h0M910.1 331.5h0M918.2 331.5h0M1002.2 295.5h0M1014.3 295.5h0M982.1 299.5h0M994.2 299.5h0M1010.2 299.5h0M1014.3 303.5h0M998.2 307.5h0M1002.2 307.5h0M986.1 311.5h0M1006.2 311.5h0M1014.3 311.5h0M1022.3 315.5h0M1006.2 319.5h0M1018.3 319.5h0M982.1 323.5h0M994.2 323.5h0M1010.2 323.5h0M982.1 327.5h0M998.2 327.5h0M990.1 331.5h0M1018.3 335.5h0M302.3 379.1h0M262.1 387.1h0M286.2 387.1h0M274.2 391.1h0M286.2 399.1h0M266.1 403.1h0M266.1 415.1h0M286.2 415.1h0M350.1 375.1h0M342.1 379.1h0M354.2 379.1h0M382.3 379.1h0M366.2 383.1h0M354.2 387.1h0M358.2 387.1h0M370.2 399.1h0M342.1 403.1h0M346.1 403.1h0M382.3 407.1h0M354.2 411.1h0M382.3 415.1h0M446.2 375.1h0M458.3 375.1h0M438.2 383.1h0M430.1 391.1h0M438.2 391.1h0M438.2 395.1h0M426.1 399.1h0M442.2 399.1h0M454.3 399.1h0M422.1 403.1h0M430.1 403.1h0M458.3 403.1h0M430.1 407.1h0M454.3 407.1h0M450.2 411.1h0M462.3 411.1h0M458.3 415.1h0M510.1 375.1h0M534.3 375.1h0M514.2 379.1h0M530.2 379.1h0M538.3 379.1h0M542.3 379.1h0M502.1 383.1h0M510.1 387.1h0M514.2 387.1h0M522.2 387.1h0M514.2 391.1h0M522.2 391.1h0M502.1 395.1h0M522.2 395.1h0M502.1 399.1h0M514.2 399.1h0M530.2 399.1h0M518.2 403.1h0M530.2 403.1h0M518.2 407.1h0M506.1 411.1h0M510.1 411.1h0M522.2 411.1h0M526.2 411.1h0M538.3 411.1h0M502.1 415.1h0M506.1 415.1h0M510.1 415.1h0M594.2 375.1h0M610.2 375.1h0M586.1 379.1h0M606.2 383.1h0M610.2 383.1h0M582.1 391.1h0M598.2 391.1h0M606.2 391.1h0M586.1 395.1h0M622.3 395.1h0M582.1 403.1h0M602.2 403.1h0M618.3 403.1h0M598.2 407.1h0M622.3 415.1h0M662.1 375.1h0M670.1 375.1h0M678.2 375.1h0M686.2 375.1h0M674.2 379.1h0M686.2 379.1h0M702.3 379.1h0M670.1 383.1h0M686.2 383.1h0M674.2 387.1h0M686.2 387.1h0M694.3 387.1h0M670.1 391.1h0M674.2 391.1h0M678.2 391.1h0M686.2 391.1h0M690.2 391.1h0M702.3 391.1h0M666.1 395.1h0M682.2 395.1h0M694.3 395.1h0M698.3 395.1h0M670.1 399.1h0M674.2 399.1h0M686.2 399.1h0M670.1 403.1h0M698.3 403.1h0M702.3 403.1h0M662.1 407.1h0M694.3 407.1h0M702.3 407.1h0M666.1 411.1h0M670.1 411.1h0M682.2 411.1h0M698.3 411.1h0M702.3 411.1h0M682.2 415.1h0M690.2 415.1h0M702.3 415.1h0M746.1 375.1h0M778.3 375.1h0M770.2 379.1h0M750.1 383.1h0M754.2 383.1h0M778.3 383.1h0M782.3 383.1h0M754.2 391.1h0M758.2 395.1h0M766.2 395.1h0M782.3 395.1h0M762.2 403.1h0M750.1 407.1h0M754.2 407.1h0M758.2 407.1h0M758.2 411.1h0M778.3 411.1h0M826.1 383.1h0M830.1 383.1h0M850.2 383.1h0M858.3 383.1h0M830.1 387.1h0M834.2 387.1h0M854.3 387.1h0M858.3 387.1h0M862.3 387.1h0M822.1 391.1h0M826.1 391.1h0M846.2 391.1h0M822.1 395.1h0M830.1 395.1h0M854.3 395.1h0M826.1 399.1h0M846.2 399.1h0M826.1 403.1h0M834.2 403.1h0M862.3 403.1h0M846.2 407.1h0M834.2 411.1h0M834.2 415.1h0M906.1 375.1h0M910.1 375.1h0M922.2 375.1h0M922.2 379.1h0M942.3 379.1h0M930.2 383.1h0M922.2 387.1h0M930.2 387.1h0M934.3 387.1h0M942.3 387.1h0M922.2 391.1h0M930.2 395.1h0M910.1 399.1h0M914.2 403.1h0M918.2 403.1h0M922.2 403.1h0M934.3 403.1h0M902.1 407.1h0M914.2 407.1h0M918.2 407.1h0M942.3 407.1h0M942.3 411.1h0M918.2 415.1h0M922.2 415.1h0M934.3 415.1h0M1002.2 375.1h0M1022.3 375.1h0M982.1 379.1h0M986.1 379.1h0M1006.2 379.1h0M1010.2 379.1h0M1014.3 379.1h0M1022.3 379.1h0M982.1 383.1h0M1002.2 383.1h0M1018.3 383.1h0M990.1 387.1h0M994.2 387.1h0M998.2 387.1h0M1006.2 387.1h0M982.1 391.1h0M994.2 391.1h0M998.2 391.1h0M982.1 395.1h0M990.1 395.1h0M994.2 395.1h0M998.2 395.1h0M1018.3 395.1h0M982.1 399.1h0M1010.2 399.1h0M1014.3 399.1h0M990.1 403.1h0M994.2 403.1h0M998.2 403.1h0M1006.2 403.1h0M1010.2 403.1h0M1014.3 403.1h0M1022.3 403.1h0M982.1 407.1h0M998.2 407.1h0M1006.2 407.1h0M1010.2 407.1h0M1014.3 407.1h0M1006.2 411.1h0M1018.3 411.1h0M998.2 415.1h0M1002.2 415.1h0M1014.3 415.1h0M286.2 458.8h0M266.1 462.8h0M274.2 462.8h0M270.1 466.8h0M282.2 466.8h0M266.1 470.8h0M282.2 470.8h0M262.1 478.8h0M302.3 478.8h0M282.2 486.8h0M302.3 490.8h0M346.1 454.8h0M366.2 454.8h0M378.3 454.8h0M382.3 454.8h0M342.1 458.8h0M358.2 458.8h0M366.2 458.8h0M370.2 458.8h0M378.3 458.8h0M382.3 458.8h0M342.1 462.8h0M346.1 462.8h0M370.2 462.8h0M342.1 466.8h0M358.2 466.8h0M362.2 466.8h0M370.2 466.8h0M382.3 466.8h0M354.2 470.8h0M346.1 474.8h0M354.2 474.8h0M362.2 474.8h0M346.1 478.8h0M362.2 478.8h0M370.2 478.8h0M342.1 482.8h0M350.1 482.8h0M382.3 482.8h0M346.1 486.8h0M354.2 486.8h0M358.2 486.8h0M370.2 486.8h0M374.3 486.8h0M346.1 490.8h0M354.2 490.8h0M366.2 490.8h0M438.2 454.8h0M450.2 454.8h0M462.3 454.8h0M422.1 458.8h0M454.3 458.8h0M446.2 462.8h0M426.1 466.8h0M438.2 470.8h0M454.3 470.8h0M422.1 474.8h0M442.2 474.8h0M458.3 474.8h0M426.1 478.8h0M422.1 482.8h0M426.1 482.8h0M430.1 482.8h0M450.2 482.8h0M458.3 482.8h0M438.2 486.8h0M446.2 486.8h0M426.1 490.8h0M430.1 490.8h0M438.2 490.8h0M450.2 490.8h0M430.1 494.8h0M446.2 494.8h0M542.3 458.8h0M542.3 462.8h0M502.1 466.8h0M506.1 474.8h0M538.3 474.8h0M534.3 482.8h0M538.3 486.8h0M522.2 490.8h0M534.3 490.8h0M534.3 494.8h0M582.1 454.8h0M614.3 454.8h0M582.1 458.8h0M610.2 458.8h0M586.1 462.8h0M594.2 462.8h0M602.2 462.8h0M590.1 466.8h0M594.2 470.8h0M598.2 470.8h0M594.2 474.8h0M598.2 474.8h0M582.1 478.8h0M618.3 482.8h0M618.3 486.8h0M622.3 486.8h0M586.1 490.8h0M614.3 490.8h0M606.2 494.8h0M610.2 494.8h0M702.3 458.8h0M686.2 462.8h0M678.2 474.8h0M670.1 482.8h0M662.1 486.8h0M782.3 454.8h0M750.1 462.8h0M758.2 466.8h0M766.2 466.8h0M746.1 470.8h0M758.2 470.8h0M750.1 474.8h0M750.1 478.8h0M754.2 478.8h0M766.2 478.8h0M750.1 482.8h0M766.2 482.8h0M770.2 482.8h0M754.2 486.8h0M758.2 486.8h0M782.3 486.8h0M758.2 490.8h0M766.2 490.8h0M774.3 490.8h0M778.3 490.8h0M750.1 494.8h0M770.2 494.8h0M830.1 454.8h0M838.2 454.8h0M842.2 454.8h0M846.2 454.8h0M854.3 454.8h0M858.3 454.8h0M830.1 458.8h0M834.2 458.8h0M838.2 458.8h0M862.3 458.8h0M826.1 462.8h0M858.3 462.8h0M830.1 466.8h0M846.2 466.8h0M858.3 466.8h0M862.3 466.8h0M838.2 470.8h0M846.2 470.8h0M826.1 474.8h0M838.2 474.8h0M850.2 474.8h0M830.1 478.8h0M834.2 478.8h0M838.2 478.8h0M854.3 482.8h0M826.1 486.8h0M854.3 486.8h0M858.3 486.8h0M834.2 490.8h0M838.2 490.8h0M850.2 490.8h0M858.3 490.8h0M830.1 494.8h0M834.2 494.8h0M914.2 454.8h0M926.2 454.8h0M926.2 458.8h0M910.1 462.8h0M922.2 462.8h0M926.2 470.8h0M934.3 470.8h0M938.3 470.8h0M942.3 470.8h0M922.2 474.8h0M926.2 474.8h0M906.1 478.8h0M934.3 478.8h0M942.3 478.8h0M906.1 482.8h0M926.2 482.8h0M942.3 486.8h0M926.2 490.8h0M938.3 490.8h0M914.2 494.8h0M934.3 494.8h0M1006.2 454.8h0M1014.3 454.8h0M1018.3 454.8h0M994.2 458.8h0M1018.3 458.8h0M998.2 462.8h0M1010.2 462.8h0M1014.3 462.8h0M1022.3 462.8h0M998.2 466.8h0M990.1 470.8h0M1002.2 470.8h0M982.1 474.8h0M1002.2 474.8h0M1006.2 474.8h0M1014.3 474.8h0M986.1 478.8h0M994.2 478.8h0M998.2 478.8h0M1002.2 478.8h0M986.1 482.8h0M1002.2 482.8h0M1006.2 482.8h0M1014.3 482.8h0M1018.3 482.8h0M1022.3 482.8h0M986.1 490.8h0M994.2 490.8h0M998.2 490.8h0M1006.2 490.8h0M1014.3 490.8h0M982.1 494.8h0M994.2 494.8h0M1006.2 494.8h0M1018.3 494.8h0M1022.3 494.8h0M298.3 554.4h0M298.3 562.4h0M358.2 534.4h0M382.3 538.4h0M342.1 542.4h0M378.3 542.4h0M350.1 546.4h0M366.2 546.4h0M358.2 550.4h0M374.3 550.4h0M382.3 554.4h0M342.1 558.4h0M354.2 562.4h0M358.2 562.4h0M366.2 562.4h0M354.2 570.4h0M358.2 570.4h0M366.2 570.4h0M346.1 574.4h0M370.2 574.4h0M458.3 546.4h0M422.1 554.4h0M426.1 554.4h0M446.2 554.4h0M450.2 554.4h0M434.2 558.4h0M450.2 558.4h0M454.3 558.4h0M434.2 562.4h0M438.2 562.4h0M458.3 562.4h0M434.2 566.4h0M442.2 566.4h0M446.2 566.4h0M422.1 574.4h0M430.1 574.4h0M538.3 534.4h0M542.3 538.4h0M534.3 542.4h0M542.3 542.4h0M506.1 546.4h0M506.1 550.4h0M510.1 550.4h0M502.1 554.4h0M506.1 554.4h0M542.3 554.4h0M534.3 558.4h0M506.1 562.4h0M514.2 562.4h0M518.2 562.4h0M522.2 562.4h0M530.2 562.4h0M526.2 566.4h0M530.2 566.4h0M534.3 566.4h0M542.3 566.4h0M510.1 570.4h0M514.2 570.4h0M518.2 570.4h0M534.3 570.4h0M502.1 574.4h0M506.1 574.4h0M518.2 574.4h0M542.3 574.4h0M622.3 534.4h0M586.1 538.4h0M590.1 538.4h0M602.2 542.4h0M606.2 542.4h0M618.3 542.4h0M590.1 554.4h0M610.2 554.4h0M586.1 558.4h0M582.1 562.4h0M618.3 562.4h0M606.2 566.4h0M582.1 574.4h0M670.1 534.4h0M678.2 534.4h0M690.2 534.4h0M662.1 538.4h0M662.1 542.4h0M674.2 542.4h0M682.2 542.4h0M702.3 542.4h0M662.1 546.4h0M666.1 546.4h0M682.2 546.4h0M666.1 550.4h0M678.2 550.4h0M686.2 550.4h0M690.2 550.4h0M670.1 554.4h0M690.2 554.4h0M666.1 558.4h0M674.2 558.4h0M678.2 558.4h0M686.2 558.4h0M690.2 558.4h0M694.3 558.4h0M662.1 562.4h0M682.2 562.4h0M674.2 566.4h0M682.2 566.4h0M686.2 566.4h0M662.1 570.4h0M674.2 570.4h0M686.2 570.4h0M694.3 570.4h0M698.3 570.4h0M678.2 574.4h0M758.2 534.4h0M746.1 538.4h0M754.2 538.4h0M762.2 538.4h0M766.2 538.4h0M750.1 542.4h0M758.2 542.4h0M778.3 542.4h0M782.3 542.4h0M758.2 546.4h0M766.2 546.4h0M778.3 546.4h0M758.2 554.4h0M778.3 554.4h0M750.1 558.4h0M770.2 558.4h0M774.3 558.4h0M770.2 562.4h0M754.2 566.4h0M758.2 566.4h0M766.2 566.4h0M746.1 570.4h0M782.3 570.4h0M754.2 574.4h0M834.2 542.4h0M846.2 546.4h0M822.1 550.4h0M826.1 550.4h0M846.2 550.4h0M858.3 550.4h0M826.1 554.4h0M830.1 554.4h0M842.2 554.4h0M846.2 554.4h0M834.2 558.4h0M826.1 562.4h0M846.2 562.4h0M822.1 566.4h0M830.1 566.4h0M842.2 566.4h0M846.2 566.4h0M850.2 566.4h0M822.1 570.4h0M830.1 570.4h0M858.3 570.4h0M822.1 574.4h0M902.1 534.4h0M910.1 534.4h0M910.1 538.4h0M938.3 538.4h0M910.1 542.4h0M922.2 542.4h0M910.1 546.4h0M942.3 546.4h0M910.1 550.4h0M930.2 550.4h0M910.1 554.4h0M914.2 554.4h0M918.2 554.4h0M922.2 558.4h0M934.3 558.4h0M918.2 562.4h0M930.2 562.4h0M914.2 566.4h0M918.2 566.4h0M922.2 566.4h0M930.2 566.4h0M910.1 570.4h0M914.2 570.4h0M926.2 570.4h0M934.3 570.4h0M942.3 570.4h0M902.1 574.4h0M930.2 574.4h0M1002.2 534.4h0M1006.2 534.4h0M1018.3 534.4h0M982.1 538.4h0M1002.2 538.4h0M1010.2 538.4h0M1022.3 538.4h0M982.1 542.4h0M998.2 542.4h0M1006.2 542.4h0M1010.2 542.4h0M982.1 546.4h0M986.1 546.4h0M998.2 546.4h0M1022.3 546.4h0M982.1 550.4h0M994.2 550.4h0M1022.3 550.4h0M1010.2 554.4h0M1022.3 554.4h0M990.1 558.4h0M1002.2 558.4h0M1014.3 562.4h0M982.1 566.4h0M986.1 566.4h0M990.1 566.4h0M990.1 570.4h0M1018.3 570.4h0M1022.3 570.4h0M982.1 574.4h0M1006.2 574.4h0M1010.2 574.4h0M1022.3 574.4h0M378.3 618.1h0M374.3 622.1h0M378.3 630.1h0M382.3 634.1h0M362.2 646.1h0M382.3 646.1h0M378.3 654.1h0M430.1 614.1h0M442.2 614.1h0M450.2 614.1h0M458.3 614.1h0M422.1 618.1h0M426.1 618.1h0M442.2 618.1h0M446.2 618.1h0M450.2 618.1h0M454.3 618.1h0M462.3 618.1h0M426.1 622.1h0M438.2 622.1h0M458.3 622.1h0M430.1 626.1h0M454.3 626.1h0M430.1 630.1h0M446.2 630.1h0M422.1 634.1h0M434.2 634.1h0M446.2 634.1h0M454.3 634.1h0M426.1 638.1h0M438.2 638.1h0M454.3 638.1h0M426.1 642.1h0M430.1 642.1h0M446.2 642.1h0M458.3 642.1h0M430.1 646.1h0M434.2 646.1h0M442.2 646.1h0M454.3 646.1h0M462.3 646.1h0M438.2 650.1h0M442.2 650.1h0M446.2 650.1h0M458.3 650.1h0M422.1 654.1h0M446.2 654.1h0M458.3 654.1h0M502.1 614.1h0M518.2 614.1h0M534.3 614.1h0M542.3 614.1h0M506.1 618.1h0M514.2 618.1h0M518.2 618.1h0M522.2 618.1h0M526.2 618.1h0M534.3 618.1h0M502.1 622.1h0M534.3 622.1h0M538.3 622.1h0M502.1 626.1h0M506.1 626.1h0M510.1 626.1h0M514.2 626.1h0M518.2 626.1h0M506.1 630.1h0M514.2 630.1h0M526.2 630.1h0M530.2 630.1h0M534.3 630.1h0M502.1 634.1h0M522.2 634.1h0M506.1 638.1h0M510.1 638.1h0M518.2 638.1h0M538.3 638.1h0M542.3 638.1h0M506.1 642.1h0M518.2 646.1h0M522.2 646.1h0M526.2 646.1h0M534.3 646.1h0M542.3 646.1h0M502.1 650.1h0M506.1 650.1h0M514.2 650.1h0M518.2 650.1h0M522.2 650.1h0M506.1 654.1h0M590.1 614.1h0M594.2 614.1h0M598.2 614.1h0M606.2 614.1h0M618.3 614.1h0M590.1 618.1h0M618.3 618.1h0M622.3 618.1h0M582.1 626.1h0M622.3 626.1h0M586.1 630.1h0M614.3 630.1h0M598.2 634.1h0M610.2 634.1h0M582.1 638.1h0M622.3 638.1h0M590.1 642.1h0M602.2 642.1h0M598.2 646.1h0M602.2 646.1h0M614.3 646.1h0M622.3 646.1h0M590.1 650.1h0M614.3 650.1h0M598.2 654.1h0M686.2 614.1h0M690.2 614.1h0M666.1 618.1h0M678.2 618.1h0M690.2 618.1h0M694.3 618.1h0M698.3 618.1h0M670.1 622.1h0M674.2 622.1h0M678.2 622.1h0M694.3 622.1h0M662.1 626.1h0M666.1 626.1h0M682.2 626.1h0M686.2 626.1h0M694.3 626.1h0M698.3 626.1h0M702.3 626.1h0M670.1 630.1h0M682.2 630.1h0M686.2 630.1h0M694.3 630.1h0M698.3 630.1h0M662.1 634.1h0M674.2 634.1h0M698.3 634.1h0M662.1 638.1h0M674.2 638.1h0M678.2 638.1h0M682.2 638.1h0M686.2 638.1h0M690.2 638.1h0M702.3 638.1h0M674.2 642.1h0M682.2 642.1h0M698.3 642.1h0M662.1 646.1h0M682.2 646.1h0M686.2 646.1h0M682.2 650.1h0M690.2 650.1h0M694.3 650.1h0M702.3 650.1h0M662.1 654.1h0M670.1 654.1h0M686.2 654.1h0M690.2 654.1h0M694.3 654.1h0M758.2 614.1h0M766.2 614.1h0M782.3 614.1h0M746.1 618.1h0M774.3 618.1h0M750.1 622.1h0M754.2 622.1h0M758.2 622.1h0M778.3 626.1h0M782.3 626.1h0M750.1 630.1h0M746.1 634.1h0M754.2 634.1h0M762.2 634.1h0M750.1 638.1h0M778.3 638.1h0M758.2 642.1h0M762.2 642.1h0M766.2 642.1h0M770.2 642.1h0M754.2 646.1h0M778.3 646.1h0M782.3 646.1h0M742.1 650.1h0M754.2 650.1h0M762.2 650.1h0M770.2 650.1h0M774.3 650.1h0M742.1 654.1h0M750.1 654.1h0M754.2 654.1h0M758.2 654.1h0M770.2 654.1h0M774.3 654.1h0M778.3 654.1h0M782.3 654.1h0M842.2 614.1h0M834.2 618.1h0M838.2 618.1h0M842.2 618.1h0M846.2 618.1h0M834.2 622.1h0M842.2 622.1h0M826.1 626.1h0M834.2 626.1h0M850.2 626.1h0M822.1 630.1h0M834.2 630.1h0M838.2 630.1h0M830.1 634.1h0M846.2 634.1h0M822.1 638.1h0M826.1 638.1h0M834.2 638.1h0M838.2 638.1h0M842.2 638.1h0M846.2 638.1h0M830.1 642.1h0M838.2 642.1h0M858.3 642.1h0M830.1 646.1h0M846.2 650.1h0M858.3 650.1h0M826.1 654.1h0M906.1 614.1h0M930.2 614.1h0M922.2 618.1h0M934.3 622.1h0M910.1 630.1h0M938.3 630.1h0M942.3 638.1h0M906.1 642.1h0M910.1 642.1h0M906.1 646.1h0M914.2 646.1h0M918.2 650.1h0M922.2 650.1h0M922.2 654.1h0M930.2 654.1h0M998.2 630.1h0M998.2 642.1h0M302.3 693.7h0M282.2 697.7h0M294.3 701.7h0M278.2 705.7h0M294.3 705.7h0M290.2 709.7h0M278.2 713.7h0M294.3 713.7h0M270.1 717.7h0M262.1 725.7h0M278.2 729.7h0M374.3 697.7h0M342.1 705.7h0M426.1 693.7h0M430.1 693.7h0M434.2 693.7h0M446.2 693.7h0M430.1 697.7h0M442.2 697.7h0M450.2 697.7h0M454.3 697.7h0M458.3 697.7h0M438.2 701.7h0M458.3 701.7h0M430.1 705.7h0M434.2 705.7h0M446.2 705.7h0M454.3 705.7h0M462.3 705.7h0M426.1 709.7h0M422.1 713.7h0M430.1 713.7h0M446.2 713.7h0M422.1 717.7h0M426.1 717.7h0M430.1 717.7h0M442.2 717.7h0M422.1 721.7h0M434.2 721.7h0M454.3 725.7h0M426.1 729.7h0M438.2 729.7h0M454.3 729.7h0M426.1 733.7h0M438.2 733.7h0M446.2 733.7h0M514.2 693.7h0M518.2 693.7h0M526.2 693.7h0M502.1 697.7h0M542.3 697.7h0M506.1 705.7h0M522.2 705.7h0M526.2 705.7h0M530.2 705.7h0M530.2 709.7h0M506.1 713.7h0M506.1 717.7h0M514.2 717.7h0M522.2 717.7h0M506.1 721.7h0M514.2 721.7h0M506.1 725.7h0M534.3 725.7h0M538.3 725.7h0M506.1 729.7h0M510.1 729.7h0M518.2 729.7h0M522.2 729.7h0M538.3 729.7h0M502.1 733.7h0M538.3 733.7h0M582.1 693.7h0M586.1 693.7h0M602.2 693.7h0M590.1 697.7h0M602.2 697.7h0M622.3 697.7h0M618.3 701.7h0M582.1 705.7h0M610.2 705.7h0M618.3 705.7h0M622.3 705.7h0M582.1 709.7h0M586.1 709.7h0M594.2 709.7h0M598.2 709.7h0M602.2 709.7h0M610.2 709.7h0M614.3 709.7h0M594.2 713.7h0M614.3 713.7h0M618.3 713.7h0M582.1 717.7h0M618.3 717.7h0M606.2 721.7h0M614.3 721.7h0M618.3 721.7h0M622.3 721.7h0M586.1 725.7h0M614.3 725.7h0M622.3 725.7h0M582.1 729.7h0M590.1 729.7h0M614.3 729.7h0M598.2 733.7h0M614.3 733.7h0M618.3 733.7h0M622.3 733.7h0M702.3 701.7h0M686.2 709.7h0M762.2 693.7h0M766.2 693.7h0M770.2 693.7h0M774.3 697.7h0M782.3 697.7h0M762.2 701.7h0M782.3 701.7h0M766.2 705.7h0M774.3 709.7h0M766.2 713.7h0M774.3 717.7h0M782.3 721.7h0M746.1 729.7h0M774.3 733.7h0M782.3 733.7h0M822.1 693.7h0M834.2 713.7h0M858.3 717.7h0M926.2 697.7h0M938.3 701.7h0M982.1 693.7h0M990.1 693.7h0M1002.2 693.7h0M1006.2 693.7h0M1014.3 693.7h0M1014.3 701.7h0M994.2 705.7h0M1002.2 705.7h0M1022.3 705.7h0M982.1 709.7h0M990.1 709.7h0M994.2 709.7h0M998.2 709.7h0M1014.3 709.7h0M990.1 713.7h0M994.2 713.7h0M1002.2 713.7h0M990.1 717.7h0M1006.2 717.7h0M1010.2 717.7h0M1014.3 717.7h0M990.1 721.7h0M994.2 721.7h0M1010.2 721.7h0M986.1 725.7h0M1010.2 725.7h0M982.1 729.7h0M986.1 729.7h0M1002.2 729.7h0M1006.2 729.7h0M1018.3 729.7h0M990.1 733.7h0M1022.3 733.7h0M342.1 793.3h0M342.1 797.3h0M422.1 773.3h0M430.1 773.3h0M438.2 773.3h0M462.3 785.3h0M434.2 789.3h0M426.1 793.3h0M434.2 793.3h0M430.1 797.3h0M462.3 805.3h0M422.1 809.3h0M506.1 773.3h0M510.1 773.3h0M514.2 773.3h0M538.3 773.3h0M538.3 777.3h0M522.2 781.3h0M526.2 789.3h0M506.1 793.3h0M542.3 793.3h0M542.3 797.3h0M510.1 801.3h0M526.2 801.3h0M542.3 801.3h0M514.2 805.3h0M522.2 805.3h0M506.1 809.3h0M526.2 809.3h0M542.3 809.3h0M530.2 813.3h0M534.3 813.3h0M542.3 813.3h0M586.1 777.3h0M602.2 781.3h0M614.3 781.3h0M586.1 785.3h0M594.2 785.3h0M610.2 785.3h0M594.2 789.3h0M610.2 789.3h0M618.3 789.3h0M606.2 805.3h0M582.1 809.3h0M606.2 809.3h0M614.3 813.3h0M686.2 777.3h0M678.2 785.3h0M682.2 793.3h0M690.2 801.3h0M670.1 809.3h0M666.1 813.3h0M686.2 813.3h0M746.1 773.3h0M774.3 773.3h0M746.1 777.3h0M750.1 781.3h0M778.3 789.3h0M774.3 793.3h0M758.2 805.3h0M762.2 805.3h0M774.3 805.3h0M774.3 809.3h0M850.2 777.3h0M858.3 805.3h0M906.1 777.3h0M934.3 777.3h0M910.1 785.3h0M918.2 785.3h0M906.1 793.3h0M938.3 793.3h0M910.1 805.3h0M914.2 805.3h0M926.2 805.3h0M918.2 813.3h0M942.3 813.3h0M522.2 893.0h0M582.1 865.0h0M618.3 865.0h0M586.1 873.0h0M622.3 885.0h0M666.1 865.0h0M702.3 893.0h0"/>
<path stroke="#a4e404" d="M446.2 144.2h0M426.1 176.2h0M450.2 176.2h0M510.1 140.2h0M530.2 144.2h0M526.2 160.2h0M614.3 136.2h0M622.3 136.2h0M590.1 140.2h0M602.2 140.2h0M594.2 144.2h0M614.3 152.2h0M598.2 160.2h0M618.3 164.2h0M598.2 176.2h0M614.3 176.2h0M750.1 156.2h0M758.2 172.2h0M782.3 172.2h0M362.2 243.9h0M374.3 243.9h0M382.3 243.9h0M378.3 255.9h0M430.1 231.9h0M506.1 223.9h0M542.3 223.9h0M502.1 227.9h0M506.1 227.9h0M518.2 227.9h0M534.3 227.9h0M526.2 231.9h0M502.1 235.9h0M506.1 235.9h0M506.1 243.9h0M518.2 243.9h0M530.2 243.9h0M538.3 247.9h0M602.2 215.9h0M582.1 223.9h0M594.2 227.9h0M606.2 227.9h0M618.3 227.9h0M614.3 235.9h0M582.1 243.9h0M586.1 243.9h0M598.2 243.9h0M610.2 243.9h0M582.1 247.9h0M590.1 251.9h0M598.2 251.9h0M610.2 251.9h0M614.3 251.9h0M586.1 255.9h0M590.1 255.9h0M594.2 255.9h0M606.2 255.9h0M618.3 255.9h0M622.3 255.9h0M686.2 223.9h0M742.1 215.9h0M762.2 223.9h0M846.2 219.9h0M426.1 311.5h0M426.1 319.5h0M458.3 319.5h0M422.1 323.5h0M458.3 327.5h0M462.3 327.5h0M422.1 331.5h0M434.2 331.5h0M458.3 331.5h0M430.1 335.5h0M446.2 335.5h0M458.3 335.5h0M530.2 303.5h0M534.3 303.5h0M514.2 307.5h0M518.2 311.5h0M530.2 311.5h0M542.3 311.5h0M518.2 315.5h0M538.3 319.5h0M522.2 323.5h0M510.1 331.5h0M530.2 335.5h0M590.1 295.5h0M594.2 295.5h0M586.1 299.5h0M594.2 299.5h0M598.2 299.5h0M586.1 307.5h0M598.2 307.5h0M606.2 307.5h0M590.1 311.5h0M598.2 311.5h0M610.2 311.5h0M582.1 315.5h0M590.1 315.5h0M594.2 315.5h0M586.1 319.5h0M590.1 319.5h0M594.2 319.5h0M618.3 319.5h0M582.1 323.5h0M586.1 323.5h0M598.2 323.5h0M602.2 323.5h0M586.1 327.5h0M582.1 331.5h0M590.1 331.5h0M598.2 331.5h0M606.2 335.5h0M686.2 295.5h0M694.3 295.5h0M694.3 299.5h0M670.1 303.5h0M682.2 303.5h0M698.3 303.5h0M702.3 303.5h0M666.1 307.5h0M686.2 307.5h0M694.3 307.5h0M698.3 307.5h0M666.1 311.5h0M690.2 311.5h0M694.3 315.5h0M666.1 319.5h0M682.2 319.5h0M690.2 319.5h0M674.2 323.5h0M690.2 323.5h0M702.3 323.5h0M698.3 327.5h0M662.1 331.5h0M686.2 331.5h0M686.2 335.5h0M694.3 335.5h0M698.3 335.5h0M766.2 295.5h0M742.1 299.5h0M762.2 299.5h0M774.3 299.5h0M782.3 299.5h0M742.1 303.5h0M746.1 303.5h0M766.2 303.5h0M746.1 311.5h0M754.2 311.5h0M770.2 311.5h0M774.3 311.5h0M782.3 311.5h0M758.2 319.5h0M774.3 319.5h0M782.3 319.5h0M766.2 323.5h0M746.1 327.5h0M750.1 327.5h0M770.2 327.5h0M746.1 331.5h0M762.2 331.5h0M766.2 331.5h0M746.1 335.5h0M754.2 335.5h0M758.2 335.5h0M774.3 335.5h0M782.3 335.5h0M838.2 299.5h0M846.2 299.5h0M842.2 303.5h0M858.3 303.5h0M826.1 307.5h0M838.2 307.5h0M826.1 311.5h0M858.3 311.5h0M834.2 315.5h0M846.2 315.5h0M830.1 319.5h0M842.2 319.5h0M850.2 319.5h0M830.1 323.5h0M846.2 323.5h0M858.3 327.5h0M862.3 331.5h0M838.2 335.5h0M850.2 335.5h0M902.1 307.5h0M998.2 299.5h0M1002.2 299.5h0M1018.3 299.5h0M1022.3 299.5h0M990.1 303.5h0M998.2 303.5h0M1002.2 303.5h0M1018.3 303.5h0M1006.2 307.5h0M998.2 311.5h0M1018.3 311.5h0M982.1 315.5h0M990.1 315.5h0M998.2 315.5h0M1002.2 319.5h0M986.1 323.5h0M1014.3 323.5h0M990.1 327.5h0M1010.2 327.5h0M1014.3 327.5h0M1018.3 327.5h0M986.1 331.5h0M1002.2 331.5h0M1010.2 331.5h0M994.2 335.5h0M290.2 387.1h0M342.1 391.1h0M378.3 399.1h0M450.2 387.1h0M454.3 403.1h0M446.2 411.1h0M446.2 415.1h0M542.3 375.1h0M506.1 379.1h0M510.1 379.1h0M518.2 379.1h0M514.2 383.1h0M538.3 387.1h0M538.3 391.1h0M506.1 395.1h0M510.1 395.1h0M534.3 395.1h0M542.3 403.1h0M514.2 407.1h0M526.2 407.1h0M530.2 407.1h0M538.3 407.1h0M514.2 411.1h0M514.2 415.1h0M522.2 415.1h0M534.3 415.1h0M538.3 415.1h0M618.3 387.1h0M682.2 375.1h0M698.3 375.1h0M690.2 379.1h0M682.2 383.1h0M702.3 383.1h0M670.1 387.1h0M690.2 399.1h0M678.2 407.1h0M674.2 415.1h0M754.2 375.1h0M766.2 375.1h0M770.2 375.1h0M782.3 375.1h0M754.2 379.1h0M762.2 379.1h0M766.2 379.1h0M778.3 379.1h0M742.1 387.1h0M766.2 387.1h0M774.3 387.1h0M778.3 387.1h0M742.1 391.1h0M750.1 391.1h0M758.2 391.1h0M762.2 391.1h0M778.3 391.1h0M782.3 391.1h0M774.3 395.1h0M742.1 399.1h0M754.2 399.1h0M762.2 399.1h0M766.2 399.1h0M770.2 399.1h0M746.1 403.1h0M754.2 403.1h0M774.3 403.1h0M770.2 407.1h0M782.3 411.1h0M766.2 415.1h0M838.2 375.1h0M842.2 375.1h0M854.3 375.1h0M862.3 375.1h0M822.1 379.1h0M826.1 379.1h0M846.2 379.1h0M850.2 379.1h0M838.2 383.1h0M846.2 383.1h0M846.2 387.1h0M830.1 391.1h0M842.2 391.1h0M826.1 395.1h0M842.2 395.1h0M850.2 395.1h0M858.3 395.1h0M862.3 395.1h0M838.2 399.1h0M854.3 399.1h0M822.1 403.1h0M838.2 403.1h0M854.3 403.1h0M822.1 407.1h0M826.1 407.1h0M850.2 407.1h0M826.1 411.1h0M842.2 411.1h0M846.2 411.1h0M850.2 411.1h0M862.3 411.1h0M830.1 415.1h0M838.2 415.1h0M850.2 415.1h0M930.2 375.1h0M938.3 375.1h0M942.3 375.1h0M918.2 379.1h0M934.3 383.1h0M902.1 387.1h0M910.1 387.1h0M926.2 387.1h0M902.1 391.1h0M938.3 395.1h0M902.1 399.1h0M914.2 399.1h0M942.3 399.1h0M930.2 403.1h0M922.2 407.1h0M926.2 407.1h0M934.3 407.1h0M906.1 411.1h0M918.2 411.1h0M934.3 411.1h0M914.2 415.1h0M1014.3 383.1h0M1010.2 387.1h0M1006.2 391.1h0M1006.2 395.1h0M1006.2 399.1h0M1018.3 399.1h0M1022.3 399.1h0M982.1 403.1h0M986.1 403.1h0M1018.3 407.1h0M982.1 411.1h0M990.1 411.1h0M998.2 411.1h0M1014.3 411.1h0M1006.2 415.1h0M1010.2 415.1h0M350.1 458.8h0M366.2 462.8h0M374.3 462.8h0M350.1 466.8h0M370.2 470.8h0M358.2 474.8h0M342.1 478.8h0M374.3 478.8h0M378.3 478.8h0M358.2 482.8h0M366.2 482.8h0M370.2 482.8h0M374.3 482.8h0M350.1 486.8h0M382.3 486.8h0M350.1 490.8h0M362.2 490.8h0M370.2 490.8h0M346.1 494.8h0M366.2 494.8h0M370.2 494.8h0M430.1 458.8h0M434.2 462.8h0M438.2 466.8h0M422.1 470.8h0M434.2 474.8h0M446.2 474.8h0M454.3 474.8h0M430.1 486.8h0M442.2 486.8h0M434.2 490.8h0M458.3 490.8h0M778.3 470.8h0M742.1 478.8h0M762.2 490.8h0M758.2 494.8h0M850.2 454.8h0M822.1 458.8h0M842.2 458.8h0M846.2 458.8h0M846.2 462.8h0M850.2 466.8h0M834.2 470.8h0M842.2 470.8h0M834.2 474.8h0M846.2 474.8h0M854.3 474.8h0M842.2 478.8h0M830.1 482.8h0M842.2 486.8h0M862.3 486.8h0M826.1 490.8h0M862.3 490.8h0M842.2 494.8h0M850.2 494.8h0M854.3 494.8h0M906.1 454.8h0M918.2 454.8h0M934.3 454.8h0M910.1 458.8h0M918.2 458.8h0M926.2 462.8h0M930.2 462.8h0M918.2 466.8h0M930.2 466.8h0M934.3 466.8h0M914.2 470.8h0M930.2 470.8h0M910.1 474.8h0M934.3 474.8h0M938.3 474.8h0M902.1 478.8h0M902.1 482.8h0M918.2 486.8h0M922.2 486.8h0M926.2 486.8h0M906.1 490.8h0M910.1 490.8h0M914.2 490.8h0M918.2 494.8h0M922.2 494.8h0M994.2 454.8h0M998.2 454.8h0M1010.2 454.8h0M1006.2 458.8h0M990.1 462.8h0M1002.2 462.8h0M1018.3 462.8h0M1006.2 466.8h0M1022.3 466.8h0M982.1 470.8h0M1014.3 470.8h0M990.1 474.8h0M1018.3 474.8h0M990.1 478.8h0M1006.2 478.8h0M982.1 486.8h0M990.1 486.8h0M1010.2 486.8h0M1002.2 490.8h0M986.1 494.8h0M998.2 494.8h0M266.1 542.4h0M362.2 534.4h0M378.3 538.4h0M354.2 546.4h0M354.2 550.4h0M382.3 550.4h0M370.2 554.4h0M378.3 554.4h0M370.2 562.4h0M350.1 566.4h0M362.2 566.4h0M374.3 566.4h0M378.3 566.4h0M378.3 574.4h0M382.3 574.4h0M430.1 534.4h0M446.2 534.4h0M454.3 534.4h0M422.1 538.4h0M426.1 538.4h0M438.2 538.4h0M450.2 538.4h0M462.3 538.4h0M438.2 542.4h0M422.1 546.4h0M430.1 546.4h0M438.2 546.4h0M442.2 546.4h0M462.3 546.4h0M426.1 550.4h0M438.2 550.4h0M442.2 550.4h0M446.2 550.4h0M454.3 550.4h0M462.3 550.4h0M438.2 554.4h0M462.3 554.4h0M438.2 558.4h0M462.3 558.4h0M430.1 562.4h0M430.1 566.4h0M438.2 566.4h0M422.1 570.4h0M442.2 570.4h0M454.3 570.4h0M426.1 574.4h0M434.2 574.4h0M502.1 538.4h0M530.2 550.4h0M662.1 550.4h0M666.1 562.4h0M690.2 574.4h0M698.3 574.4h0M826.1 534.4h0M834.2 534.4h0M838.2 534.4h0M850.2 534.4h0M822.1 538.4h0M846.2 538.4h0M846.2 542.4h0M850.2 542.4h0M826.1 546.4h0M834.2 546.4h0M838.2 546.4h0M862.3 546.4h0M830.1 550.4h0M850.2 550.4h0M854.3 554.4h0M850.2 558.4h0M862.3 562.4h0M838.2 570.4h0M846.2 570.4h0M854.3 574.4h0M914.2 538.4h0M926.2 562.4h0M994.2 538.4h0M1014.3 550.4h0M1018.3 550.4h0M1010.2 558.4h0M1022.3 558.4h0M1006.2 566.4h0M998.2 574.4h0M434.2 622.1h0M426.1 626.1h0M454.3 630.1h0M438.2 634.1h0M442.2 634.1h0M446.2 646.1h0M458.3 646.1h0M426.1 650.1h0M434.2 654.1h0M438.2 654.1h0M522.2 614.1h0M526.2 614.1h0M502.1 618.1h0M510.1 618.1h0M542.3 626.1h0M522.2 630.1h0M506.1 634.1h0M526.2 634.1h0M534.3 638.1h0M518.2 642.1h0M526.2 642.1h0M542.3 642.1h0M506.1 646.1h0M514.2 646.1h0M526.2 650.1h0M514.2 654.1h0M598.2 622.1h0M610.2 622.1h0M610.2 626.1h0M590.1 654.1h0M662.1 614.1h0M682.2 614.1h0M670.1 618.1h0M698.3 622.1h0M686.2 634.1h0M670.1 642.1h0M690.2 642.1h0M694.3 646.1h0M774.3 614.1h0M750.1 618.1h0M742.1 626.1h0M754.2 630.1h0M762.2 630.1h0M750.1 634.1h0M758.2 634.1h0M782.3 634.1h0M742.1 638.1h0M774.3 638.1h0M782.3 642.1h0M746.1 646.1h0M750.1 646.1h0M774.3 646.1h0M834.2 614.1h0M826.1 618.1h0M826.1 622.1h0M838.2 622.1h0M822.1 626.1h0M850.2 642.1h0M842.2 650.1h0M926.2 630.1h0M266.1 693.7h0M274.2 713.7h0M294.3 729.7h0M450.2 693.7h0M454.3 693.7h0M422.1 697.7h0M446.2 697.7h0M462.3 697.7h0M438.2 705.7h0M454.3 709.7h0M462.3 709.7h0M434.2 713.7h0M458.3 717.7h0M462.3 717.7h0M442.2 721.7h0M458.3 721.7h0M442.2 725.7h0M458.3 725.7h0M450.2 733.7h0M502.1 693.7h0M522.2 697.7h0M518.2 709.7h0M530.2 717.7h0M614.3 697.7h0M614.3 701.7h0M586.1 705.7h0M618.3 709.7h0M586.1 713.7h0M590.1 713.7h0M598.2 725.7h0M606.2 729.7h0M586.1 733.7h0M742.1 721.7h0M514.2 813.3h0M914.2 813.3h0"/>
<path stroke="#4c14b4" d="M434.2 152.2h0M434.2 164.2h0M442.2 164.2h0M666.1 136.2h0M698.3 136.2h0M702.3 140.2h0M682.2 148.2h0M686.2 148.2h0M694.3 152.2h0M702.3 152.2h0M682.2 156.2h0M674.2 164.2h0M702.3 172.2h0M674.2 176.2h0M702.3 176.2h0M906.1 255.9h0M282.2 303.5h0M278.2 323.5h0M266.1 474.8h0M682.2 486.8h0M270.1 534.4h0M262.1 546.4h0M286.2 562.4h0M290.2 570.4h0M278.2 618.1h0M282.2 618.1h0M286.2 618.1h0M262.1 622.1h0M266.1 622.1h0M266.1 626.1h0M270.1 626.1h0M274.2 626.1h0M282.2 626.1h0M266.1 634.1h0M286.2 634.1h0M262.1 638.1h0M270.1 638.1h0M294.3 638.1h0M302.3 638.1h0M262.1 642.1h0M262.1 646.1h0M274.2 650.1h0M282.2 654.1h0M346.1 654.1h0M1022.3 614.1h0M982.1 626.1h0M998.2 626.1h0M1006.2 638.1h0M986.1 642.1h0M1006.2 642.1h0M1018.3 642.1h0M1022.3 646.1h0M986.1 650.1h0M1018.3 654.1h0M282.2 701.7h0M370.2 785.3h0M358.2 789.3h0M374.3 809.3h0M842.2 773.3h0M834.2 805.3h0M838.2 805.3h0M438.2 853.0h0M462.3 857.0h0M442.2 869.0h0M434.2 873.0h0M434.2 877.0h0M454.3 877.0h0M426.1 881.0h0M422.1 885.0h0M426.1 885.0h0M430.1 885.0h0M438.2 889.0h0M454.3 889.0h0M458.3 889.0h0M446.2 893.0h0M502.1 857.0h0M614.3 877.0h0M594.2 881.0h0M614.3 881.0h0M682.2 853.0h0M666.1 873.0h0M682.2 881.0h0M694.3 881.0h0M682.2 889.0h0M774.3 861.0h0M754.2 881.0h0M766.2 889.0h0M826.1 861.0h0M826.1 865.0h0M858.3 865.0h0M862.3 869.0h0M826.1 873.0h0M842.2 873.0h0M830.1 881.0h0M858.3 881.0h0M846.2 893.0h0M850.2 893.0h0"/>
<path stroke="#3424dc" d="M426.1 168.2h0M674.2 136.2h0M678.2 136.2h0M678.2 140.2h0M694.3 140.2h0M678.2 148.2h0M690.2 148.2h0M666.1 152.2h0M698.3 152.2h0M666.1 156.2h0M662.1 160.2h0M662.1 164.2h0M698.3 164.2h0M670.1 168.2h0M678.2 168.2h0M698.3 168.2h0M670.1 172.2h0M674.2 172.2h0M686.2 172.2h0M686.2 176.2h0M930.2 223.9h0M914.2 231.9h0M910.1 239.9h0M914.2 243.9h0M930.2 255.9h0M278.2 295.5h0M294.3 307.5h0M286.2 311.5h0M298.3 311.5h0M262.1 323.5h0M274.2 323.5h0M278.2 327.5h0M282.2 375.1h0M282.2 399.1h0M302.3 407.1h0M294.3 415.1h0M298.3 415.1h0M270.1 458.8h0M542.3 482.8h0M678.2 470.8h0M670.1 474.8h0M674.2 478.8h0M690.2 478.8h0M694.3 486.8h0M670.1 490.8h0M290.2 534.4h0M286.2 542.4h0M278.2 546.4h0M266.1 554.4h0M282.2 554.4h0M294.3 554.4h0M302.3 554.4h0M278.2 558.4h0M290.2 558.4h0M294.3 566.4h0M610.2 558.4h0M270.1 614.1h0M274.2 614.1h0M282.2 614.1h0M294.3 618.1h0M302.3 618.1h0M270.1 622.1h0M278.2 622.1h0M282.2 622.1h0M290.2 622.1h0M266.1 630.1h0M270.1 630.1h0M278.2 630.1h0M294.3 630.1h0M278.2 642.1h0M286.2 642.1h0M290.2 642.1h0M274.2 646.1h0M278.2 646.1h0M290.2 646.1h0M266.1 650.1h0M298.3 650.1h0M302.3 650.1h0M270.1 654.1h0M278.2 654.1h0M350.1 614.1h0M342.1 618.1h0M1018.3 618.1h0M1006.2 626.1h0M1006.2 630.1h0M1010.2 634.1h0M1002.2 638.1h0M1022.3 638.1h0M1022.3 642.1h0M986.1 646.1h0M1002.2 646.1h0M982.1 654.1h0M986.1 654.1h0M1022.3 654.1h0M274.2 717.7h0M662.1 705.7h0M690.2 725.7h0M910.1 721.7h0M350.1 797.3h0M350.1 805.3h0M374.3 805.3h0M382.3 805.3h0M458.3 809.3h0M670.1 785.3h0M702.3 789.3h0M694.3 809.3h0M830.1 773.3h0M838.2 773.3h0M834.2 781.3h0M842.2 785.3h0M850.2 785.3h0M850.2 789.3h0M862.3 789.3h0M822.1 793.3h0M822.1 797.3h0M830.1 797.3h0M854.3 797.3h0M830.1 801.3h0M862.3 801.3h0M842.2 805.3h0M850.2 805.3h0M862.3 813.3h0M934.3 805.3h0M422.1 853.0h0M426.1 853.0h0M454.3 853.0h0M450.2 857.0h0M426.1 861.0h0M434.2 865.0h0M454.3 865.0h0M422.1 869.0h0M434.2 869.0h0M438.2 869.0h0M446.2 869.0h0M454.3 869.0h0M442.2 877.0h0M458.3 877.0h0M422.1 881.0h0M430.1 881.0h0M438.2 881.0h0M446.2 881.0h0M462.3 881.0h0M434.2 885.0h0M438.2 885.0h0M446.2 885.0h0M450.2 885.0h0M458.3 885.0h0M422.1 889.0h0M426.1 889.0h0M434.2 889.0h0M430.1 893.0h0M438.2 893.0h0M450.2 893.0h0M514.2 853.0h0M506.1 857.0h0M510.1 861.0h0M514.2 861.0h0M542.3 861.0h0M526.2 865.0h0M526.2 869.0h0M530.2 869.0h0M542.3 869.0h0M506.1 873.0h0M510.1 873.0h0M502.1 877.0h0M534.3 877.0h0M518.2 881.0h0M538.3 881.0h0M506.1 885.0h0M510.1 885.0h0M518.2 889.0h0M522.2 889.0h0M510.1 893.0h0M594.2 853.0h0M606.2 853.0h0M586.1 857.0h0M618.3 857.0h0M606.2 861.0h0M622.3 861.0h0M582.1 869.0h0M590.1 869.0h0M598.2 873.0h0M582.1 881.0h0M590.1 893.0h0M662.1 857.0h0M698.3 857.0h0M702.3 865.0h0M686.2 873.0h0M686.2 877.0h0M666.1 881.0h0M662.1 885.0h0M674.2 885.0h0M690.2 893.0h0M774.3 853.0h0M750.1 861.0h0M762.2 861.0h0M782.3 861.0h0M742.1 869.0h0M742.1 873.0h0M774.3 873.0h0M754.2 877.0h0M770.2 881.0h0M746.1 889.0h0M778.3 889.0h0M746.1 893.0h0M782.3 893.0h0M846.2 853.0h0M862.3 853.0h0M842.2 857.0h0M838.2 861.0h0M846.2 861.0h0M850.2 861.0h0M834.2 865.0h0M854.3 865.0h0M830.1 869.0h0M834.2 869.0h0M850.2 869.0h0M850.2 873.0h0M854.3 873.0h0M862.3 873.0h0M846.2 877.0h0M858.3 877.0h0M838.2 889.0h0M862.3 889.0h0"/>
<path stroke="#ec8404" d="M462.3 168.2h0M846.2 148.2h0M854.3 156.2h0M822.1 160.2h0M834.2 160.2h0M850.2 160.2h0M846.2 164.2h0M850.2 168.2h0M622.3 299.5h0M594.2 303.5h0M618.3 315.5h0M618.3 323.5h0M662.1 311.5h0M682.2 311.5h0M750.1 299.5h0M778.3 299.5h0M746.1 315.5h0M778.3 315.5h0M770.2 323.5h0M754.2 327.5h0M774.3 331.5h0M782.3 331.5h0M834.2 311.5h0M862.3 311.5h0M862.3 315.5h0M850.2 331.5h0M1006.2 299.5h0M1022.3 303.5h0M1014.3 307.5h0M1006.2 331.5h0M522.2 383.1h0M778.3 395.1h0M742.1 407.1h0M750.1 411.1h0M850.2 399.1h0M826.1 415.1h0M862.3 415.1h0M426.1 454.8h0M454.3 494.8h0M902.1 466.8h0M906.1 466.8h0M902.1 490.8h0M918.2 490.8h0M994.2 470.8h0M378.3 534.4h0M342.1 546.4h0M422.1 534.4h0M426.1 542.4h0M462.3 562.4h0M850.2 570.4h0M458.3 733.7h0"/>
<path stroke="#2444fc" d="M454.3 176.2h0M662.1 136.2h0M670.1 136.2h0M682.2 136.2h0M694.3 136.2h0M702.3 136.2h0M690.2 140.2h0M666.1 144.2h0M670.1 144.2h0M674.2 144.2h0M678.2 144.2h0M682.2 144.2h0M694.3 144.2h0M662.1 148.2h0M698.3 148.2h0M662.1 152.2h0M674.2 152.2h0M690.2 152.2h0M662.1 156.2h0M670.1 156.2h0M698.3 156.2h0M666.1 160.2h0M674.2 160.2h0M690.2 160.2h0M702.3 164.2h0M682.2 168.2h0M694.3 168.2h0M702.3 168.2h0M662.1 176.2h0M678.2 176.2h0M694.3 176.2h0M462.3 235.9h0M446.2 243.9h0M938.3 215.9h0M906.1 227.9h0M918.2 227.9h0M922.2 227.9h0M910.1 231.9h0M942.3 235.9h0M914.2 247.9h0M918.2 247.9h0M938.3 247.9h0M302.3 295.5h0M282.2 299.5h0M290.2 303.5h0M262.1 311.5h0M290.2 311.5h0M262.1 315.5h0M270.1 315.5h0M290.2 315.5h0M266.1 319.5h0M274.2 327.5h0M294.3 331.5h0M294.3 335.5h0M942.3 299.5h0M282.2 383.1h0M266.1 395.1h0M266.1 407.1h0M298.3 470.8h0M298.3 490.8h0M538.3 490.8h0M606.2 454.8h0M666.1 454.8h0M682.2 454.8h0M698.3 458.8h0M662.1 462.8h0M678.2 466.8h0M690.2 474.8h0M674.2 482.8h0M666.1 490.8h0M702.3 490.8h0M678.2 494.8h0M686.2 494.8h0M698.3 494.8h0M282.2 534.4h0M298.3 534.4h0M294.3 538.4h0M278.2 550.4h0M294.3 550.4h0M270.1 562.4h0M282.2 562.4h0M274.2 566.4h0M262.1 570.4h0M270.1 570.4h0M294.3 570.4h0M298.3 570.4h0M282.2 574.4h0M290.2 574.4h0M298.3 574.4h0M286.2 614.1h0M262.1 618.1h0M266.1 618.1h0M298.3 618.1h0M262.1 626.1h0M290.2 626.1h0M290.2 630.1h0M298.3 630.1h0M290.2 634.1h0M294.3 634.1h0M278.2 638.1h0M286.2 638.1h0M298.3 638.1h0M266.1 646.1h0M302.3 646.1h0M282.2 650.1h0M286.2 650.1h0M302.3 654.1h0M370.2 618.1h0M342.1 622.1h0M358.2 622.1h0M350.1 626.1h0M342.1 638.1h0M346.1 642.1h0M354.2 642.1h0M346.1 646.1h0M350.1 650.1h0M354.2 650.1h0M358.2 654.1h0M990.1 614.1h0M994.2 614.1h0M1006.2 618.1h0M1014.3 618.1h0M998.2 622.1h0M1006.2 622.1h0M1014.3 622.1h0M1018.3 622.1h0M994.2 626.1h0M1002.2 626.1h0M1010.2 626.1h0M1010.2 630.1h0M1018.3 630.1h0M1022.3 630.1h0M1022.3 634.1h0M986.1 638.1h0M990.1 638.1h0M998.2 638.1h0M982.1 642.1h0M994.2 642.1h0M998.2 650.1h0M298.3 693.7h0M266.1 701.7h0M270.1 701.7h0M286.2 709.7h0M294.3 709.7h0M302.3 709.7h0M278.2 717.7h0M270.1 721.7h0M266.1 729.7h0M270.1 729.7h0M362.2 697.7h0M346.1 709.7h0M350.1 709.7h0M370.2 729.7h0M662.1 693.7h0M678.2 693.7h0M674.2 713.7h0M686.2 717.7h0M702.3 725.7h0M698.3 733.7h0M826.1 701.7h0M854.3 705.7h0M822.1 713.7h0M850.2 729.7h0M834.2 733.7h0M926.2 725.7h0M934.3 733.7h0M370.2 773.3h0M342.1 777.3h0M350.1 777.3h0M350.1 781.3h0M342.1 785.3h0M374.3 785.3h0M378.3 785.3h0M382.3 785.3h0M346.1 789.3h0M346.1 793.3h0M382.3 797.3h0M346.1 805.3h0M342.1 809.3h0M346.1 809.3h0M370.2 809.3h0M374.3 813.3h0M434.2 773.3h0M458.3 793.3h0M602.2 805.3h0M598.2 813.3h0M674.2 773.3h0M674.2 777.3h0M666.1 781.3h0M694.3 781.3h0M702.3 793.3h0M682.2 797.3h0M682.2 801.3h0M690.2 805.3h0M662.1 813.3h0M694.3 813.3h0M822.1 773.3h0M858.3 773.3h0M862.3 773.3h0M826.1 777.3h0M822.1 781.3h0M826.1 781.3h0M846.2 781.3h0M854.3 785.3h0M822.1 789.3h0M830.1 789.3h0M858.3 789.3h0M850.2 793.3h0M862.3 793.3h0M822.1 801.3h0M850.2 801.3h0M858.3 801.3h0M830.1 809.3h0M838.2 809.3h0M842.2 813.3h0M902.1 785.3h0M926.2 797.3h0M902.1 805.3h0M450.2 853.0h0M426.1 857.0h0M434.2 861.0h0M446.2 861.0h0M430.1 865.0h0M438.2 865.0h0M458.3 865.0h0M458.3 869.0h0M430.1 873.0h0M438.2 873.0h0M450.2 873.0h0M462.3 873.0h0M430.1 877.0h0M450.2 877.0h0M462.3 877.0h0M450.2 881.0h0M454.3 881.0h0M442.2 885.0h0M454.3 885.0h0M462.3 889.0h0M442.2 893.0h0M462.3 893.0h0M510.1 853.0h0M542.3 853.0h0M510.1 857.0h0M518.2 861.0h0M522.2 861.0h0M534.3 861.0h0M538.3 861.0h0M522.2 865.0h0M506.1 869.0h0M518.2 869.0h0M502.1 873.0h0M534.3 873.0h0M518.2 877.0h0M522.2 877.0h0M526.2 877.0h0M538.3 877.0h0M502.1 881.0h0M506.1 881.0h0M510.1 881.0h0M526.2 881.0h0M538.3 885.0h0M530.2 889.0h0M506.1 893.0h0M530.2 893.0h0M610.2 857.0h0M618.3 861.0h0M594.2 865.0h0M586.1 869.0h0M606.2 869.0h0M622.3 873.0h0M590.1 877.0h0M594.2 877.0h0M590.1 881.0h0M610.2 881.0h0M622.3 889.0h0M614.3 893.0h0M670.1 853.0h0M686.2 853.0h0M698.3 853.0h0M702.3 857.0h0M682.2 861.0h0M674.2 869.0h0M694.3 869.0h0M662.1 877.0h0M670.1 877.0h0M698.3 877.0h0M702.3 877.0h0M686.2 881.0h0M670.1 885.0h0M686.2 885.0h0M746.1 853.0h0M754.2 853.0h0M758.2 853.0h0M754.2 857.0h0M778.3 857.0h0M750.1 865.0h0M754.2 865.0h0M758.2 865.0h0M774.3 865.0h0M782.3 865.0h0M754.2 869.0h0M766.2 869.0h0M774.3 869.0h0M762.2 873.0h0M766.2 873.0h0M742.1 877.0h0M766.2 877.0h0M782.3 877.0h0M750.1 881.0h0M762.2 885.0h0M782.3 885.0h0M782.3 889.0h0M754.2 893.0h0M774.3 893.0h0M826.1 853.0h0M830.1 853.0h0M834.2 853.0h0M838.2 853.0h0M850.2 853.0h0M854.3 853.0h0M826.1 857.0h0M838.2 857.0h0M846.2 857.0h0M850.2 857.0h0M858.3 861.0h0M862.3 861.0h0M830.1 865.0h0M842.2 865.0h0M826.1 869.0h0M842.2 869.0h0M854.3 869.0h0M842.2 877.0h0M850.2 877.0h0M834.2 881.0h0M854.3 881.0h0M822.1 885.0h0M834.2 885.0h0M826.1 889.0h0M850.2 889.0h0M826.1 893.0h0M834.2 893.0h0M838.2 893.0h0M858.3 893.0h0"/>
<path stroke="#dcd404" d="M614.3 140.2h0M618.3 160.2h0M594.2 168.2h0M594.2 172.2h0M514.2 219.9h0M522.2 227.9h0M502.1 231.9h0M514.2 243.9h0M522.2 247.9h0M518.2 251.9h0M586.1 215.9h0M598.2 219.9h0M582.1 227.9h0M622.3 231.9h0M594.2 239.9h0M610.2 239.9h0M622.3 243.9h0M594.2 247.9h0M598.2 247.9h0M618.3 247.9h0M582.1 255.9h0M850.2 219.9h0M434.2 319.5h0M442.2 323.5h0M446.2 323.5h0M450.2 327.5h0M450.2 335.5h0M462.3 335.5h0M522.2 299.5h0M514.2 303.5h0M522.2 303.5h0M514.2 315.5h0M522.2 315.5h0M506.1 323.5h0M502.1 335.5h0M534.3 335.5h0M602.2 295.5h0M606.2 295.5h0M582.1 299.5h0M586.1 303.5h0M614.3 303.5h0M602.2 307.5h0M610.2 307.5h0M614.3 307.5h0M602.2 311.5h0M614.3 311.5h0M610.2 315.5h0M622.3 319.5h0M590.1 323.5h0M590.1 327.5h0M606.2 327.5h0M614.3 327.5h0M622.3 327.5h0M622.3 331.5h0M614.3 335.5h0M622.3 335.5h0M686.2 303.5h0M678.2 311.5h0M698.3 311.5h0M662.1 323.5h0M682.2 327.5h0M702.3 327.5h0M742.1 295.5h0M762.2 295.5h0M778.3 295.5h0M758.2 303.5h0M750.1 311.5h0M742.1 319.5h0M742.1 323.5h0M750.1 323.5h0M762.2 323.5h0M762.2 327.5h0M766.2 327.5h0M782.3 327.5h0M750.1 331.5h0M758.2 331.5h0M750.1 335.5h0M762.2 335.5h0M766.2 335.5h0M778.3 335.5h0M834.2 295.5h0M850.2 295.5h0M850.2 303.5h0M854.3 307.5h0M830.1 311.5h0M822.1 315.5h0M842.2 315.5h0M838.2 319.5h0M854.3 323.5h0M862.3 323.5h0M822.1 327.5h0M826.1 327.5h0M850.2 327.5h0M842.2 331.5h0M854.3 331.5h0M830.1 335.5h0M858.3 335.5h0M990.1 295.5h0M1018.3 295.5h0M990.1 299.5h0M986.1 303.5h0M1006.2 303.5h0M1010.2 303.5h0M982.1 307.5h0M990.1 307.5h0M1022.3 311.5h0M986.1 315.5h0M1002.2 315.5h0M1018.3 315.5h0M986.1 319.5h0M1022.3 319.5h0M1018.3 323.5h0M1006.2 327.5h0M1014.3 331.5h0M982.1 335.5h0M998.2 335.5h0M1006.2 335.5h0M458.3 407.1h0M502.1 375.1h0M526.2 375.1h0M530.2 383.1h0M506.1 399.1h0M522.2 399.1h0M502.1 411.1h0M534.3 411.1h0M542.3 415.1h0M698.3 387.1h0M670.1 415.1h0M758.2 375.1h0M750.1 379.1h0M758.2 383.1h0M766.2 383.1h0M758.2 387.1h0M774.3 391.1h0M746.1 395.1h0M750.1 395.1h0M770.2 395.1h0M778.3 399.1h0M782.3 399.1h0M766.2 403.1h0M770.2 403.1h0M762.2 407.1h0M778.3 407.1h0M774.3 411.1h0M782.3 415.1h0M830.1 379.1h0M854.3 379.1h0M834.2 383.1h0M822.1 387.1h0M842.2 387.1h0M850.2 387.1h0M850.2 391.1h0M858.3 391.1h0M842.2 399.1h0M862.3 399.1h0M830.1 403.1h0M846.2 403.1h0M850.2 403.1h0M842.2 407.1h0M858.3 407.1h0M846.2 415.1h0M854.3 415.1h0M918.2 375.1h0M902.1 379.1h0M910.1 379.1h0M902.1 383.1h0M906.1 391.1h0M930.2 391.1h0M910.1 395.1h0M914.2 395.1h0M918.2 395.1h0M934.3 395.1h0M934.3 399.1h0M906.1 403.1h0M910.1 403.1h0M914.2 411.1h0M922.2 411.1h0M902.1 415.1h0M1018.3 375.1h0M994.2 379.1h0M998.2 379.1h0M1022.3 387.1h0M1022.3 391.1h0M982.1 415.1h0M354.2 462.8h0M374.3 466.8h0M342.1 490.8h0M374.3 490.8h0M358.2 494.8h0M422.1 462.8h0M462.3 462.8h0M462.3 474.8h0M438.2 478.8h0M854.3 458.8h0M834.2 462.8h0M830.1 470.8h0M826.1 478.8h0M846.2 490.8h0M846.2 494.8h0M902.1 454.8h0M910.1 454.8h0M902.1 458.8h0M906.1 458.8h0M922.2 458.8h0M906.1 462.8h0M922.2 466.8h0M906.1 470.8h0M918.2 470.8h0M902.1 474.8h0M906.1 474.8h0M938.3 478.8h0M922.2 482.8h0M910.1 486.8h0M914.2 486.8h0M934.3 486.8h0M938.3 486.8h0M906.1 494.8h0M930.2 494.8h0M938.3 494.8h0M986.1 454.8h0M990.1 458.8h0M986.1 462.8h0M1006.2 462.8h0M994.2 466.8h0M986.1 470.8h0M986.1 474.8h0M982.1 482.8h0M986.1 486.8h0M990.1 494.8h0M378.3 546.4h0M362.2 550.4h0M362.2 554.4h0M350.1 562.4h0M382.3 570.4h0M442.2 534.4h0M458.3 534.4h0M442.2 542.4h0M450.2 542.4h0M458.3 542.4h0M462.3 542.4h0M426.1 546.4h0M446.2 546.4h0M430.1 550.4h0M458.3 554.4h0M422.1 558.4h0M442.2 558.4h0M446.2 562.4h0M450.2 562.4h0M454.3 562.4h0M454.3 566.4h0M458.3 566.4h0M462.3 566.4h0M426.1 570.4h0M434.2 570.4h0M438.2 570.4h0M450.2 570.4h0M442.2 574.4h0M450.2 574.4h0M454.3 574.4h0M458.3 574.4h0M462.3 574.4h0M522.2 534.4h0M514.2 558.4h0M678.2 542.4h0M694.3 574.4h0M834.2 538.4h0M854.3 546.4h0M834.2 554.4h0M830.1 558.4h0M858.3 558.4h0M858.3 562.4h0M902.1 570.4h0M434.2 626.1h0M462.3 630.1h0M430.1 650.1h0M450.2 654.1h0M538.3 614.1h0M502.1 638.1h0M586.1 634.1h0M702.3 630.1h0M694.3 642.1h0M742.1 630.1h0M778.3 630.1h0M782.3 638.1h0M742.1 646.1h0M766.2 646.1h0M766.2 650.1h0M858.3 614.1h0M422.1 693.7h0M442.2 693.7h0M446.2 701.7h0M430.1 709.7h0M446.2 709.7h0M434.2 725.7h0M450.2 725.7h0M462.3 725.7h0M462.3 729.7h0M510.1 721.7h0M542.3 721.7h0M586.1 701.7h0M622.3 701.7h0M750.1 697.7h0M1018.3 733.7h0M614.3 793.3h0M422.1 893.0h0"/>
<path stroke="#6c047c" d="M678.2 152.2h0M670.1 164.2h0M690.2 164.2h0M674.2 168.2h0M666.1 172.2h0M670.1 176.2h0M286.2 534.4h0M282.2 542.4h0M290.2 614.1h0M270.1 618.1h0M274.2 618.1h0M302.3 622.1h0M278.2 626.1h0M262.1 630.1h0M274.2 630.1h0M286.2 630.1h0M262.1 634.1h0M274.2 638.1h0M270.1 650.1h0M290.2 650.1h0M262.1 654.1h0M354.2 638.1h0M342.1 654.1h0M1010.2 638.1h0M362.2 797.3h0M858.3 809.3h0M458.3 853.0h0M438.2 861.0h0M422.1 865.0h0M446.2 865.0h0M450.2 869.0h0M434.2 881.0h0M442.2 881.0h0M462.3 885.0h0M430.1 889.0h0M446.2 889.0h0M450.2 889.0h0M502.1 853.0h0M690.2 857.0h0M690.2 861.0h0M670.1 889.0h0M846.2 873.0h0M830.1 877.0h0M842.2 881.0h0M842.2 885.0h0M822.1 889.0h0"/>
<path stroke="#540444" d="M686.2 156.2h0M278.2 299.5h0M262.1 614.1h0M266.1 614.1h0M294.3 614.1h0M274.2 622.1h0M282.2 630.1h0M270.1 634.1h0M278.2 634.1h0M282.2 634.1h0M274.2 642.1h0M262.1 650.1h0M266.1 654.1h0M270.1 725.7h0M430.1 853.0h0M430.1 857.0h0M450.2 861.0h0M442.2 865.0h0M426.1 873.0h0M422.1 877.0h0M426.1 877.0h0M438.2 877.0h0M454.3 893.0h0M602.2 873.0h0"/>
<path stroke="#fc440c" d="M822.1 136.2h0M842.2 136.2h0M830.1 144.2h0M858.3 148.2h0M846.2 160.2h0M842.2 164.2h0M854.3 164.2h0M858.3 164.2h0M822.1 168.2h0M826.1 168.2h0M834.2 168.2h0M854.3 168.2h0M822.1 172.2h0M830.1 172.2h0M834.2 172.2h0M842.2 172.2h0M846.2 172.2h0M826.1 176.2h0M838.2 176.2h0M854.3 176.2h0M762.2 315.5h0"/>
<path stroke="#a40414" d="M826.1 136.2h0M834.2 136.2h0M838.2 136.2h0M858.3 136.2h0M822.1 140.2h0M834.2 140.2h0M842.2 140.2h0M858.3 140.2h0M862.3 140.2h0M834.2 144.2h0M854.3 144.2h0M842.2 148.2h0M850.2 148.2h0M854.3 148.2h0M830.1 152.2h0M846.2 152.2h0M862.3 152.2h0M830.1 156.2h0M834.2 156.2h0M838.2 156.2h0M846.2 156.2h0M862.3 156.2h0M826.1 160.2h0M830.1 160.2h0M858.3 160.2h0M838.2 164.2h0M862.3 176.2h0"/>
<path stroke="#fc1c0c" d="M830.1 136.2h0M846.2 136.2h0M850.2 136.2h0M826.1 140.2h0M822.1 144.2h0M826.1 144.2h0M826.1 148.2h0M830.1 148.2h0M834.2 148.2h0M838.2 148.2h0M826.1 152.2h0M838.2 152.2h0M858.3 152.2h0M826.1 156.2h0M850.2 156.2h0M854.3 160.2h0M862.3 160.2h0M826.1 164.2h0M830.1 164.2h0M834.2 164.2h0M830.1 168.2h0M846.2 168.2h0M862.3 168.2h0M826.1 172.2h0M838.2 172.2h0M850.2 172.2h0M854.3 172.2h0M822.1 176.2h0M834.2 176.2h0M850.2 176.2h0M858.3 176.2h0"/>
<path stroke="#ec0c14" d="M854.3 136.2h0M862.3 136.2h0M830.1 140.2h0M838.2 140.2h0M846.2 140.2h0M850.2 140.2h0M854.3 140.2h0M838.2 144.2h0M842.2 144.2h0M846.2 144.2h0M858.3 144.2h0M862.3 144.2h0M822.1 148.2h0M862.3 148.2h0M822.1 152.2h0M834.2 152.2h0M850.2 152.2h0M854.3 152.2h0M842.2 156.2h0M838.2 160.2h0M842.2 160.2h0M850.2 164.2h0M842.2 168.2h0M858.3 168.2h0M858.3 172.2h0M862.3 172.2h0M842.2 176.2h0M846.2 176.2h0"/>
<path stroke="#f46404" d="M850.2 144.2h0M842.2 152.2h0M862.3 164.2h0M838.2 168.2h0M830.1 176.2h0M618.3 311.5h0M778.3 319.5h0M1010.2 335.5h0M746.1 379.1h0M742.1 403.1h0M366.2 550.4h0M850.2 538.4h0"/>
<path stroke="#e4ac04" d="M858.3 156.2h0M618.3 215.9h0M602.2 219.9h0M622.3 219.9h0M594.2 235.9h0M614.3 247.9h0M622.3 247.9h0M582.1 251.9h0M526.2 295.5h0M522.2 319.5h0M526.2 331.5h0M614.3 295.5h0M610.2 299.5h0M602.2 303.5h0M610.2 303.5h0M590.1 307.5h0M606.2 311.5h0M622.3 311.5h0M606.2 323.5h0M610.2 323.5h0M582.1 327.5h0M602.2 331.5h0M674.2 303.5h0M670.1 315.5h0M674.2 331.5h0M682.2 331.5h0M746.1 299.5h0M770.2 299.5h0M762.2 303.5h0M774.3 303.5h0M782.3 303.5h0M742.1 307.5h0M750.1 307.5h0M770.2 307.5h0M782.3 307.5h0M742.1 311.5h0M758.2 311.5h0M778.3 311.5h0M758.2 315.5h0M766.2 315.5h0M770.2 315.5h0M762.2 319.5h0M770.2 319.5h0M774.3 323.5h0M742.1 327.5h0M774.3 327.5h0M778.3 327.5h0M742.1 335.5h0M846.2 307.5h0M862.3 307.5h0M830.1 315.5h0M826.1 323.5h0M822.1 335.5h0M834.2 335.5h0M986.1 295.5h0M998.2 295.5h0M982.1 303.5h0M994.2 303.5h0M982.1 311.5h0M1002.2 311.5h0M1010.2 311.5h0M994.2 315.5h0M982.1 319.5h0M1022.3 323.5h0M986.1 327.5h0M1018.3 331.5h0M986.1 335.5h0M458.3 411.1h0M518.2 395.1h0M530.2 395.1h0M666.1 379.1h0M742.1 375.1h0M774.3 375.1h0M742.1 379.1h0M746.1 383.1h0M774.3 383.1h0M746.1 391.1h0M770.2 391.1h0M762.2 395.1h0M750.1 403.1h0M782.3 403.1h0M746.1 407.1h0M746.1 411.1h0M770.2 415.1h0M774.3 415.1h0M850.2 375.1h0M858.3 375.1h0M822.1 383.1h0M854.3 383.1h0M838.2 391.1h0M834.2 407.1h0M942.3 395.1h0M930.2 399.1h0M902.1 411.1h0M910.1 415.1h0M1022.3 383.1h0M350.1 478.8h0M826.1 454.8h0M858.3 482.8h0M830.1 490.8h0M914.2 458.8h0M918.2 462.8h0M938.3 462.8h0M902.1 470.8h0M910.1 470.8h0M910.1 478.8h0M914.2 478.8h0M918.2 478.8h0M922.2 478.8h0M926.2 478.8h0M906.1 486.8h0M910.1 494.8h0M982.1 458.8h0M986.1 458.8h0M362.2 538.4h0M370.2 546.4h0M366.2 574.4h0M426.1 534.4h0M434.2 534.4h0M438.2 534.4h0M458.3 538.4h0M446.2 542.4h0M450.2 546.4h0M430.1 554.4h0M442.2 554.4h0M430.1 558.4h0M426.1 562.4h0M422.1 566.4h0M450.2 566.4h0M446.2 570.4h0M458.3 570.4h0M438.2 574.4h0M842.2 546.4h0M862.3 566.4h0M854.3 570.4h0M382.3 618.1h0M750.1 650.1h0M458.3 693.7h0M450.2 701.7h0M434.2 709.7h0M422.1 729.7h0M434.2 733.7h0M522.2 797.3h0"/>
<path stroke="#74e404" d="M822.1 164.2h0M434.2 893.0h0"/>
<path stroke="#64045c" d="M610.2 219.9h0M994.2 554.4h0"/>
</g>
<defs><linearGradient id="cb" x1="0" y1="0" x2="0" y2="1">
<stop offset="0.000" stop-color="#a00010"/><stop offset="0.050" stop-color="#e80c10"/><stop offset="0.080" stop-color="#ff1010"/><stop offset="0.150" stop-color="#f84008"/><stop offset="0.200" stop-color="#f06000"/><stop offset="0.250" stop-color="#e88000"/><stop offset="0.300" stop-color="#e0a800"/><stop offset="0.370" stop-color="#dcdc00"/><stop offset="0.420" stop-color="#80e000"/><stop offset="0.500" stop-color="#00e000"/><stop offset="0.560" stop-color="#00c850"/><stop offset="0.620" stop-color="#00b090"/><stop offset="0.680" stop-color="#1090c0"/><stop offset="0.750" stop-color="#2070e0"/><stop offset="0.800" stop-color="#2848ff"/><stop offset="0.860" stop-color="#4020d0"/><stop offset="0.920" stop-color="#5010a0"/><stop offset="0.960" stop-color="#700070"/><stop offset="1.000" stop-color="#500040"/></linearGradient></defs>
<rect x="1060" y="106" width="25.5" height="102.5" fill="url(#cb)"/>
<path d="M1085.5 106.5h5" stroke="#a00010" stroke-width="1.5"/>
<path d="M1085.5 208h5" stroke="#500040" stroke-width="1.5"/>
<path d="M1086 132.2h4" stroke="#e88000" stroke-width="1.5"/>
<path d="M1086 157.5h4" stroke="#00e000" stroke-width="1.5"/>
<path d="M1086 182.8h4" stroke="#2070e0" stroke-width="1.5"/>
<rect x="1060" y="221" width="25" height="13" fill="#7a7a80"/>
</svg>
<div class="xl" style="left:212.5px">-40</div><div class="xl" style="left:312.5px">-30</div><div class="xl" style="left:412.5px">-20</div><div class="xl" style="left:512.5px">-10</div><div class="xl" style="left:612.5px">0</div><div class="xl" style="left:712.5px">10</div><div class="xl" style="left:812.5px">20</div><div class="xl" style="left:912.5px">30</div><div class="xl" style="left:1012.5px">40</div>
<div class="yl" style="top:904.1px">-40</div><div class="yl" style="top:804.5px">-30</div><div class="yl" style="top:705.0px">-20</div><div class="yl" style="top:605.4px">-10</div><div class="yl" style="top:505.9px">0</div><div class="yl" style="top:406.3px">10</div><div class="yl" style="top:306.8px">20</div><div class="yl" style="top:207.2px">30</div><div class="yl" style="top:107.7px">40</div>
<div class="t" style="left:540px;width:200px;top:956px;text-align:center;font-size:15.3px">U (mm)</div>
<div class="t" style="left:132px;top:505px;width:100px;text-align:center;font-size:15px;transform:rotate(-90deg);transform-origin:50% 50%">V (mm)</div>
<div class="t" style="left:1060px;top:69.5px;font-size:15.6px">Line width (nm)</div>
<div class="t" style="left:1098px;top:99px;font-size:15px">277.0</div>
<div class="t" style="left:1098px;top:124px;font-size:15px">274.5</div>
<div class="t" style="left:1098px;top:149px;font-size:15px">272.0</div>
<div class="t" style="left:1098px;top:174px;font-size:15px">269.5</div>
<div class="t" style="left:1098px;top:200px;font-size:15px">267.0</div>
<div class="t" style="left:1098px;top:218.5px;font-size:15.6px">Missing</div>
<div class="t" style="left:170px;top:978px;font-size:15px">Where(WaferID = Wafer_12)</div>
</body></html>
